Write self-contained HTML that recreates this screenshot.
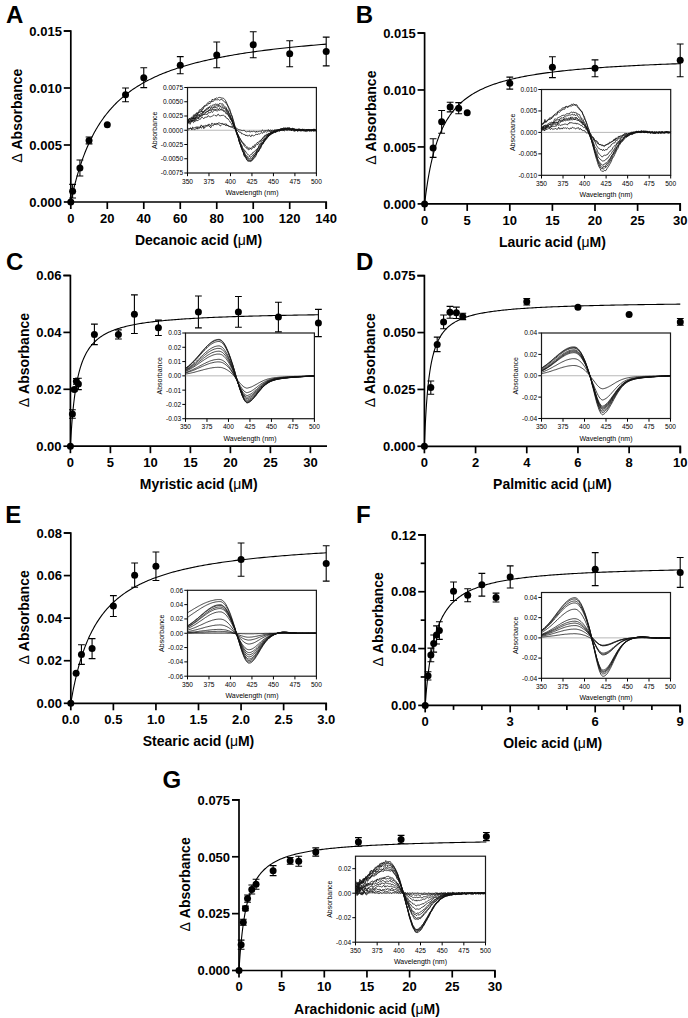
<!DOCTYPE html><html><head><meta charset="utf-8"><style>html,body{margin:0;padding:0;background:#fff;}svg{display:block;}</style></head><body>
<svg width="688" height="1018" viewBox="0 0 688 1018" font-family='"Liberation Sans", sans-serif'>
<rect width="688" height="1018" fill="#fff"/>
<text x="5.90" y="22.90" font-size="24" font-weight="bold" text-anchor="start">A</text>
<path d="M63.80 31.00H70.80V202.00H326.20V209.00" fill="none" stroke="#000" stroke-width="1.7"/>
<path d="M63.80 202.00H70.80" stroke="#000" stroke-width="1.7"/>
<text x="61.90" y="206.75" font-size="13" font-weight="bold" text-anchor="end">0.000</text>
<path d="M63.80 145.00H70.80" stroke="#000" stroke-width="1.7"/>
<text x="61.90" y="149.75" font-size="13" font-weight="bold" text-anchor="end">0.005</text>
<path d="M63.80 88.00H70.80" stroke="#000" stroke-width="1.7"/>
<text x="61.90" y="92.75" font-size="13" font-weight="bold" text-anchor="end">0.010</text>
<path d="M63.80 31.00H70.80" stroke="#000" stroke-width="1.7"/>
<text x="61.90" y="35.75" font-size="13" font-weight="bold" text-anchor="end">0.015</text>
<path d="M70.80 202.00V209.00" stroke="#000" stroke-width="1.7"/>
<text x="70.80" y="222.80" font-size="13" font-weight="bold" text-anchor="middle">0</text>
<path d="M107.29 202.00V209.00" stroke="#000" stroke-width="1.7"/>
<text x="107.29" y="222.80" font-size="13" font-weight="bold" text-anchor="middle">20</text>
<path d="M143.77 202.00V209.00" stroke="#000" stroke-width="1.7"/>
<text x="143.77" y="222.80" font-size="13" font-weight="bold" text-anchor="middle">40</text>
<path d="M180.26 202.00V209.00" stroke="#000" stroke-width="1.7"/>
<text x="180.26" y="222.80" font-size="13" font-weight="bold" text-anchor="middle">60</text>
<path d="M216.74 202.00V209.00" stroke="#000" stroke-width="1.7"/>
<text x="216.74" y="222.80" font-size="13" font-weight="bold" text-anchor="middle">80</text>
<path d="M253.23 202.00V209.00" stroke="#000" stroke-width="1.7"/>
<text x="253.23" y="222.80" font-size="13" font-weight="bold" text-anchor="middle">100</text>
<path d="M289.71 202.00V209.00" stroke="#000" stroke-width="1.7"/>
<text x="289.71" y="222.80" font-size="13" font-weight="bold" text-anchor="middle">120</text>
<path d="M326.20 202.00V209.00" stroke="#000" stroke-width="1.7"/>
<text x="326.20" y="222.80" font-size="13" font-weight="bold" text-anchor="middle">140</text>
<text transform="translate(21.77 115.70) rotate(-90)" font-size="14" font-weight="bold" text-anchor="middle"><tspan font-weight="normal">Δ</tspan> Absorbance</text>
<text x="198.50" y="245.00" font-size="14" font-weight="bold" text-anchor="middle">Decanoic acid (<tspan font-weight="normal">μ</tspan>M)</text>
<polyline points="70.80,202.00 70.81,201.97 70.83,201.88 70.86,201.73 70.90,201.51 70.96,201.24 71.03,200.91 71.11,200.51 71.21,200.06 71.32,199.56 71.44,198.99 71.57,198.37 71.72,197.70 71.88,196.98 72.05,196.20 72.24,195.37 72.43,194.50 72.65,193.57 72.87,192.61 73.10,191.60 73.35,190.54 73.62,189.45 73.89,188.32 74.18,187.15 74.48,185.95 74.79,184.71 75.12,183.45 75.45,182.15 75.81,180.83 76.17,179.48 76.55,178.11 76.94,176.72 77.34,175.30 77.75,173.87 78.18,172.42 78.62,170.96 79.07,169.48 79.54,168.00 80.02,166.50 80.51,164.99 81.02,163.48 81.53,161.96 82.06,160.43 82.61,158.91 83.16,157.38 83.73,155.85 84.31,154.32 84.90,152.80 85.51,151.27 86.13,149.75 86.76,148.24 87.41,146.73 88.07,145.22 88.74,143.73 89.42,142.24 90.11,140.76 90.82,139.29 91.54,137.83 92.28,136.38 93.03,134.94 93.79,133.52 94.56,132.10 95.34,130.70 96.14,129.31 96.95,127.94 97.78,126.58 98.61,125.23 99.46,123.89 100.32,122.57 101.20,121.27 102.09,119.98 102.99,118.70 103.90,117.44 104.83,116.20 105.76,114.97 106.72,113.75 107.68,112.55 108.66,111.37 109.65,110.20 110.65,109.04 111.66,107.90 112.69,106.78 113.73,105.67 114.79,104.58 115.85,103.50 116.93,102.44 118.02,101.39 119.13,100.36 120.25,99.34 121.38,98.33 122.52,97.34 123.67,96.37 124.84,95.40 126.02,94.46 127.22,93.52 128.42,92.60 129.64,91.70 130.88,90.80 132.12,89.92 133.38,89.06 134.65,88.20 135.93,87.36 137.23,86.54 138.54,85.72 139.86,84.92 141.19,84.13 142.54,83.35 143.90,82.58 145.27,81.82 146.66,81.08 148.06,80.35 149.47,79.62 150.89,78.91 152.33,78.21 153.78,77.52 155.24,76.85 156.72,76.18 158.20,75.52 159.70,74.87 161.22,74.23 162.74,73.60 164.28,72.98 165.83,72.37 167.40,71.77 168.98,71.18 170.57,70.60 172.17,70.02 173.78,69.46 175.41,68.90 177.05,68.35 178.71,67.81 180.37,67.28 182.05,66.76 183.74,66.24 185.45,65.73 187.17,65.23 188.90,64.74 190.64,64.25 192.40,63.77 194.16,63.30 195.95,62.83 197.74,62.38 199.55,61.92 201.37,61.48 203.20,61.04 205.04,60.61 206.90,60.18 208.77,59.76 210.66,59.35 212.55,58.94 214.46,58.54 216.38,58.14 218.32,57.75 220.27,57.37 222.23,56.99 224.20,56.62 226.19,56.25 228.18,55.88 230.20,55.53 232.22,55.17 234.26,54.82 236.31,54.48 238.37,54.14 240.44,53.81 242.53,53.48 244.63,53.15 246.75,52.83 248.87,52.52 251.01,52.21 253.16,51.90 255.33,51.59 257.50,51.30 259.69,51.00 261.90,50.71 264.11,50.42 266.34,50.14 268.58,49.86 270.84,49.58 273.10,49.31 275.38,49.04 277.67,48.78 279.98,48.52 282.30,48.26 284.63,48.00 286.97,47.75 289.33,47.50 291.70,47.26 294.08,47.02 296.47,46.78 298.88,46.54 301.30,46.31 303.73,46.08 306.18,45.85 308.63,45.63 311.11,45.41 313.59,45.19 316.09,44.97 318.60,44.76 321.12,44.55 323.65,44.34 326.20,44.14" fill="none" stroke="#000" stroke-width="1.1"/>
<path d="M72.62 184.33V198.01M69.22 184.33H76.02M69.22 198.01H76.02" stroke="#000" stroke-width="1.1" fill="none"/>
<path d="M79.92 160.05V176.01M76.52 160.05H83.32M76.52 176.01H83.32" stroke="#000" stroke-width="1.1" fill="none"/>
<path d="M89.04 137.02V143.86M85.64 137.02H92.44M85.64 143.86H92.44" stroke="#000" stroke-width="1.1" fill="none"/>
<path d="M125.53 88.00V101.68M122.13 88.00H128.93M122.13 101.68H128.93" stroke="#000" stroke-width="1.1" fill="none"/>
<path d="M143.77 67.82V87.66M140.37 67.82H147.17M140.37 87.66H147.17" stroke="#000" stroke-width="1.1" fill="none"/>
<path d="M180.26 56.65V73.75M176.86 56.65H183.66M176.86 73.75H183.66" stroke="#000" stroke-width="1.1" fill="none"/>
<path d="M216.74 42.06V67.82M213.34 42.06H220.14M213.34 67.82H220.14" stroke="#000" stroke-width="1.1" fill="none"/>
<path d="M253.23 31.68V57.68M249.83 31.68H256.63M249.83 57.68H256.63" stroke="#000" stroke-width="1.1" fill="none"/>
<path d="M289.71 40.80V66.80M286.31 40.80H293.11M286.31 66.80H293.11" stroke="#000" stroke-width="1.1" fill="none"/>
<path d="M326.20 37.16V65.88M322.80 37.16H329.60M322.80 65.88H329.60" stroke="#000" stroke-width="1.1" fill="none"/>
<circle cx="70.80" cy="202.00" r="3.5"/>
<circle cx="72.62" cy="191.17" r="3.5"/>
<circle cx="79.92" cy="168.03" r="3.5"/>
<circle cx="89.04" cy="140.44" r="3.5"/>
<circle cx="107.29" cy="124.82" r="3.5"/>
<circle cx="125.53" cy="94.84" r="3.5"/>
<circle cx="143.77" cy="77.74" r="3.5"/>
<circle cx="180.26" cy="65.20" r="3.5"/>
<circle cx="216.74" cy="54.94" r="3.5"/>
<circle cx="253.23" cy="44.68" r="3.5"/>
<circle cx="289.71" cy="53.80" r="3.5"/>
<circle cx="326.20" cy="51.52" r="3.5"/>
<rect x="187.50" y="87.50" width="128.90" height="85.50" fill="#fff" stroke="#1a1a1a" stroke-width="1.2"/>
<path d="M187.50 130.25H316.40" stroke="#b0b0b0" stroke-width="0.9"/>
<polyline points="187.5,120.5 188.4,119.3 189.2,118.7 190.1,118.2 190.9,118.3 191.8,116.9 192.7,117.6 193.5,114.9 194.4,115.4 195.2,113.8 196.1,114.5 197.0,112.4 197.8,113.4 198.7,111.7 199.5,109.8 200.4,109.5 201.2,109.6 202.1,107.8 203.0,107.9 203.8,106.2 204.7,106.0 205.5,105.1 206.4,104.6 207.3,103.2 208.1,102.7 209.0,101.6 209.8,101.8 210.7,101.7 211.6,101.3 212.4,99.0 213.3,100.2 214.1,99.3 215.0,98.6 215.9,98.5 216.7,97.9 217.6,98.3 218.4,97.6 219.3,97.4 220.2,97.6 221.0,97.7 221.9,98.2 222.7,98.1 223.6,98.3 224.5,99.3 225.3,100.2 226.2,101.7 227.0,103.5 227.9,105.6 228.7,107.3 229.6,108.7 230.5,111.8 231.3,114.6 232.2,116.1 233.0,119.0 233.9,121.8 234.8,126.1 235.6,127.4 236.5,131.4 237.3,134.4 238.2,136.4 239.1,139.8 239.9,142.7 240.8,146.4 241.6,148.2 242.5,151.5 243.4,152.4 244.2,156.3 245.1,156.9 245.9,158.5 246.8,159.3 247.7,160.7 248.5,161.2 249.4,161.0 250.2,161.8 251.1,161.2 251.9,160.7 252.8,159.8 253.7,158.6 254.5,157.6 255.4,157.1 256.2,155.1 257.1,152.0 258.0,152.1 258.8,150.5 259.7,149.1 260.5,148.7 261.4,146.4 262.3,143.8 263.1,144.0 264.0,142.0 264.8,140.9 265.7,138.9 266.6,139.3 267.4,137.3 268.3,137.0 269.1,135.2 270.0,134.9 270.9,134.7 271.7,133.3 272.6,133.1 273.4,133.3 274.3,131.3 275.2,132.9 276.0,130.8 276.9,130.6 277.7,131.4 278.6,129.9 279.4,129.8 280.3,129.8 281.2,129.3 282.0,129.6 282.9,129.3 283.7,129.5 284.6,128.7 285.5,127.8 286.3,128.2 287.2,128.9 288.0,129.5 288.9,129.6 289.8,129.3 290.6,129.2 291.5,129.5 292.3,128.7 293.2,129.5 294.1,128.9 294.9,130.3 295.8,129.6 296.6,129.5 297.5,129.4 298.4,129.9 299.2,130.4 300.1,129.3 300.9,130.7 301.8,129.2 302.7,130.6 303.5,130.4 304.4,130.0 305.2,131.0 306.1,129.8 306.9,129.4 307.8,130.6 308.7,129.7 309.5,130.1 310.4,130.9 311.2,130.8 312.1,130.1 313.0,129.5 313.8,130.9 314.7,129.6 315.5,130.8 316.4,131.5" fill="none" stroke="#111" stroke-width="0.8" stroke-linejoin="round"/>
<polyline points="187.5,119.8 188.4,121.5 189.2,118.4 190.1,119.2 190.9,118.5 191.8,118.7 192.7,119.1 193.5,116.5 194.4,115.7 195.2,115.2 196.1,114.4 197.0,113.9 197.8,113.0 198.7,112.7 199.5,111.5 200.4,110.7 201.2,111.9 202.1,109.3 203.0,109.4 203.8,107.5 204.7,105.7 205.5,106.2 206.4,105.3 207.3,105.4 208.1,104.3 209.0,103.0 209.8,103.9 210.7,102.5 211.6,101.2 212.4,101.5 213.3,101.5 214.1,100.6 215.0,99.3 215.9,100.1 216.7,99.7 217.6,99.8 218.4,99.5 219.3,100.3 220.2,99.8 221.0,99.5 221.9,99.3 222.7,100.0 223.6,101.3 224.5,101.9 225.3,101.8 226.2,103.8 227.0,104.6 227.9,106.2 228.7,108.7 229.6,110.4 230.5,112.6 231.3,114.6 232.2,117.1 233.0,120.7 233.9,123.2 234.8,125.9 235.6,129.2 236.5,131.6 237.3,134.4 238.2,137.1 239.1,140.7 239.9,143.4 240.8,145.4 241.6,148.9 242.5,150.3 243.4,152.6 244.2,154.8 245.1,156.4 245.9,156.9 246.8,160.1 247.7,160.9 248.5,160.7 249.4,161.1 250.2,160.0 251.1,160.4 251.9,160.5 252.8,159.2 253.7,158.4 254.5,156.0 255.4,154.8 256.2,154.9 257.1,152.7 258.0,151.5 258.8,151.3 259.7,148.4 260.5,147.4 261.4,145.6 262.3,144.3 263.1,143.0 264.0,141.8 264.8,141.3 265.7,138.7 266.6,138.3 267.4,137.3 268.3,136.0 269.1,135.8 270.0,135.2 270.9,133.9 271.7,133.3 272.6,133.4 273.4,131.8 274.3,132.1 275.2,131.9 276.0,131.9 276.9,131.2 277.7,130.8 278.6,130.9 279.4,130.9 280.3,130.4 281.2,128.9 282.0,128.9 282.9,129.3 283.7,127.6 284.6,129.4 285.5,128.5 286.3,129.3 287.2,128.4 288.0,128.6 288.9,128.0 289.8,127.7 290.6,130.1 291.5,128.6 292.3,129.0 293.2,129.5 294.1,129.8 294.9,129.8 295.8,129.9 296.6,129.0 297.5,130.3 298.4,128.9 299.2,129.4 300.1,129.6 300.9,130.3 301.8,130.1 302.7,129.9 303.5,129.5 304.4,130.8 305.2,129.8 306.1,131.2 306.9,130.4 307.8,130.1 308.7,130.0 309.5,131.4 310.4,129.7 311.2,129.8 312.1,129.6 313.0,130.2 313.8,130.1 314.7,130.0 315.5,130.7 316.4,130.6" fill="none" stroke="#111" stroke-width="0.8" stroke-linejoin="round"/>
<polyline points="187.5,122.5 188.4,120.1 189.2,120.1 190.1,119.1 190.9,120.1 191.8,118.1 192.7,118.7 193.5,118.1 194.4,116.2 195.2,115.6 196.1,115.6 197.0,116.3 197.8,113.7 198.7,112.4 199.5,112.5 200.4,112.1 201.2,111.5 202.1,110.7 203.0,112.2 203.8,111.3 204.7,110.4 205.5,110.0 206.4,108.5 207.3,108.1 208.1,107.6 209.0,107.3 209.8,106.6 210.7,105.8 211.6,106.3 212.4,105.3 213.3,104.6 214.1,105.6 215.0,104.0 215.9,104.1 216.7,104.4 217.6,104.1 218.4,105.2 219.3,103.6 220.2,103.3 221.0,104.2 221.9,103.8 222.7,103.8 223.6,105.5 224.5,106.3 225.3,106.9 226.2,107.4 227.0,110.1 227.9,110.1 228.7,112.3 229.6,113.8 230.5,116.0 231.3,118.1 232.2,119.8 233.0,122.9 233.9,124.8 234.8,128.0 235.6,129.8 236.5,132.7 237.3,134.9 238.2,137.8 239.1,140.3 239.9,143.6 240.8,145.7 241.6,147.9 242.5,150.1 243.4,152.6 244.2,155.2 245.1,155.4 245.9,156.9 246.8,157.9 247.7,159.5 248.5,159.9 249.4,159.9 250.2,160.2 251.1,160.1 251.9,159.3 252.8,157.6 253.7,156.6 254.5,155.3 255.4,155.1 256.2,153.1 257.1,150.7 258.0,151.3 258.8,149.9 259.7,148.3 260.5,146.8 261.4,145.2 262.3,142.6 263.1,143.2 264.0,140.4 264.8,140.1 265.7,138.6 266.6,138.4 267.4,137.5 268.3,136.5 269.1,135.0 270.0,134.1 270.9,133.6 271.7,134.1 272.6,133.5 273.4,132.3 274.3,131.1 275.2,131.5 276.0,131.2 276.9,130.8 277.7,130.4 278.6,130.5 279.4,129.8 280.3,128.5 281.2,128.9 282.0,129.1 282.9,129.2 283.7,128.6 284.6,128.0 285.5,129.0 286.3,129.0 287.2,127.8 288.0,128.1 288.9,128.7 289.8,128.6 290.6,129.0 291.5,128.7 292.3,128.2 293.2,129.0 294.1,129.9 294.9,129.8 295.8,128.8 296.6,130.1 297.5,131.5 298.4,129.6 299.2,128.6 300.1,130.1 300.9,130.3 301.8,130.2 302.7,129.2 303.5,130.2 304.4,130.7 305.2,130.9 306.1,131.6 306.9,130.1 307.8,131.4 308.7,130.4 309.5,129.6 310.4,130.4 311.2,130.3 312.1,131.2 313.0,129.4 313.8,129.4 314.7,129.7 315.5,130.3 316.4,130.1" fill="none" stroke="#111" stroke-width="0.8" stroke-linejoin="round"/>
<polyline points="187.5,121.4 188.4,119.5 189.2,121.2 190.1,120.8 190.9,120.7 191.8,119.8 192.7,118.2 193.5,119.0 194.4,117.0 195.2,116.3 196.1,116.0 197.0,114.7 197.8,114.9 198.7,114.7 199.5,115.0 200.4,113.7 201.2,113.6 202.1,113.0 203.0,111.7 203.8,112.1 204.7,110.3 205.5,110.5 206.4,110.2 207.3,108.8 208.1,109.4 209.0,107.3 209.8,107.1 210.7,108.8 211.6,107.0 212.4,107.1 213.3,107.2 214.1,107.0 215.0,106.6 215.9,105.9 216.7,105.0 217.6,105.7 218.4,105.5 219.3,105.3 220.2,106.1 221.0,106.4 221.9,105.5 222.7,106.2 223.6,106.9 224.5,107.8 225.3,108.0 226.2,109.0 227.0,111.1 227.9,111.1 228.7,113.2 229.6,114.8 230.5,117.1 231.3,119.6 232.2,120.3 233.0,123.4 233.9,125.2 234.8,127.3 235.6,129.7 236.5,133.3 237.3,135.6 238.2,137.2 239.1,140.6 239.9,143.0 240.8,145.8 241.6,147.9 242.5,149.4 243.4,151.8 244.2,152.5 245.1,155.0 245.9,156.1 246.8,157.6 247.7,157.7 248.5,159.0 249.4,158.9 250.2,158.1 251.1,158.2 251.9,158.4 252.8,157.7 253.7,155.5 254.5,155.4 255.4,153.8 256.2,152.4 257.1,150.6 258.0,149.5 258.8,148.6 259.7,147.5 260.5,145.7 261.4,144.4 262.3,143.3 263.1,142.4 264.0,140.0 264.8,139.1 265.7,138.9 266.6,137.2 267.4,135.2 268.3,136.1 269.1,134.1 270.0,133.7 270.9,133.5 271.7,132.7 272.6,133.1 273.4,132.2 274.3,132.2 275.2,131.6 276.0,131.3 276.9,131.1 277.7,130.7 278.6,130.1 279.4,130.0 280.3,129.8 281.2,129.7 282.0,129.2 282.9,129.4 283.7,129.7 284.6,128.9 285.5,128.6 286.3,128.9 287.2,128.3 288.0,129.0 288.9,128.3 289.8,129.4 290.6,129.3 291.5,129.3 292.3,129.0 293.2,129.3 294.1,129.0 294.9,129.1 295.8,129.7 296.6,129.9 297.5,129.7 298.4,130.2 299.2,129.7 300.1,129.6 300.9,130.1 301.8,130.4 302.7,130.8 303.5,129.5 304.4,130.4 305.2,130.2 306.1,130.6 306.9,130.3 307.8,129.9 308.7,129.9 309.5,130.4 310.4,129.8 311.2,129.8 312.1,129.8 313.0,130.2 313.8,131.6 314.7,130.3 315.5,129.9 316.4,131.1" fill="none" stroke="#111" stroke-width="0.8" stroke-linejoin="round"/>
<polyline points="187.5,122.9 188.4,121.5 189.2,122.3 190.1,122.2 190.9,121.7 191.8,120.3 192.7,121.3 193.5,117.9 194.4,119.3 195.2,117.4 196.1,117.9 197.0,116.2 197.8,116.3 198.7,115.1 199.5,115.1 200.4,115.3 201.2,114.5 202.1,114.0 203.0,112.2 203.8,112.5 204.7,111.9 205.5,112.2 206.4,112.3 207.3,111.2 208.1,111.2 209.0,110.1 209.8,109.5 210.7,109.7 211.6,109.3 212.4,108.7 213.3,107.4 214.1,107.1 215.0,107.3 215.9,107.6 216.7,107.2 217.6,107.1 218.4,106.3 219.3,107.0 220.2,106.7 221.0,106.9 221.9,107.5 222.7,107.1 223.6,108.6 224.5,108.4 225.3,109.3 226.2,110.5 227.0,111.8 227.9,112.8 228.7,114.7 229.6,115.5 230.5,117.6 231.3,119.5 232.2,121.2 233.0,124.1 233.9,126.2 234.8,127.7 235.6,130.0 236.5,132.7 237.3,133.7 238.2,137.5 239.1,141.7 239.9,143.5 240.8,144.2 241.6,145.9 242.5,148.5 243.4,149.6 244.2,151.1 245.1,154.4 245.9,155.1 246.8,155.9 247.7,156.4 248.5,157.4 249.4,156.4 250.2,157.1 251.1,157.0 251.9,156.2 252.8,155.3 253.7,154.2 254.5,153.5 255.4,152.5 256.2,151.4 257.1,150.1 258.0,148.3 258.8,147.0 259.7,145.9 260.5,144.6 261.4,143.2 262.3,143.4 263.1,141.5 264.0,140.9 264.8,139.5 265.7,138.1 266.6,137.6 267.4,136.7 268.3,134.6 269.1,135.1 270.0,134.9 270.9,133.4 271.7,132.9 272.6,132.6 273.4,132.0 274.3,131.3 275.2,131.2 276.0,131.2 276.9,131.0 277.7,130.9 278.6,130.5 279.4,131.3 280.3,129.9 281.2,129.8 282.0,129.1 282.9,128.6 283.7,130.5 284.6,128.3 285.5,128.9 286.3,128.1 287.2,129.2 288.0,128.3 288.9,128.0 289.8,129.2 290.6,128.9 291.5,130.0 292.3,129.6 293.2,129.4 294.1,129.0 294.9,129.2 295.8,129.8 296.6,129.8 297.5,130.3 298.4,130.1 299.2,130.6 300.1,129.7 300.9,130.0 301.8,130.4 302.7,130.3 303.5,130.9 304.4,129.7 305.2,129.9 306.1,130.6 306.9,131.1 307.8,130.3 308.7,130.3 309.5,129.6 310.4,130.5 311.2,131.2 312.1,130.7 313.0,130.1 313.8,129.5 314.7,129.1 315.5,130.9 316.4,131.5" fill="none" stroke="#111" stroke-width="0.8" stroke-linejoin="round"/>
<polyline points="187.5,122.5 188.4,123.1 189.2,121.8 190.1,121.8 190.9,122.0 191.8,121.7 192.7,120.3 193.5,120.9 194.4,118.1 195.2,119.5 196.1,116.6 197.0,117.9 197.8,118.4 198.7,116.9 199.5,116.8 200.4,115.6 201.2,115.2 202.1,115.8 203.0,114.4 203.8,113.8 204.7,114.2 205.5,112.5 206.4,111.9 207.3,111.4 208.1,111.8 209.0,110.0 209.8,110.6 210.7,110.7 211.6,110.8 212.4,109.4 213.3,109.8 214.1,108.8 215.0,109.8 215.9,109.9 216.7,108.8 217.6,108.8 218.4,110.0 219.3,108.4 220.2,108.9 221.0,109.8 221.9,108.5 222.7,109.3 223.6,110.8 224.5,110.8 225.3,110.9 226.2,111.5 227.0,112.9 227.9,114.4 228.7,115.8 229.6,117.0 230.5,118.6 231.3,119.8 232.2,122.1 233.0,123.8 233.9,125.9 234.8,128.0 235.6,130.0 236.5,131.8 237.3,134.6 238.2,136.7 239.1,139.2 239.9,140.7 240.8,144.0 241.6,144.6 242.5,147.7 243.4,148.8 244.2,150.2 245.1,150.6 245.9,152.0 246.8,153.5 247.7,154.2 248.5,155.0 249.4,155.6 250.2,155.1 251.1,154.3 251.9,154.3 252.8,152.4 253.7,152.3 254.5,151.2 255.4,150.4 256.2,150.2 257.1,148.7 258.0,148.6 258.8,146.0 259.7,143.8 260.5,143.9 261.4,141.9 262.3,140.6 263.1,140.4 264.0,138.8 264.8,138.6 265.7,137.5 266.6,136.3 267.4,135.6 268.3,135.9 269.1,134.4 270.0,133.7 270.9,133.8 271.7,131.5 272.6,132.4 273.4,132.3 274.3,131.6 275.2,131.9 276.0,132.3 276.9,131.5 277.7,131.0 278.6,130.0 279.4,130.9 280.3,130.2 281.2,129.9 282.0,128.1 282.9,130.1 283.7,129.2 284.6,129.3 285.5,129.0 286.3,129.7 287.2,127.8 288.0,128.9 288.9,127.7 289.8,128.6 290.6,130.0 291.5,129.6 292.3,128.9 293.2,129.5 294.1,130.6 294.9,130.5 295.8,130.7 296.6,130.2 297.5,129.3 298.4,130.5 299.2,130.1 300.1,130.4 300.9,130.9 301.8,130.2 302.7,130.4 303.5,129.4 304.4,130.0 305.2,131.2 306.1,130.2 306.9,129.3 307.8,130.8 308.7,130.1 309.5,129.9 310.4,130.1 311.2,130.1 312.1,130.2 313.0,131.0 313.8,130.3 314.7,130.8 315.5,130.2 316.4,130.6" fill="none" stroke="#111" stroke-width="0.8" stroke-linejoin="round"/>
<polyline points="187.5,123.5 188.4,121.6 189.2,122.0 190.1,120.3 190.9,119.9 191.8,121.1 192.7,120.2 193.5,121.1 194.4,121.0 195.2,118.5 196.1,118.9 197.0,118.7 197.8,117.4 198.7,118.9 199.5,115.4 200.4,116.6 201.2,116.5 202.1,115.5 203.0,114.0 203.8,114.9 204.7,114.3 205.5,114.2 206.4,114.4 207.3,114.5 208.1,112.8 209.0,112.6 209.8,112.7 210.7,112.4 211.6,111.6 212.4,112.5 213.3,111.3 214.1,110.2 215.0,110.1 215.9,110.1 216.7,111.1 217.6,110.8 218.4,110.1 219.3,110.4 220.2,109.6 221.0,110.3 221.9,109.7 222.7,110.3 223.6,111.4 224.5,111.6 225.3,112.2 226.2,114.0 227.0,113.6 227.9,114.7 228.7,116.2 229.6,117.4 230.5,119.7 231.3,119.6 232.2,121.5 233.0,123.9 233.9,124.8 234.8,127.3 235.6,128.8 236.5,131.4 237.3,133.4 238.2,134.8 239.1,137.2 239.9,137.9 240.8,139.8 241.6,141.8 242.5,141.9 243.4,143.6 244.2,145.9 245.1,146.7 245.9,147.7 246.8,148.0 247.7,149.3 248.5,149.7 249.4,149.5 250.2,148.3 251.1,149.4 251.9,148.9 252.8,148.0 253.7,147.0 254.5,147.6 255.4,146.0 256.2,145.3 257.1,144.4 258.0,144.4 258.8,142.5 259.7,141.7 260.5,141.4 261.4,140.0 262.3,139.0 263.1,137.9 264.0,137.9 264.8,136.0 265.7,136.2 266.6,135.1 267.4,134.6 268.3,133.9 269.1,134.1 270.0,133.0 270.9,132.4 271.7,132.4 272.6,132.0 273.4,132.1 274.3,130.8 275.2,130.9 276.0,131.5 276.9,130.4 277.7,130.6 278.6,129.4 279.4,130.9 280.3,129.8 281.2,130.0 282.0,129.5 282.9,129.4 283.7,129.1 284.6,129.6 285.5,129.4 286.3,129.7 287.2,129.4 288.0,129.4 288.9,129.4 289.8,129.3 290.6,129.7 291.5,129.1 292.3,129.7 293.2,129.4 294.1,128.8 294.9,129.8 295.8,129.4 296.6,129.3 297.5,130.3 298.4,130.2 299.2,130.6 300.1,130.4 300.9,131.1 301.8,131.0 302.7,128.9 303.5,129.7 304.4,130.2 305.2,130.4 306.1,129.3 306.9,130.3 307.8,129.7 308.7,129.8 309.5,130.6 310.4,130.5 311.2,130.4 312.1,130.5 313.0,130.5 313.8,129.2 314.7,130.0 315.5,129.9 316.4,130.6" fill="none" stroke="#111" stroke-width="0.8" stroke-linejoin="round"/>
<polyline points="187.5,124.1 188.4,122.3 189.2,123.3 190.1,124.3 190.9,122.3 191.8,121.1 192.7,122.0 193.5,122.7 194.4,121.4 195.2,121.6 196.1,119.4 197.0,121.1 197.8,120.2 198.7,120.0 199.5,119.3 200.4,119.3 201.2,117.7 202.1,117.0 203.0,117.8 203.8,118.8 204.7,117.4 205.5,117.3 206.4,117.2 207.3,117.1 208.1,115.7 209.0,116.2 209.8,116.9 210.7,116.8 211.6,116.4 212.4,116.0 213.3,115.4 214.1,114.7 215.0,115.6 215.9,115.7 216.7,116.1 217.6,114.5 218.4,114.2 219.3,115.7 220.2,115.8 221.0,115.7 221.9,115.3 222.7,115.4 223.6,115.3 224.5,116.1 225.3,116.2 226.2,118.0 227.0,118.3 227.9,118.7 228.7,120.1 229.6,120.9 230.5,122.6 231.3,123.4 232.2,125.4 233.0,126.3 233.9,127.2 234.8,129.1 235.6,129.8 236.5,131.4 237.3,133.6 238.2,134.9 239.1,137.0 239.9,138.9 240.8,139.9 241.6,141.3 242.5,143.3 243.4,143.6 244.2,143.7 245.1,145.1 245.9,146.3 246.8,147.1 247.7,147.0 248.5,148.7 249.4,148.0 250.2,148.2 251.1,148.6 251.9,147.4 252.8,146.2 253.7,146.9 254.5,144.8 255.4,145.4 256.2,143.8 257.1,142.6 258.0,142.4 258.8,141.5 259.7,141.0 260.5,140.8 261.4,139.3 262.3,138.8 263.1,137.3 264.0,136.3 264.8,135.3 265.7,135.5 266.6,133.9 267.4,134.7 268.3,133.3 269.1,133.6 270.0,132.6 270.9,132.2 271.7,132.2 272.6,131.9 273.4,131.5 274.3,130.9 275.2,131.4 276.0,131.3 276.9,130.2 277.7,130.1 278.6,129.9 279.4,129.6 280.3,130.1 281.2,130.0 282.0,129.6 282.9,129.0 283.7,130.3 284.6,129.5 285.5,129.6 286.3,128.4 287.2,128.3 288.0,129.5 288.9,128.7 289.8,129.0 290.6,129.1 291.5,130.5 292.3,130.1 293.2,128.3 294.1,129.4 294.9,130.4 295.8,129.1 296.6,130.3 297.5,130.2 298.4,129.7 299.2,130.4 300.1,130.6 300.9,129.3 301.8,129.5 302.7,129.5 303.5,129.9 304.4,129.3 305.2,130.2 306.1,130.4 306.9,130.3 307.8,130.2 308.7,130.1 309.5,130.6 310.4,130.0 311.2,130.1 312.1,130.6 313.0,130.3 313.8,130.4 314.7,130.5 315.5,130.2 316.4,129.9" fill="none" stroke="#111" stroke-width="0.8" stroke-linejoin="round"/>
<polyline points="187.5,127.4 188.4,128.7 189.2,128.6 190.1,128.3 190.9,128.1 191.8,129.1 192.7,127.0 193.5,127.8 194.4,128.1 195.2,127.1 196.1,127.7 197.0,126.5 197.8,127.8 198.7,127.0 199.5,127.2 200.4,127.3 201.2,124.9 202.1,126.2 203.0,126.9 203.8,125.7 204.7,126.2 205.5,125.2 206.4,125.8 207.3,125.2 208.1,124.9 209.0,123.9 209.8,125.1 210.7,126.0 211.6,123.3 212.4,123.3 213.3,124.5 214.1,123.4 215.0,124.2 215.9,123.8 216.7,123.4 217.6,123.8 218.4,122.8 219.3,122.9 220.2,123.3 221.0,123.7 221.9,123.4 222.7,123.5 223.6,124.2 224.5,124.2 225.3,124.1 226.2,123.8 227.0,125.5 227.9,125.5 228.7,126.6 229.6,126.4 230.5,126.6 231.3,126.7 232.2,127.5 233.0,127.7 233.9,128.5 234.8,128.4 235.6,129.7 236.5,129.8 237.3,130.2 238.2,130.9 239.1,132.0 239.9,132.3 240.8,132.1 241.6,133.9 242.5,133.7 243.4,134.3 244.2,134.6 245.1,134.6 245.9,136.0 246.8,134.9 247.7,136.2 248.5,135.7 249.4,134.9 250.2,136.3 251.1,136.6 251.9,134.8 252.8,135.6 253.7,135.9 254.5,135.5 255.4,135.0 256.2,133.9 257.1,134.9 258.0,134.0 258.8,133.8 259.7,134.0 260.5,133.4 261.4,132.6 262.3,133.5 263.1,132.2 264.0,132.0 264.8,132.2 265.7,131.5 266.6,132.1 267.4,131.7 268.3,131.1 269.1,131.2 270.0,131.6 270.9,131.3 271.7,130.3 272.6,130.0 273.4,130.9 274.3,130.8 275.2,130.6 276.0,131.1 276.9,129.5 277.7,129.6 278.6,130.6 279.4,130.4 280.3,129.8 281.2,130.2 282.0,130.7 282.9,129.3 283.7,129.8 284.6,129.9 285.5,129.4 286.3,129.5 287.2,129.8 288.0,130.2 288.9,129.3 289.8,128.8 290.6,130.1 291.5,130.5 292.3,130.5 293.2,129.6 294.1,130.7 294.9,131.1 295.8,130.5 296.6,130.5 297.5,130.4 298.4,130.8 299.2,130.3 300.1,129.7 300.9,130.4 301.8,130.0 302.7,130.3 303.5,130.5 304.4,130.6 305.2,129.9 306.1,130.3 306.9,130.2 307.8,129.5 308.7,129.5 309.5,130.1 310.4,130.6 311.2,130.4 312.1,130.0 313.0,130.2 313.8,130.0 314.7,130.0 315.5,130.1 316.4,129.7" fill="none" stroke="#111" stroke-width="0.8" stroke-linejoin="round"/>
<polyline points="187.5,130.0 188.4,130.1 189.2,129.3 190.1,128.3 190.9,127.9 191.8,130.0 192.7,128.6 193.5,129.0 194.4,129.6 195.2,129.0 196.1,129.1 197.0,127.4 197.8,129.2 198.7,127.6 199.5,128.3 200.4,126.5 201.2,128.2 202.1,127.6 203.0,125.8 203.8,128.7 204.7,127.1 205.5,127.2 206.4,125.6 207.3,126.3 208.1,125.0 209.0,126.4 209.8,126.4 210.7,127.8 211.6,126.1 212.4,125.2 213.3,125.7 214.1,124.7 215.0,124.2 215.9,124.3 216.7,125.1 217.6,123.4 218.4,124.3 219.3,124.7 220.2,126.0 221.0,125.6 221.9,124.7 222.7,123.9 223.6,124.5 224.5,124.3 225.3,125.4 226.2,125.7 227.0,124.8 227.9,125.8 228.7,125.6 229.6,126.6 230.5,126.9 231.3,127.1 232.2,126.9 233.0,126.3 233.9,127.3 234.8,127.3 235.6,129.1 236.5,128.1 237.3,128.8 238.2,129.2 239.1,130.3 239.9,129.4 240.8,130.4 241.6,130.4 242.5,130.6 243.4,130.4 244.2,130.2 245.1,131.4 245.9,131.4 246.8,132.0 247.7,131.4 248.5,131.5 249.4,130.9 250.2,132.3 251.1,131.2 251.9,131.6 252.8,131.6 253.7,131.2 254.5,131.4 255.4,132.4 256.2,131.0 257.1,132.3 258.0,131.2 258.8,131.6 259.7,131.2 260.5,131.2 261.4,131.8 262.3,129.9 263.1,130.4 264.0,131.6 264.8,130.3 265.7,130.5 266.6,130.4 267.4,130.7 268.3,129.5 269.1,131.0 270.0,130.0 270.9,130.0 271.7,131.5 272.6,131.0 273.4,130.7 274.3,129.8 275.2,130.5 276.0,129.3 276.9,131.0 277.7,130.0 278.6,130.0 279.4,129.9 280.3,131.0 281.2,129.4 282.0,130.2 282.9,130.7 283.7,130.1 284.6,130.9 285.5,130.0 286.3,130.0 287.2,130.5 288.0,129.5 288.9,130.5 289.8,130.1 290.6,129.2 291.5,131.0 292.3,129.1 293.2,129.8 294.1,131.4 294.9,130.4 295.8,130.0 296.6,130.0 297.5,129.6 298.4,129.9 299.2,129.9 300.1,129.2 300.9,130.9 301.8,130.0 302.7,130.6 303.5,130.8 304.4,130.9 305.2,130.4 306.1,130.9 306.9,129.6 307.8,130.6 308.7,129.8 309.5,130.1 310.4,130.4 311.2,130.1 312.1,130.4 313.0,130.7 313.8,130.2 314.7,130.5 315.5,130.5 316.4,131.5" fill="none" stroke="#111" stroke-width="0.8" stroke-linejoin="round"/>
<path d="M184.30 87.50H187.50" stroke="#000" stroke-width="1"/>
<text x="183.10" y="89.90" font-size="6.6" font-weight="normal" text-anchor="end">0.0075</text>
<path d="M184.30 101.75H187.50" stroke="#000" stroke-width="1"/>
<text x="183.10" y="104.15" font-size="6.6" font-weight="normal" text-anchor="end">0.0050</text>
<path d="M184.30 116.00H187.50" stroke="#000" stroke-width="1"/>
<text x="183.10" y="118.40" font-size="6.6" font-weight="normal" text-anchor="end">0.0025</text>
<path d="M184.30 130.25H187.50" stroke="#000" stroke-width="1"/>
<text x="183.10" y="132.65" font-size="6.6" font-weight="normal" text-anchor="end">0.0000</text>
<path d="M184.30 144.50H187.50" stroke="#000" stroke-width="1"/>
<text x="183.10" y="146.90" font-size="6.6" font-weight="normal" text-anchor="end">-0.0025</text>
<path d="M184.30 158.75H187.50" stroke="#000" stroke-width="1"/>
<text x="183.10" y="161.15" font-size="6.6" font-weight="normal" text-anchor="end">-0.0050</text>
<path d="M184.30 173.00H187.50" stroke="#000" stroke-width="1"/>
<text x="183.10" y="175.40" font-size="6.6" font-weight="normal" text-anchor="end">-0.0075</text>
<path d="M187.50 173.00V176.20" stroke="#000" stroke-width="1"/>
<text x="187.50" y="183.50" font-size="6.6" font-weight="normal" text-anchor="middle">350</text>
<path d="M208.98 173.00V176.20" stroke="#000" stroke-width="1"/>
<text x="208.98" y="183.50" font-size="6.6" font-weight="normal" text-anchor="middle">375</text>
<path d="M230.47 173.00V176.20" stroke="#000" stroke-width="1"/>
<text x="230.47" y="183.50" font-size="6.6" font-weight="normal" text-anchor="middle">400</text>
<path d="M251.95 173.00V176.20" stroke="#000" stroke-width="1"/>
<text x="251.95" y="183.50" font-size="6.6" font-weight="normal" text-anchor="middle">425</text>
<path d="M273.43 173.00V176.20" stroke="#000" stroke-width="1"/>
<text x="273.43" y="183.50" font-size="6.6" font-weight="normal" text-anchor="middle">450</text>
<path d="M294.92 173.00V176.20" stroke="#000" stroke-width="1"/>
<text x="294.92" y="183.50" font-size="6.6" font-weight="normal" text-anchor="middle">475</text>
<path d="M316.40 173.00V176.20" stroke="#000" stroke-width="1"/>
<text x="316.40" y="183.50" font-size="6.6" font-weight="normal" text-anchor="middle">500</text>
<text x="251.95" y="195.10" font-size="7" font-weight="normal" text-anchor="middle">Wavelength (nm)</text>
<text transform="translate(157.12 130.25) rotate(-90)" font-size="7" text-anchor="middle">Absorbance</text>
<text x="355.80" y="22.80" font-size="24" font-weight="bold" text-anchor="start">B</text>
<path d="M417.60 33.00H424.60V203.90H680.20V210.90" fill="none" stroke="#000" stroke-width="1.7"/>
<path d="M417.60 203.90H424.60" stroke="#000" stroke-width="1.7"/>
<text x="415.70" y="208.65" font-size="13" font-weight="bold" text-anchor="end">0.000</text>
<path d="M417.60 146.93H424.60" stroke="#000" stroke-width="1.7"/>
<text x="415.70" y="151.68" font-size="13" font-weight="bold" text-anchor="end">0.005</text>
<path d="M417.60 89.97H424.60" stroke="#000" stroke-width="1.7"/>
<text x="415.70" y="94.72" font-size="13" font-weight="bold" text-anchor="end">0.010</text>
<path d="M417.60 33.00H424.60" stroke="#000" stroke-width="1.7"/>
<text x="415.70" y="37.75" font-size="13" font-weight="bold" text-anchor="end">0.015</text>
<path d="M424.60 203.90V210.90" stroke="#000" stroke-width="1.7"/>
<text x="424.60" y="224.70" font-size="13" font-weight="bold" text-anchor="middle">0</text>
<path d="M467.20 203.90V210.90" stroke="#000" stroke-width="1.7"/>
<text x="467.20" y="224.70" font-size="13" font-weight="bold" text-anchor="middle">5</text>
<path d="M509.80 203.90V210.90" stroke="#000" stroke-width="1.7"/>
<text x="509.80" y="224.70" font-size="13" font-weight="bold" text-anchor="middle">10</text>
<path d="M552.40 203.90V210.90" stroke="#000" stroke-width="1.7"/>
<text x="552.40" y="224.70" font-size="13" font-weight="bold" text-anchor="middle">15</text>
<path d="M595.00 203.90V210.90" stroke="#000" stroke-width="1.7"/>
<text x="595.00" y="224.70" font-size="13" font-weight="bold" text-anchor="middle">20</text>
<path d="M637.60 203.90V210.90" stroke="#000" stroke-width="1.7"/>
<text x="637.60" y="224.70" font-size="13" font-weight="bold" text-anchor="middle">25</text>
<path d="M680.20 203.90V210.90" stroke="#000" stroke-width="1.7"/>
<text x="680.20" y="224.70" font-size="13" font-weight="bold" text-anchor="middle">30</text>
<text transform="translate(375.57 117.65) rotate(-90)" font-size="14" font-weight="bold" text-anchor="middle"><tspan font-weight="normal">Δ</tspan> Absorbance</text>
<text x="552.40" y="246.90" font-size="14" font-weight="bold" text-anchor="middle">Lauric acid (<tspan font-weight="normal">μ</tspan>M)</text>
<polyline points="424.60,203.90 424.61,203.85 424.63,203.68 424.66,203.41 424.70,203.03 424.76,202.55 424.83,201.96 424.91,201.27 425.01,200.48 425.12,199.60 425.24,198.63 425.37,197.57 425.52,196.42 425.68,195.20 425.85,193.90 426.04,192.54 426.24,191.11 426.45,189.61 426.67,188.07 426.91,186.47 427.16,184.82 427.42,183.14 427.69,181.42 427.98,179.67 428.28,177.89 428.59,176.09 428.92,174.27 429.26,172.43 429.61,170.58 429.97,168.73 430.35,166.87 430.74,165.01 431.14,163.16 431.56,161.31 431.99,159.46 432.43,157.63 432.88,155.81 433.35,154.00 433.83,152.21 434.32,150.44 434.82,148.68 435.34,146.95 435.87,145.24 436.42,143.55 436.97,141.89 437.54,140.25 438.12,138.63 438.72,137.04 439.32,135.48 439.94,133.94 440.58,132.43 441.22,130.95 441.88,129.50 442.55,128.07 443.23,126.67 443.93,125.30 444.64,123.95 445.36,122.63 446.10,121.34 446.84,120.08 447.60,118.84 448.38,117.62 449.16,116.44 449.96,115.27 450.77,114.14 451.60,113.02 452.43,111.94 453.28,110.87 454.15,109.83 455.02,108.81 455.91,107.81 456.81,106.84 457.73,105.89 458.65,104.96 459.59,104.04 460.54,103.15 461.51,102.28 462.49,101.43 463.48,100.60 464.48,99.79 465.50,98.99 466.52,98.21 467.57,97.45 468.62,96.71 469.69,95.98 470.77,95.27 471.86,94.57 472.97,93.89 474.08,93.23 475.22,92.58 476.36,91.94 477.52,91.32 478.68,90.71 479.87,90.11 481.06,89.53 482.27,88.96 483.49,88.40 484.72,87.86 485.97,87.32 487.23,86.80 488.50,86.29 489.78,85.79 491.08,85.30 492.39,84.82 493.71,84.35 495.05,83.89 496.40,83.44 497.76,83.00 499.13,82.56 500.52,82.14 501.92,81.73 503.33,81.32 504.76,80.92 506.19,80.53 507.64,80.15 509.11,79.77 510.58,79.41 512.07,79.05 513.57,78.69 515.09,78.35 516.62,78.01 518.16,77.68 519.71,77.35 521.27,77.03 522.85,76.72 524.44,76.41 526.05,76.11 527.66,75.81 529.29,75.52 530.94,75.24 532.59,74.96 534.26,74.68 535.94,74.41 537.63,74.15 539.34,73.89 541.06,73.64 542.79,73.39 544.53,73.14 546.29,72.90 548.06,72.66 549.84,72.43 551.64,72.20 553.45,71.98 555.27,71.76 557.10,71.54 558.95,71.33 560.81,71.12 562.68,70.91 564.57,70.71 566.46,70.51 568.38,70.32 570.30,70.12 572.23,69.94 574.18,69.75 576.15,69.57 578.12,69.39 580.11,69.21 582.11,69.04 584.12,68.87 586.15,68.70 588.18,68.53 590.24,68.37 592.30,68.21 594.38,68.06 596.47,67.90 598.57,67.75 600.68,67.60 602.81,67.45 604.95,67.31 607.10,67.16 609.27,67.02 611.45,66.88 613.64,66.75 615.85,66.61 618.06,66.48 620.29,66.35 622.54,66.22 624.79,66.10 627.06,65.97 629.34,65.85 631.64,65.73 633.94,65.61 636.26,65.49 638.59,65.38 640.94,65.26 643.30,65.15 645.67,65.04 648.05,64.93 650.45,64.82 652.86,64.72 655.28,64.61 657.71,64.51 660.16,64.41 662.62,64.31 665.09,64.21 667.58,64.11 670.08,64.02 672.59,63.92 675.11,63.83 677.65,63.74 680.20,63.65" fill="none" stroke="#000" stroke-width="1.1"/>
<path d="M433.12 138.73V157.42M429.72 138.73H436.52M429.72 157.42H436.52" stroke="#000" stroke-width="1.1" fill="none"/>
<path d="M441.64 110.47V133.26M438.24 110.47H445.04M438.24 133.26H445.04" stroke="#000" stroke-width="1.1" fill="none"/>
<path d="M450.16 102.27V111.84M446.76 102.27H453.56M446.76 111.84H453.56" stroke="#000" stroke-width="1.1" fill="none"/>
<path d="M458.68 102.61V113.78M455.28 102.61H462.08M455.28 113.78H462.08" stroke="#000" stroke-width="1.1" fill="none"/>
<path d="M509.80 77.09V89.17M506.40 77.09H513.20M506.40 89.17H513.20" stroke="#000" stroke-width="1.1" fill="none"/>
<path d="M552.40 56.70V77.66M549.00 56.70H555.80M549.00 77.66H555.80" stroke="#000" stroke-width="1.1" fill="none"/>
<path d="M595.00 59.89V76.75M591.60 59.89H598.40M591.60 76.75H598.40" stroke="#000" stroke-width="1.1" fill="none"/>
<path d="M680.20 43.94V76.75M676.80 43.94H683.60M676.80 76.75H683.60" stroke="#000" stroke-width="1.1" fill="none"/>
<circle cx="424.60" cy="203.90" r="3.5"/>
<circle cx="433.12" cy="148.07" r="3.5"/>
<circle cx="441.64" cy="121.87" r="3.5"/>
<circle cx="450.16" cy="107.06" r="3.5"/>
<circle cx="458.68" cy="108.20" r="3.5"/>
<circle cx="467.20" cy="112.75" r="3.5"/>
<circle cx="509.80" cy="83.13" r="3.5"/>
<circle cx="552.40" cy="67.18" r="3.5"/>
<circle cx="595.00" cy="68.32" r="3.5"/>
<circle cx="680.20" cy="60.34" r="3.5"/>
<rect x="541.50" y="89.50" width="129.20" height="85.80" fill="#fff" stroke="#1a1a1a" stroke-width="1.2"/>
<path d="M541.50 132.40H670.70" stroke="#b0b0b0" stroke-width="0.9"/>
<polyline points="541.5,124.8 542.4,124.6 543.2,122.7 544.1,123.3 544.9,121.0 545.8,122.7 546.7,121.0 547.5,120.7 548.4,119.4 549.3,119.3 550.1,117.4 551.0,118.5 551.8,117.1 552.7,116.0 553.6,115.7 554.4,114.5 555.3,113.9 556.1,113.3 557.0,112.8 557.9,112.0 558.7,111.0 559.6,110.1 560.4,110.4 561.3,109.1 562.2,108.1 563.0,107.7 563.9,108.0 564.8,107.0 565.6,106.5 566.5,106.4 567.3,106.9 568.2,107.0 569.1,106.4 569.9,105.7 570.8,105.2 571.6,104.2 572.5,104.9 573.4,103.7 574.2,104.7 575.1,104.9 576.0,104.8 576.8,104.7 577.7,106.4 578.5,107.3 579.4,108.4 580.3,109.6 581.1,111.4 582.0,111.3 582.8,114.0 583.7,115.6 584.6,117.4 585.4,120.0 586.3,122.0 587.2,125.0 588.0,127.3 588.9,129.8 589.7,133.8 590.6,137.0 591.5,140.3 592.3,143.5 593.2,146.9 594.0,150.1 594.9,153.6 595.8,157.0 596.6,159.6 597.5,162.4 598.3,165.1 599.2,167.1 600.1,168.5 600.9,170.4 601.8,171.3 602.7,171.2 603.5,171.4 604.4,170.3 605.2,170.7 606.1,170.3 607.0,168.6 607.8,167.4 608.7,166.2 609.5,164.7 610.4,163.1 611.3,161.5 612.1,159.0 613.0,157.4 613.9,156.6 614.7,154.5 615.6,152.7 616.4,150.8 617.3,149.4 618.2,147.9 619.0,145.4 619.9,144.5 620.7,143.1 621.6,141.9 622.5,141.5 623.3,140.1 624.2,139.3 625.0,138.6 625.9,137.3 626.8,137.1 627.6,136.4 628.5,135.7 629.4,135.0 630.2,134.4 631.1,134.2 631.9,134.5 632.8,133.7 633.7,132.5 634.5,133.1 635.4,133.2 636.2,132.1 637.1,131.9 638.0,132.1 638.8,131.2 639.7,131.6 640.6,131.2 641.4,131.7 642.3,131.5 643.1,130.7 644.0,131.4 644.9,131.4 645.7,131.5 646.6,132.2 647.4,131.7 648.3,132.1 649.2,133.0 650.0,131.5 650.9,132.9 651.8,132.4 652.6,133.3 653.5,133.0 654.3,132.1 655.2,132.9 656.1,133.4 656.9,132.3 657.8,132.5 658.6,132.9 659.5,132.2 660.4,132.0 661.2,132.5 662.1,132.3 662.9,132.5 663.8,133.1 664.7,131.7 665.5,132.1 666.4,131.7 667.3,132.8 668.1,132.8 669.0,132.2 669.8,132.4 670.7,132.1" fill="none" stroke="#111" stroke-width="0.8" stroke-linejoin="round"/>
<polyline points="541.5,124.9 542.4,123.6 543.2,124.1 544.1,122.6 544.9,119.4 545.8,122.0 546.7,120.7 547.5,120.9 548.4,119.0 549.3,119.5 550.1,119.2 551.0,119.1 551.8,118.0 552.7,117.6 553.6,116.2 554.4,114.8 555.3,115.1 556.1,114.8 557.0,114.8 557.9,111.6 558.7,112.4 559.6,112.3 560.4,111.4 561.3,110.2 562.2,110.2 563.0,109.0 563.9,109.2 564.8,109.2 565.6,107.1 566.5,106.7 567.3,107.6 568.2,106.1 569.1,106.3 569.9,105.5 570.8,106.5 571.6,105.9 572.5,105.4 573.4,105.4 574.2,104.6 575.1,105.2 576.0,105.3 576.8,106.4 577.7,107.1 578.5,108.2 579.4,109.6 580.3,109.9 581.1,111.1 582.0,112.0 582.8,114.3 583.7,116.1 584.6,119.3 585.4,120.2 586.3,122.6 587.2,124.9 588.0,128.2 588.9,129.7 589.7,132.9 590.6,136.0 591.5,138.7 592.3,142.2 593.2,144.9 594.0,148.2 594.9,151.7 595.8,155.4 596.6,157.0 597.5,160.0 598.3,162.8 599.2,164.5 600.1,167.1 600.9,168.1 601.8,168.8 602.7,168.7 603.5,169.0 604.4,168.3 605.2,167.5 606.1,167.0 607.0,166.3 607.8,165.1 608.7,163.6 609.5,161.7 610.4,161.3 611.3,158.4 612.1,158.1 613.0,155.5 613.9,154.0 614.7,152.9 615.6,151.4 616.4,148.7 617.3,147.3 618.2,146.4 619.0,144.4 619.9,143.5 620.7,141.9 621.6,141.4 622.5,140.3 623.3,139.2 624.2,137.9 625.0,137.2 625.9,136.4 626.8,136.9 627.6,136.4 628.5,135.2 629.4,135.0 630.2,134.8 631.1,133.5 631.9,133.9 632.8,134.5 633.7,133.3 634.5,132.4 635.4,132.4 636.2,131.4 637.1,132.2 638.0,132.4 638.8,132.1 639.7,132.1 640.6,131.5 641.4,131.9 642.3,131.6 643.1,131.6 644.0,131.6 644.9,131.1 645.7,131.2 646.6,132.3 647.4,131.2 648.3,132.4 649.2,132.4 650.0,132.8 650.9,132.8 651.8,132.1 652.6,132.5 653.5,132.9 654.3,132.4 655.2,131.9 656.1,132.2 656.9,132.4 657.8,132.6 658.6,133.0 659.5,132.5 660.4,132.6 661.2,132.8 662.1,133.1 662.9,132.4 663.8,133.1 664.7,132.2 665.5,132.2 666.4,132.7 667.3,132.5 668.1,132.4 669.0,131.7 669.8,132.9 670.7,131.8" fill="none" stroke="#111" stroke-width="0.8" stroke-linejoin="round"/>
<polyline points="541.5,128.4 542.4,127.4 543.2,126.0 544.1,126.0 544.9,125.3 545.8,125.1 546.7,125.4 547.5,124.1 548.4,123.9 549.3,122.9 550.1,122.9 551.0,122.6 551.8,122.1 552.7,122.5 553.6,122.2 554.4,119.3 555.3,118.7 556.1,119.6 557.0,118.5 557.9,117.7 558.7,117.4 559.6,117.0 560.4,116.8 561.3,115.8 562.2,115.5 563.0,115.4 563.9,115.1 564.8,115.3 565.6,114.5 566.5,113.8 567.3,113.6 568.2,114.2 569.1,113.1 569.9,113.5 570.8,112.3 571.6,112.1 572.5,112.9 573.4,111.8 574.2,112.9 575.1,112.2 576.0,113.4 576.8,112.9 577.7,114.4 578.5,114.3 579.4,114.5 580.3,116.5 581.1,118.2 582.0,118.4 582.8,119.2 583.7,121.2 584.6,122.8 585.4,124.0 586.3,127.1 587.2,127.5 588.0,130.7 588.9,132.4 589.7,136.3 590.6,138.0 591.5,140.4 592.3,143.3 593.2,146.6 594.0,148.6 594.9,152.2 595.8,153.4 596.6,157.1 597.5,159.6 598.3,161.6 599.2,163.8 600.1,164.1 600.9,166.2 601.8,167.1 602.7,168.2 603.5,165.9 604.4,166.4 605.2,167.0 606.1,164.5 607.0,164.1 607.8,162.7 608.7,162.1 609.5,160.6 610.4,158.5 611.3,157.4 612.1,155.0 613.0,154.2 613.9,152.9 614.7,151.2 615.6,150.6 616.4,148.3 617.3,146.6 618.2,145.7 619.0,144.7 619.9,142.7 620.7,141.0 621.6,141.1 622.5,140.0 623.3,139.3 624.2,138.6 625.0,137.1 625.9,136.3 626.8,136.6 627.6,134.8 628.5,135.6 629.4,134.9 630.2,133.7 631.1,133.9 631.9,133.7 632.8,132.5 633.7,133.2 634.5,132.2 635.4,132.5 636.2,131.2 637.1,131.4 638.0,132.2 638.8,131.7 639.7,132.1 640.6,132.6 641.4,130.9 642.3,131.3 643.1,131.6 644.0,131.6 644.9,131.0 645.7,132.2 646.6,131.9 647.4,132.4 648.3,132.7 649.2,132.2 650.0,132.4 650.9,132.2 651.8,131.8 652.6,132.1 653.5,132.5 654.3,133.4 655.2,132.9 656.1,132.8 656.9,131.8 657.8,132.9 658.6,132.1 659.5,132.8 660.4,132.5 661.2,132.5 662.1,132.0 662.9,132.3 663.8,132.6 664.7,133.0 665.5,132.4 666.4,132.2 667.3,132.9 668.1,132.5 669.0,132.6 669.8,132.3 670.7,132.6" fill="none" stroke="#111" stroke-width="0.8" stroke-linejoin="round"/>
<polyline points="541.5,128.2 542.4,127.3 543.2,127.2 544.1,125.5 544.9,126.0 545.8,125.8 546.7,125.9 547.5,125.5 548.4,125.0 549.3,124.5 550.1,124.0 551.0,123.6 551.8,122.9 552.7,122.5 553.6,122.5 554.4,122.3 555.3,120.6 556.1,120.4 557.0,119.8 557.9,119.8 558.7,119.6 559.6,119.3 560.4,119.0 561.3,117.7 562.2,118.3 563.0,117.4 563.9,117.7 564.8,116.3 565.6,116.1 566.5,115.8 567.3,115.8 568.2,115.5 569.1,114.7 569.9,115.3 570.8,115.0 571.6,114.6 572.5,114.3 573.4,115.3 574.2,114.2 575.1,115.6 576.0,115.1 576.8,114.8 577.7,115.8 578.5,117.1 579.4,118.2 580.3,118.9 581.1,119.1 582.0,120.2 582.8,121.0 583.7,123.0 584.6,124.4 585.4,125.7 586.3,126.5 587.2,129.5 588.0,130.8 588.9,134.0 589.7,134.7 590.6,137.5 591.5,140.2 592.3,142.3 593.2,144.7 594.0,148.0 594.9,150.4 595.8,153.2 596.6,155.4 597.5,158.3 598.3,160.4 599.2,161.6 600.1,163.0 600.9,163.8 601.8,164.6 602.7,165.2 603.5,164.5 604.4,164.4 605.2,163.2 606.1,163.1 607.0,162.6 607.8,161.5 608.7,159.8 609.5,159.6 610.4,157.9 611.3,155.9 612.1,154.9 613.0,153.9 613.9,151.6 614.7,150.3 615.6,148.8 616.4,147.5 617.3,146.4 618.2,144.4 619.0,143.1 619.9,142.5 620.7,141.5 621.6,140.4 622.5,139.4 623.3,138.7 624.2,137.3 625.0,136.6 625.9,136.1 626.8,135.9 627.6,135.1 628.5,135.6 629.4,134.9 630.2,134.2 631.1,133.8 631.9,133.0 632.8,133.3 633.7,132.9 634.5,132.4 635.4,132.6 636.2,131.9 637.1,131.9 638.0,131.6 638.8,131.3 639.7,131.5 640.6,132.2 641.4,131.0 642.3,131.7 643.1,131.8 644.0,132.5 644.9,132.2 645.7,132.3 646.6,131.7 647.4,131.2 648.3,132.1 649.2,131.4 650.0,132.2 650.9,132.4 651.8,132.9 652.6,131.8 653.5,132.6 654.3,132.3 655.2,132.1 656.1,133.0 656.9,131.7 657.8,133.2 658.6,132.0 659.5,132.2 660.4,132.9 661.2,132.4 662.1,132.3 662.9,131.9 663.8,132.2 664.7,132.3 665.5,132.3 666.4,131.4 667.3,132.4 668.1,131.3 669.0,133.1 669.8,132.0 670.7,133.1" fill="none" stroke="#111" stroke-width="0.8" stroke-linejoin="round"/>
<polyline points="541.5,129.9 542.4,129.5 543.2,128.6 544.1,126.7 544.9,127.2 545.8,126.3 546.7,126.4 547.5,126.0 548.4,125.5 549.3,124.6 550.1,124.7 551.0,124.1 551.8,124.3 552.7,123.6 553.6,123.6 554.4,122.3 555.3,123.3 556.1,122.2 557.0,122.2 557.9,122.4 558.7,121.4 559.6,119.5 560.4,120.9 561.3,120.1 562.2,120.2 563.0,119.9 563.9,119.2 564.8,118.8 565.6,117.9 566.5,118.3 567.3,119.0 568.2,118.2 569.1,117.9 569.9,118.5 570.8,117.0 571.6,117.3 572.5,117.3 573.4,118.1 574.2,117.9 575.1,117.8 576.0,117.2 576.8,117.9 577.7,118.7 578.5,119.5 579.4,119.6 580.3,120.2 581.1,120.9 582.0,121.3 582.8,123.4 583.7,124.5 584.6,125.3 585.4,127.3 586.3,127.1 587.2,129.3 588.0,131.4 588.9,133.0 589.7,135.4 590.6,137.2 591.5,140.1 592.3,142.0 593.2,143.5 594.0,146.2 594.9,149.2 595.8,150.6 596.6,152.5 597.5,154.8 598.3,157.4 599.2,157.9 600.1,159.3 600.9,159.8 601.8,160.5 602.7,161.1 603.5,160.9 604.4,160.7 605.2,160.3 606.1,159.1 607.0,158.5 607.8,158.1 608.7,156.7 609.5,155.3 610.4,154.5 611.3,153.6 612.1,151.9 613.0,150.5 613.9,150.1 614.7,148.2 615.6,147.0 616.4,144.7 617.3,143.4 618.2,143.4 619.0,141.6 619.9,141.7 620.7,139.6 621.6,139.8 622.5,139.7 623.3,137.9 624.2,137.3 625.0,136.4 625.9,136.5 626.8,136.3 627.6,135.0 628.5,134.8 629.4,133.7 630.2,134.0 631.1,133.1 631.9,132.9 632.8,132.9 633.7,133.1 634.5,133.2 635.4,132.5 636.2,132.4 637.1,131.6 638.0,132.5 638.8,131.9 639.7,132.1 640.6,132.0 641.4,131.9 642.3,131.4 643.1,131.6 644.0,131.9 644.9,131.9 645.7,132.0 646.6,132.0 647.4,132.6 648.3,132.4 649.2,132.4 650.0,132.0 650.9,132.3 651.8,132.0 652.6,132.7 653.5,132.5 654.3,132.6 655.2,132.7 656.1,132.1 656.9,132.9 657.8,132.9 658.6,132.9 659.5,131.6 660.4,132.5 661.2,132.0 662.1,132.3 662.9,132.3 663.8,132.6 664.7,132.3 665.5,132.8 666.4,132.3 667.3,132.4 668.1,132.8 669.0,132.1 669.8,132.9 670.7,132.5" fill="none" stroke="#111" stroke-width="0.8" stroke-linejoin="round"/>
<polyline points="541.5,128.7 542.4,128.8 543.2,126.5 544.1,128.2 544.9,127.4 545.8,125.7 546.7,126.3 547.5,126.4 548.4,125.6 549.3,124.4 550.1,125.3 551.0,124.9 551.8,125.3 552.7,123.9 553.6,122.4 554.4,123.2 555.3,122.7 556.1,123.3 557.0,122.2 557.9,123.3 558.7,121.3 559.6,120.9 560.4,121.4 561.3,121.2 562.2,120.7 563.0,120.5 563.9,118.6 564.8,119.8 565.6,119.5 566.5,119.2 567.3,119.4 568.2,118.9 569.1,119.0 569.9,119.5 570.8,117.7 571.6,119.2 572.5,117.9 573.4,118.5 574.2,119.6 575.1,118.8 576.0,118.3 576.8,117.9 577.7,119.5 578.5,120.0 579.4,121.0 580.3,121.2 581.1,121.9 582.0,122.1 582.8,123.4 583.7,124.5 584.6,125.2 585.4,126.6 586.3,127.4 587.2,129.3 588.0,131.1 588.9,133.2 589.7,134.2 590.6,136.3 591.5,137.8 592.3,140.0 593.2,141.9 594.0,144.1 594.9,146.6 595.8,147.7 596.6,148.5 597.5,151.3 598.3,153.2 599.2,153.8 600.1,154.7 600.9,155.8 601.8,156.8 602.7,156.8 603.5,155.6 604.4,155.2 605.2,155.4 606.1,155.1 607.0,154.7 607.8,154.3 608.7,152.6 609.5,152.2 610.4,150.8 611.3,150.1 612.1,149.6 613.0,147.4 613.9,146.4 614.7,145.8 615.6,144.9 616.4,144.5 617.3,142.1 618.2,141.9 619.0,141.0 619.9,140.0 620.7,138.4 621.6,137.9 622.5,137.2 623.3,137.5 624.2,136.3 625.0,135.7 625.9,135.3 626.8,135.4 627.6,135.2 628.5,133.7 629.4,133.7 630.2,133.3 631.1,133.4 631.9,133.4 632.8,132.3 633.7,132.5 634.5,132.3 635.4,132.4 636.2,132.4 637.1,132.9 638.0,131.9 638.8,131.2 639.7,131.7 640.6,132.0 641.4,132.4 642.3,131.9 643.1,131.9 644.0,131.6 644.9,131.5 645.7,131.2 646.6,131.0 647.4,132.2 648.3,132.2 649.2,131.6 650.0,132.9 650.9,132.6 651.8,132.8 652.6,132.9 653.5,133.4 654.3,132.3 655.2,133.7 656.1,132.6 656.9,132.0 657.8,132.6 658.6,133.1 659.5,132.5 660.4,133.4 661.2,132.9 662.1,132.9 662.9,133.0 663.8,132.1 664.7,132.9 665.5,132.0 666.4,132.7 667.3,131.7 668.1,132.2 669.0,133.0 669.8,132.8 670.7,132.6" fill="none" stroke="#111" stroke-width="0.8" stroke-linejoin="round"/>
<polyline points="541.5,127.6 542.4,128.4 543.2,127.1 544.1,129.3 544.9,127.9 545.8,128.3 546.7,127.3 547.5,125.6 548.4,126.0 549.3,127.8 550.1,126.6 551.0,127.4 551.8,125.6 552.7,125.1 553.6,124.9 554.4,123.9 555.3,124.6 556.1,124.4 557.0,124.0 557.9,123.3 558.7,123.7 559.6,123.1 560.4,122.2 561.3,121.3 562.2,121.4 563.0,120.8 563.9,121.0 564.8,120.3 565.6,121.0 566.5,119.9 567.3,120.1 568.2,120.6 569.1,119.3 569.9,120.4 570.8,119.4 571.6,119.7 572.5,119.8 573.4,119.5 574.2,119.5 575.1,119.6 576.0,119.3 576.8,120.4 577.7,120.4 578.5,120.3 579.4,121.3 580.3,122.2 581.1,121.5 582.0,123.5 582.8,124.8 583.7,124.6 584.6,125.4 585.4,126.8 586.3,127.6 587.2,129.7 588.0,130.5 588.9,132.2 589.7,132.5 590.6,134.4 591.5,136.4 592.3,137.3 593.2,138.7 594.0,140.8 594.9,141.2 595.8,143.8 596.6,145.6 597.5,146.9 598.3,147.9 599.2,148.9 600.1,148.9 600.9,149.9 601.8,149.4 602.7,150.7 603.5,149.4 604.4,150.7 605.2,149.8 606.1,149.6 607.0,149.8 607.8,148.4 608.7,147.1 609.5,146.9 610.4,146.5 611.3,144.6 612.1,144.3 613.0,143.1 613.9,142.9 614.7,143.0 615.6,141.3 616.4,140.0 617.3,140.4 618.2,138.8 619.0,137.7 619.9,138.5 620.7,137.8 621.6,137.4 622.5,136.2 623.3,134.8 624.2,135.5 625.0,135.2 625.9,134.4 626.8,135.1 627.6,134.2 628.5,133.5 629.4,133.6 630.2,133.4 631.1,134.2 631.9,132.5 632.8,133.5 633.7,133.0 634.5,132.1 635.4,132.7 636.2,132.6 637.1,132.2 638.0,131.3 638.8,132.6 639.7,131.7 640.6,132.0 641.4,132.2 642.3,131.5 643.1,132.7 644.0,132.1 644.9,132.7 645.7,131.6 646.6,131.7 647.4,131.9 648.3,132.8 649.2,132.4 650.0,133.2 650.9,133.1 651.8,132.1 652.6,132.5 653.5,132.2 654.3,131.6 655.2,132.4 656.1,132.5 656.9,132.5 657.8,132.7 658.6,132.1 659.5,132.4 660.4,132.3 661.2,132.1 662.1,131.8 662.9,132.5 663.8,132.4 664.7,132.8 665.5,131.7 666.4,132.3 667.3,131.8 668.1,133.1 669.0,132.5 669.8,132.5 670.7,132.7" fill="none" stroke="#111" stroke-width="0.8" stroke-linejoin="round"/>
<polyline points="541.5,127.4 542.4,129.5 543.2,128.5 544.1,130.8 544.9,129.6 545.8,128.0 546.7,126.9 547.5,128.0 548.4,126.9 549.3,126.7 550.1,127.5 551.0,126.9 551.8,126.4 552.7,126.6 553.6,126.4 554.4,126.4 555.3,125.9 556.1,126.5 557.0,125.0 557.9,124.2 558.7,125.5 559.6,124.6 560.4,125.7 561.3,125.1 562.2,124.6 563.0,125.1 563.9,124.2 564.8,124.1 565.6,124.1 566.5,124.4 567.3,125.0 568.2,123.6 569.1,123.7 569.9,122.1 570.8,123.2 571.6,122.6 572.5,123.0 573.4,123.3 574.2,123.2 575.1,123.7 576.0,122.9 576.8,124.2 577.7,123.4 578.5,124.0 579.4,124.3 580.3,125.1 581.1,125.3 582.0,125.9 582.8,126.5 583.7,127.6 584.6,127.2 585.4,128.3 586.3,129.8 587.2,130.7 588.0,131.1 588.9,131.0 589.7,133.1 590.6,133.4 591.5,135.7 592.3,136.6 593.2,137.1 594.0,138.2 594.9,140.6 595.8,141.1 596.6,140.8 597.5,141.6 598.3,143.3 599.2,144.6 600.1,144.7 600.9,144.6 601.8,145.6 602.7,145.0 603.5,145.8 604.4,146.5 605.2,145.3 606.1,144.8 607.0,144.1 607.8,144.0 608.7,143.6 609.5,142.2 610.4,142.3 611.3,142.0 612.1,141.2 613.0,141.3 613.9,139.4 614.7,140.5 615.6,138.2 616.4,138.5 617.3,138.5 618.2,137.7 619.0,137.0 619.9,136.3 620.7,136.9 621.6,136.1 622.5,135.4 623.3,135.3 624.2,134.5 625.0,133.9 625.9,133.4 626.8,134.2 627.6,134.7 628.5,133.8 629.4,133.3 630.2,133.2 631.1,134.0 631.9,134.0 632.8,133.1 633.7,131.7 634.5,132.8 635.4,131.5 636.2,132.5 637.1,132.9 638.0,131.7 638.8,131.6 639.7,132.5 640.6,132.1 641.4,130.8 642.3,131.5 643.1,132.1 644.0,132.3 644.9,132.9 645.7,132.1 646.6,131.9 647.4,132.6 648.3,132.0 649.2,132.4 650.0,132.9 650.9,132.3 651.8,132.5 652.6,131.5 653.5,132.3 654.3,132.8 655.2,132.7 656.1,132.4 656.9,132.1 657.8,132.6 658.6,132.1 659.5,132.2 660.4,132.5 661.2,132.0 662.1,132.3 662.9,132.3 663.8,132.5 664.7,132.2 665.5,132.9 666.4,131.8 667.3,132.5 668.1,132.3 669.0,132.4 669.8,132.0 670.7,131.3" fill="none" stroke="#111" stroke-width="0.8" stroke-linejoin="round"/>
<polyline points="541.5,128.9 542.4,130.4 543.2,129.3 544.1,130.2 544.9,130.8 545.8,127.1 546.7,129.8 547.5,128.8 548.4,128.7 549.3,128.0 550.1,129.4 551.0,129.1 551.8,128.2 552.7,129.5 553.6,129.0 554.4,129.2 555.3,128.1 556.1,129.0 557.0,129.4 557.9,129.0 558.7,127.2 559.6,129.1 560.4,129.0 561.3,127.9 562.2,129.1 563.0,127.7 563.9,128.0 564.8,128.2 565.6,127.9 566.5,128.7 567.3,127.6 568.2,128.5 569.1,128.8 569.9,129.1 570.8,127.8 571.6,128.5 572.5,127.2 573.4,127.9 574.2,127.8 575.1,128.7 576.0,128.9 576.8,127.8 577.7,128.1 578.5,127.6 579.4,129.5 580.3,128.3 581.1,129.7 582.0,129.6 582.8,130.8 583.7,130.5 584.6,130.6 585.4,132.0 586.3,132.9 587.2,132.7 588.0,133.1 588.9,134.0 589.7,135.2 590.6,135.2 591.5,137.2 592.3,137.3 593.2,138.1 594.0,139.6 594.9,140.6 595.8,140.8 596.6,141.6 597.5,143.5 598.3,143.2 599.2,144.7 600.1,144.3 600.9,145.1 601.8,145.0 602.7,145.7 603.5,145.7 604.4,145.5 605.2,145.2 606.1,145.1 607.0,144.4 607.8,144.2 608.7,144.1 609.5,143.0 610.4,142.7 611.3,142.2 612.1,141.7 613.0,140.7 613.9,140.5 614.7,139.0 615.6,139.8 616.4,138.1 617.3,137.5 618.2,136.5 619.0,136.4 619.9,136.5 620.7,135.8 621.6,135.9 622.5,135.3 623.3,135.3 624.2,134.0 625.0,133.6 625.9,134.5 626.8,133.1 627.6,134.1 628.5,133.2 629.4,133.3 630.2,133.4 631.1,131.9 631.9,132.6 632.8,132.2 633.7,132.3 634.5,133.3 635.4,132.1 636.2,131.5 637.1,132.3 638.0,131.8 638.8,131.6 639.7,132.1 640.6,132.6 641.4,132.6 642.3,132.1 643.1,131.8 644.0,132.2 644.9,131.9 645.7,132.1 646.6,132.1 647.4,132.7 648.3,132.4 649.2,132.3 650.0,132.1 650.9,133.1 651.8,132.3 652.6,132.2 653.5,133.1 654.3,133.0 655.2,132.4 656.1,133.2 656.9,132.7 657.8,132.7 658.6,132.9 659.5,133.1 660.4,131.9 661.2,133.3 662.1,132.2 662.9,132.1 663.8,132.9 664.7,133.0 665.5,132.5 666.4,131.5 667.3,131.6 668.1,133.1 669.0,132.7 669.8,131.7 670.7,132.4" fill="none" stroke="#111" stroke-width="0.8" stroke-linejoin="round"/>
<path d="M538.30 89.50H541.50" stroke="#000" stroke-width="1"/>
<text x="537.10" y="91.90" font-size="6.6" font-weight="normal" text-anchor="end">0.010</text>
<path d="M538.30 110.95H541.50" stroke="#000" stroke-width="1"/>
<text x="537.10" y="113.35" font-size="6.6" font-weight="normal" text-anchor="end">0.005</text>
<path d="M538.30 132.40H541.50" stroke="#000" stroke-width="1"/>
<text x="537.10" y="134.80" font-size="6.6" font-weight="normal" text-anchor="end">0.000</text>
<path d="M538.30 153.85H541.50" stroke="#000" stroke-width="1"/>
<text x="537.10" y="156.25" font-size="6.6" font-weight="normal" text-anchor="end">-0.005</text>
<path d="M538.30 175.30H541.50" stroke="#000" stroke-width="1"/>
<text x="537.10" y="177.70" font-size="6.6" font-weight="normal" text-anchor="end">-0.010</text>
<path d="M541.50 175.30V178.50" stroke="#000" stroke-width="1"/>
<text x="541.50" y="185.80" font-size="6.6" font-weight="normal" text-anchor="middle">350</text>
<path d="M563.03 175.30V178.50" stroke="#000" stroke-width="1"/>
<text x="563.03" y="185.80" font-size="6.6" font-weight="normal" text-anchor="middle">375</text>
<path d="M584.57 175.30V178.50" stroke="#000" stroke-width="1"/>
<text x="584.57" y="185.80" font-size="6.6" font-weight="normal" text-anchor="middle">400</text>
<path d="M606.10 175.30V178.50" stroke="#000" stroke-width="1"/>
<text x="606.10" y="185.80" font-size="6.6" font-weight="normal" text-anchor="middle">425</text>
<path d="M627.63 175.30V178.50" stroke="#000" stroke-width="1"/>
<text x="627.63" y="185.80" font-size="6.6" font-weight="normal" text-anchor="middle">450</text>
<path d="M649.17 175.30V178.50" stroke="#000" stroke-width="1"/>
<text x="649.17" y="185.80" font-size="6.6" font-weight="normal" text-anchor="middle">475</text>
<path d="M670.70 175.30V178.50" stroke="#000" stroke-width="1"/>
<text x="670.70" y="185.80" font-size="6.6" font-weight="normal" text-anchor="middle">500</text>
<text x="606.10" y="197.40" font-size="7" font-weight="normal" text-anchor="middle">Wavelength (nm)</text>
<text transform="translate(514.78 132.40) rotate(-90)" font-size="7" text-anchor="middle">Absorbance</text>
<text x="5.90" y="270.30" font-size="24" font-weight="bold" text-anchor="start">C</text>
<path d="M63.40 275.50H70.40V446.20H327.00" fill="none" stroke="#000" stroke-width="1.7"/>
<path d="M63.40 446.20H70.40" stroke="#000" stroke-width="1.7"/>
<text x="61.50" y="450.95" font-size="13" font-weight="bold" text-anchor="end">0.00</text>
<path d="M63.40 389.30H70.40" stroke="#000" stroke-width="1.7"/>
<text x="61.50" y="394.05" font-size="13" font-weight="bold" text-anchor="end">0.02</text>
<path d="M63.40 332.40H70.40" stroke="#000" stroke-width="1.7"/>
<text x="61.50" y="337.15" font-size="13" font-weight="bold" text-anchor="end">0.04</text>
<path d="M63.40 275.50H70.40" stroke="#000" stroke-width="1.7"/>
<text x="61.50" y="280.25" font-size="13" font-weight="bold" text-anchor="end">0.06</text>
<path d="M70.40 446.20V453.20" stroke="#000" stroke-width="1.7"/>
<text x="70.40" y="467.00" font-size="13" font-weight="bold" text-anchor="middle">0</text>
<path d="M110.40 446.20V453.20" stroke="#000" stroke-width="1.7"/>
<text x="110.40" y="467.00" font-size="13" font-weight="bold" text-anchor="middle">5</text>
<path d="M150.40 446.20V453.20" stroke="#000" stroke-width="1.7"/>
<text x="150.40" y="467.00" font-size="13" font-weight="bold" text-anchor="middle">10</text>
<path d="M190.40 446.20V453.20" stroke="#000" stroke-width="1.7"/>
<text x="190.40" y="467.00" font-size="13" font-weight="bold" text-anchor="middle">15</text>
<path d="M230.40 446.20V453.20" stroke="#000" stroke-width="1.7"/>
<text x="230.40" y="467.00" font-size="13" font-weight="bold" text-anchor="middle">20</text>
<path d="M270.40 446.20V453.20" stroke="#000" stroke-width="1.7"/>
<text x="270.40" y="467.00" font-size="13" font-weight="bold" text-anchor="middle">25</text>
<path d="M310.40 446.20V453.20" stroke="#000" stroke-width="1.7"/>
<text x="310.40" y="467.00" font-size="13" font-weight="bold" text-anchor="middle">30</text>
<text transform="translate(28.60 360.05) rotate(-90)" font-size="14" font-weight="bold" text-anchor="middle"><tspan font-weight="normal">Δ</tspan> Absorbance</text>
<text x="198.70" y="489.20" font-size="14" font-weight="bold" text-anchor="middle">Myristic acid (<tspan font-weight="normal">μ</tspan>M)</text>
<polyline points="70.40,446.20 70.41,446.08 70.42,445.73 70.46,445.16 70.50,444.36 70.56,443.34 70.62,442.12 70.70,440.71 70.80,439.11 70.90,437.35 71.02,435.44 71.15,433.40 71.29,431.23 71.45,428.97 71.62,426.61 71.80,424.19 71.99,421.70 72.19,419.18 72.41,416.62 72.64,414.04 72.88,411.46 73.13,408.88 73.40,406.32 73.68,403.77 73.97,401.26 74.28,398.77 74.59,396.33 74.92,393.93 75.26,391.58 75.61,389.28 75.98,387.04 76.36,384.84 76.75,382.71 77.15,380.63 77.57,378.62 78.00,376.66 78.44,374.75 78.89,372.91 79.35,371.12 79.83,369.39 80.32,367.72 80.82,366.10 81.34,364.53 81.86,363.02 82.40,361.55 82.96,360.14 83.52,358.77 84.10,357.45 84.68,356.17 85.29,354.94 85.90,353.75 86.53,352.60 87.16,351.49 87.82,350.42 88.48,349.38 89.16,348.38 89.84,347.41 90.54,346.47 91.26,345.57 91.98,344.70 92.72,343.85 93.47,343.04 94.23,342.25 95.01,341.49 95.80,340.75 96.60,340.03 97.41,339.34 98.23,338.67 99.07,338.03 99.92,337.40 100.78,336.79 101.65,336.20 102.54,335.63 103.44,335.08 104.35,334.55 105.28,334.03 106.21,333.53 107.16,333.04 108.12,332.57 109.09,332.11 110.08,331.66 111.08,331.23 112.09,330.81 113.11,330.40 114.15,330.01 115.19,329.62 116.26,329.25 117.33,328.89 118.41,328.53 119.51,328.19 120.62,327.86 121.74,327.53 122.88,327.22 124.02,326.91 125.18,326.61 126.36,326.32 127.54,326.04 128.74,325.76 129.94,325.50 131.17,325.23 132.40,324.98 133.65,324.73 134.90,324.49 136.18,324.25 137.46,324.02 138.75,323.80 140.06,323.58 141.38,323.37 142.72,323.16 144.06,322.95 145.42,322.76 146.79,322.56 148.17,322.37 149.57,322.19 150.98,322.01 152.39,321.83 153.83,321.66 155.27,321.49 156.73,321.33 158.20,321.17 159.68,321.01 161.17,320.86 162.68,320.71 164.20,320.56 165.73,320.42 167.28,320.28 168.83,320.14 170.40,320.00 171.98,319.87 173.57,319.74 175.18,319.62 176.80,319.49 178.43,319.37 180.07,319.25 181.73,319.14 183.40,319.03 185.08,318.91 186.77,318.80 188.47,318.70 190.19,318.59 191.92,318.49 193.66,318.39 195.42,318.29 197.18,318.19 198.96,318.10 200.75,318.01 202.56,317.91 204.38,317.82 206.20,317.74 208.05,317.65 209.90,317.57 211.77,317.48 213.64,317.40 215.54,317.32 217.44,317.24 219.36,317.17 221.28,317.09 223.22,317.01 225.18,316.94 227.14,316.87 229.12,316.80 231.11,316.73 233.11,316.66 235.13,316.59 237.16,316.53 239.19,316.46 241.25,316.40 243.31,316.34 245.39,316.28 247.48,316.22 249.58,316.16 251.69,316.10 253.82,316.04 255.96,315.98 258.11,315.93 260.27,315.87 262.45,315.82 264.64,315.77 266.84,315.72 269.05,315.66 271.28,315.61 273.52,315.56 275.77,315.52 278.03,315.47 280.31,315.42 282.60,315.37 284.90,315.33 287.21,315.28 289.53,315.24 291.87,315.19 294.22,315.15 296.58,315.11 298.96,315.07 301.34,315.02 303.74,314.98 306.15,314.94 308.58,314.90 311.02,314.87 313.46,314.83 315.93,314.79 318.40,314.75" fill="none" stroke="#000" stroke-width="1.1"/>
<path d="M72.40 409.78V418.32M69.00 409.78H75.80M69.00 418.32H75.80" stroke="#000" stroke-width="1.1" fill="none"/>
<path d="M74.40 388.16V391.01M71.00 388.16H77.80M71.00 391.01H77.80" stroke="#000" stroke-width="1.1" fill="none"/>
<path d="M76.40 378.49V384.18M73.00 378.49H79.80M73.00 384.18H79.80" stroke="#000" stroke-width="1.1" fill="none"/>
<path d="M78.40 378.20V389.58M75.00 378.20H81.80M75.00 389.58H81.80" stroke="#000" stroke-width="1.1" fill="none"/>
<path d="M94.40 324.15V344.63M91.00 324.15H97.80M91.00 344.63H97.80" stroke="#000" stroke-width="1.1" fill="none"/>
<path d="M118.40 329.84V338.94M115.00 329.84H121.80M115.00 338.94H121.80" stroke="#000" stroke-width="1.1" fill="none"/>
<path d="M134.40 294.85V333.54M131.00 294.85H137.80M131.00 333.54H137.80" stroke="#000" stroke-width="1.1" fill="none"/>
<path d="M158.40 320.17V335.53M155.00 320.17H161.80M155.00 335.53H161.80" stroke="#000" stroke-width="1.1" fill="none"/>
<path d="M198.40 295.98V327.85M195.00 295.98H201.80M195.00 327.85H201.80" stroke="#000" stroke-width="1.1" fill="none"/>
<path d="M238.40 296.55V327.28M235.00 296.55H241.80M235.00 327.28H241.80" stroke="#000" stroke-width="1.1" fill="none"/>
<path d="M278.40 302.24V331.83M275.00 302.24H281.80M275.00 331.83H281.80" stroke="#000" stroke-width="1.1" fill="none"/>
<path d="M318.40 309.36V336.67M315.00 309.36H321.80M315.00 336.67H321.80" stroke="#000" stroke-width="1.1" fill="none"/>
<circle cx="70.40" cy="446.20" r="3.5"/>
<circle cx="72.40" cy="414.05" r="3.5"/>
<circle cx="74.40" cy="389.58" r="3.5"/>
<circle cx="76.40" cy="381.33" r="3.5"/>
<circle cx="78.40" cy="383.89" r="3.5"/>
<circle cx="94.40" cy="334.39" r="3.5"/>
<circle cx="118.40" cy="334.39" r="3.5"/>
<circle cx="134.40" cy="314.19" r="3.5"/>
<circle cx="158.40" cy="327.85" r="3.5"/>
<circle cx="198.40" cy="311.92" r="3.5"/>
<circle cx="238.40" cy="311.92" r="3.5"/>
<circle cx="278.40" cy="317.04" r="3.5"/>
<circle cx="318.40" cy="323.01" r="3.5"/>
<rect x="185.50" y="333.00" width="128.90" height="85.70" fill="#fff" stroke="#1a1a1a" stroke-width="1.2"/>
<path d="M185.50 375.85H314.40" stroke="#b0b0b0" stroke-width="0.9"/>
<polyline points="185.5,368.3 186.4,367.7 187.2,367.1 188.1,366.4 188.9,365.6 189.8,364.9 190.7,364.1 191.5,363.3 192.4,362.4 193.2,361.5 194.1,360.6 195.0,359.7 195.8,358.7 196.7,357.8 197.5,356.8 198.4,355.8 199.2,354.8 200.1,353.8 201.0,352.7 201.8,351.7 202.7,350.7 203.5,349.7 204.4,348.8 205.3,347.8 206.1,346.9 207.0,346.0 207.8,345.2 208.7,344.4 209.6,343.6 210.4,342.9 211.3,342.2 212.1,341.6 213.0,341.1 213.9,340.6 214.7,340.2 215.6,339.9 216.4,339.7 217.3,339.5 218.2,339.4 219.0,339.4 219.9,339.5 220.7,339.9 221.6,340.5 222.5,341.3 223.3,342.3 224.2,343.5 225.0,345.0 225.9,346.6 226.7,348.4 227.6,350.3 228.5,352.4 229.3,354.7 230.2,357.0 231.0,359.5 231.9,362.2 232.8,364.9 233.6,367.7 234.5,370.6 235.3,373.5 236.2,376.5 237.1,379.5 237.9,382.5 238.8,385.4 239.6,388.2 240.5,390.9 241.4,393.4 242.2,395.7 243.1,397.8 243.9,399.5 244.8,400.9 245.7,402.0 246.5,402.7 247.4,402.9 248.2,402.7 249.1,402.3 249.9,401.8 250.8,401.1 251.7,400.4 252.5,399.5 253.4,398.6 254.2,397.6 255.1,396.6 256.0,395.5 256.8,394.4 257.7,393.3 258.5,392.2 259.4,391.1 260.3,390.1 261.1,389.1 262.0,388.1 262.8,387.2 263.7,386.4 264.6,385.6 265.4,384.8 266.3,384.2 267.1,383.5 268.0,383.0 268.9,382.4 269.7,382.0 270.6,381.5 271.4,381.2 272.3,380.8 273.2,380.5 274.0,380.2 274.9,380.0 275.7,379.7 276.6,379.5 277.4,379.3 278.3,379.1 279.2,379.0 280.0,378.8 280.9,378.7 281.7,378.6 282.6,378.4 283.5,378.3 284.3,378.2 285.2,378.1 286.0,378.0 286.9,377.9 287.8,377.8 288.6,377.7 289.5,377.6 290.3,377.6 291.2,377.5 292.1,377.4 292.9,377.3 293.8,377.3 294.6,377.2 295.5,377.1 296.4,377.1 297.2,377.0 298.1,376.9 298.9,376.9 299.8,376.8 300.7,376.8 301.5,376.7 302.4,376.7 303.2,376.6 304.1,376.6 304.9,376.5 305.8,376.5 306.7,376.4 307.5,376.4 308.4,376.3 309.2,376.3 310.1,376.2 311.0,376.2 311.8,376.1 312.7,376.1 313.5,376.0 314.4,375.9" fill="none" stroke="#111" stroke-width="0.8" stroke-linejoin="round"/>
<polyline points="185.5,368.5 186.4,367.8 187.2,367.2 188.1,366.5 188.9,365.8 189.8,365.0 190.7,364.3 191.5,363.4 192.4,362.6 193.2,361.7 194.1,360.8 195.0,359.9 195.8,359.0 196.7,358.0 197.5,357.1 198.4,356.1 199.2,355.1 200.1,354.1 201.0,353.1 201.8,352.1 202.7,351.1 203.5,350.2 204.4,349.2 205.3,348.3 206.1,347.4 207.0,346.5 207.8,345.7 208.7,344.9 209.6,344.1 210.4,343.4 211.3,342.8 212.1,342.2 213.0,341.6 213.9,341.2 214.7,340.8 215.6,340.5 216.4,340.2 217.3,340.0 218.2,339.9 219.0,339.9 219.9,340.1 220.7,340.4 221.6,341.0 222.5,341.8 223.3,342.8 224.2,344.0 225.0,345.4 225.9,347.0 226.7,348.8 227.6,350.7 228.5,352.8 229.3,355.0 230.2,357.3 231.0,359.8 231.9,362.4 232.8,365.1 233.6,367.8 234.5,370.7 235.3,373.6 236.2,376.5 237.1,379.5 237.9,382.4 238.8,385.3 239.6,388.1 240.5,390.8 241.4,393.3 242.2,395.5 243.1,397.6 243.9,399.3 244.8,400.7 245.7,401.8 246.5,402.5 247.4,402.6 248.2,402.4 249.1,402.0 249.9,401.5 250.8,400.9 251.7,400.1 252.5,399.3 253.4,398.4 254.2,397.4 255.1,396.3 256.0,395.3 256.8,394.2 257.7,393.1 258.5,392.0 259.4,391.0 260.3,390.0 261.1,389.0 262.0,388.0 262.8,387.1 263.7,386.3 264.6,385.5 265.4,384.7 266.3,384.1 267.1,383.4 268.0,382.9 268.9,382.4 269.7,381.9 270.6,381.5 271.4,381.1 272.3,380.8 273.2,380.4 274.0,380.2 274.9,379.9 275.7,379.7 276.6,379.5 277.4,379.3 278.3,379.1 279.2,378.9 280.0,378.8 280.9,378.7 281.7,378.5 282.6,378.4 283.5,378.3 284.3,378.2 285.2,378.1 286.0,378.0 286.9,377.9 287.8,377.8 288.6,377.7 289.5,377.6 290.3,377.5 291.2,377.5 292.1,377.4 292.9,377.3 293.8,377.2 294.6,377.2 295.5,377.1 296.4,377.0 297.2,377.0 298.1,376.9 298.9,376.9 299.8,376.8 300.7,376.8 301.5,376.7 302.4,376.7 303.2,376.6 304.1,376.6 304.9,376.5 305.8,376.5 306.7,376.4 307.5,376.4 308.4,376.3 309.2,376.3 310.1,376.2 311.0,376.2 311.8,376.1 312.7,376.1 313.5,376.0 314.4,375.9" fill="none" stroke="#111" stroke-width="0.8" stroke-linejoin="round"/>
<polyline points="185.5,368.8 186.4,368.2 187.2,367.6 188.1,366.9 188.9,366.2 189.8,365.5 190.7,364.8 191.5,364.0 192.4,363.2 193.2,362.4 194.1,361.5 195.0,360.6 195.8,359.7 196.7,358.8 197.5,357.9 198.4,356.9 199.2,356.0 200.1,355.0 201.0,354.1 201.8,353.1 202.7,352.2 203.5,351.3 204.4,350.4 205.3,349.5 206.1,348.6 207.0,347.8 207.8,347.0 208.7,346.2 209.6,345.5 210.4,344.8 211.3,344.2 212.1,343.6 213.0,343.1 213.9,342.7 214.7,342.3 215.6,342.0 216.4,341.8 217.3,341.6 218.2,341.5 219.0,341.5 219.9,341.6 220.7,342.0 221.6,342.5 222.5,343.3 223.3,344.3 224.2,345.4 225.0,346.8 225.9,348.3 226.7,350.0 227.6,351.8 228.5,353.8 229.3,356.0 230.2,358.2 231.0,360.6 231.9,363.1 232.8,365.7 233.6,368.4 234.5,371.1 235.3,373.9 236.2,376.8 237.1,379.6 237.9,382.5 238.8,385.3 239.6,388.0 240.5,390.5 241.4,393.0 242.2,395.2 243.1,397.1 243.9,398.8 244.8,400.2 245.7,401.2 246.5,401.9 247.4,402.1 248.2,401.8 249.1,401.4 249.9,400.9 250.8,400.3 251.7,399.6 252.5,398.8 253.4,397.9 254.2,396.9 255.1,395.9 256.0,394.9 256.8,393.8 257.7,392.7 258.5,391.7 259.4,390.6 260.3,389.6 261.1,388.7 262.0,387.7 262.8,386.9 263.7,386.0 264.6,385.3 265.4,384.5 266.3,383.9 267.1,383.3 268.0,382.7 268.9,382.2 269.7,381.8 270.6,381.3 271.4,381.0 272.3,380.6 273.2,380.3 274.0,380.1 274.9,379.8 275.7,379.6 276.6,379.4 277.4,379.2 278.3,379.0 279.2,378.9 280.0,378.7 280.9,378.6 281.7,378.5 282.6,378.3 283.5,378.2 284.3,378.1 285.2,378.0 286.0,377.9 286.9,377.8 287.8,377.8 288.6,377.7 289.5,377.6 290.3,377.5 291.2,377.4 292.1,377.4 292.9,377.3 293.8,377.2 294.6,377.1 295.5,377.1 296.4,377.0 297.2,377.0 298.1,376.9 298.9,376.8 299.8,376.8 300.7,376.7 301.5,376.7 302.4,376.6 303.2,376.6 304.1,376.5 304.9,376.5 305.8,376.4 306.7,376.4 307.5,376.3 308.4,376.3 309.2,376.3 310.1,376.2 311.0,376.2 311.8,376.1 312.7,376.1 313.5,376.0 314.4,375.9" fill="none" stroke="#111" stroke-width="0.8" stroke-linejoin="round"/>
<polyline points="185.5,369.7 186.4,369.2 187.2,368.6 188.1,368.1 188.9,367.5 189.8,366.8 190.7,366.2 191.5,365.5 192.4,364.8 193.2,364.1 194.1,363.3 195.0,362.6 195.8,361.8 196.7,361.0 197.5,360.2 198.4,359.4 199.2,358.6 200.1,357.7 201.0,356.9 201.8,356.1 202.7,355.2 203.5,354.4 204.4,353.6 205.3,352.9 206.1,352.1 207.0,351.4 207.8,350.7 208.7,350.0 209.6,349.4 210.4,348.8 211.3,348.3 212.1,347.8 213.0,347.4 213.9,347.0 214.7,346.6 215.6,346.4 216.4,346.2 217.3,346.0 218.2,345.9 219.0,345.9 219.9,346.0 220.7,346.4 221.6,346.8 222.5,347.5 223.3,348.4 224.2,349.4 225.0,350.6 225.9,351.9 226.7,353.4 227.6,355.1 228.5,356.9 229.3,358.8 230.2,360.8 231.0,362.9 231.9,365.2 232.8,367.5 233.6,370.0 234.5,372.5 235.3,375.1 236.2,377.7 237.1,380.3 237.9,383.0 238.8,385.6 239.6,388.1 240.5,390.5 241.4,392.7 242.2,394.8 243.1,396.6 243.9,398.2 244.8,399.5 245.7,400.4 246.5,401.1 247.4,401.2 248.2,400.9 249.1,400.6 249.9,400.1 250.8,399.4 251.7,398.7 252.5,397.9 253.4,397.1 254.2,396.1 255.1,395.2 256.0,394.1 256.8,393.1 257.7,392.1 258.5,391.1 259.4,390.1 260.3,389.1 261.1,388.2 262.0,387.3 262.8,386.4 263.7,385.6 264.6,384.9 265.4,384.2 266.3,383.6 267.1,383.0 268.0,382.5 268.9,382.0 269.7,381.5 270.6,381.1 271.4,380.8 272.3,380.5 273.2,380.2 274.0,379.9 274.9,379.7 275.7,379.5 276.6,379.3 277.4,379.1 278.3,378.9 279.2,378.8 280.0,378.6 280.9,378.5 281.7,378.4 282.6,378.3 283.5,378.1 284.3,378.0 285.2,377.9 286.0,377.9 286.9,377.8 287.8,377.7 288.6,377.6 289.5,377.5 290.3,377.4 291.2,377.4 292.1,377.3 292.9,377.2 293.8,377.2 294.6,377.1 295.5,377.0 296.4,377.0 297.2,376.9 298.1,376.9 298.9,376.8 299.8,376.8 300.7,376.7 301.5,376.7 302.4,376.6 303.2,376.6 304.1,376.5 304.9,376.5 305.8,376.4 306.7,376.4 307.5,376.3 308.4,376.3 309.2,376.2 310.1,376.2 311.0,376.2 311.8,376.1 312.7,376.1 313.5,376.0 314.4,375.9" fill="none" stroke="#111" stroke-width="0.8" stroke-linejoin="round"/>
<polyline points="185.5,370.2 186.4,369.7 187.2,369.2 188.1,368.7 188.9,368.1 189.8,367.6 190.7,367.0 191.5,366.4 192.4,365.7 193.2,365.0 194.1,364.4 195.0,363.7 195.8,362.9 196.7,362.2 197.5,361.5 198.4,360.7 199.2,360.0 200.1,359.2 201.0,358.4 201.8,357.7 202.7,356.9 203.5,356.2 204.4,355.4 205.3,354.7 206.1,354.0 207.0,353.4 207.8,352.7 208.7,352.1 209.6,351.5 210.4,351.0 211.3,350.5 212.1,350.1 213.0,349.7 213.9,349.3 214.7,349.0 215.6,348.8 216.4,348.6 217.3,348.4 218.2,348.4 219.0,348.4 219.9,348.5 220.7,348.7 221.6,349.2 222.5,349.8 223.3,350.6 224.2,351.6 225.0,352.7 225.9,353.9 226.7,355.3 227.6,356.8 228.5,358.5 229.3,360.2 230.2,362.1 231.0,364.1 231.9,366.2 232.8,368.4 233.6,370.7 234.5,373.0 235.3,375.5 236.2,377.9 237.1,380.4 237.9,382.9 238.8,385.3 239.6,387.7 240.5,390.0 241.4,392.1 242.2,394.0 243.1,395.8 243.9,397.3 244.8,398.5 245.7,399.4 246.5,399.9 247.4,400.1 248.2,399.8 249.1,399.4 249.9,398.9 250.8,398.4 251.7,397.7 252.5,396.9 253.4,396.1 254.2,395.2 255.1,394.3 256.0,393.3 256.8,392.3 257.7,391.3 258.5,390.4 259.4,389.4 260.3,388.5 261.1,387.6 262.0,386.8 262.8,385.9 263.7,385.2 264.6,384.5 265.4,383.8 266.3,383.2 267.1,382.7 268.0,382.2 268.9,381.7 269.7,381.3 270.6,380.9 271.4,380.6 272.3,380.2 273.2,380.0 274.0,379.7 274.9,379.5 275.7,379.3 276.6,379.1 277.4,378.9 278.3,378.8 279.2,378.6 280.0,378.5 280.9,378.4 281.7,378.3 282.6,378.1 283.5,378.0 284.3,377.9 285.2,377.8 286.0,377.8 286.9,377.7 287.8,377.6 288.6,377.5 289.5,377.4 290.3,377.4 291.2,377.3 292.1,377.2 292.9,377.2 293.8,377.1 294.6,377.0 295.5,377.0 296.4,376.9 297.2,376.9 298.1,376.8 298.9,376.8 299.8,376.7 300.7,376.7 301.5,376.6 302.4,376.6 303.2,376.5 304.1,376.5 304.9,376.4 305.8,376.4 306.7,376.3 307.5,376.3 308.4,376.3 309.2,376.2 310.1,376.2 311.0,376.1 311.8,376.1 312.7,376.0 313.5,376.0 314.4,375.9" fill="none" stroke="#111" stroke-width="0.8" stroke-linejoin="round"/>
<polyline points="185.5,370.8 186.4,370.4 187.2,369.9 188.1,369.4 188.9,368.9 189.8,368.4 190.7,367.9 191.5,367.3 192.4,366.8 193.2,366.2 194.1,365.6 195.0,364.9 195.8,364.3 196.7,363.6 197.5,363.0 198.4,362.3 199.2,361.6 200.1,360.9 201.0,360.2 201.8,359.6 202.7,358.9 203.5,358.2 204.4,357.6 205.3,356.9 206.1,356.3 207.0,355.7 207.8,355.1 208.7,354.6 209.6,354.1 210.4,353.6 211.3,353.1 212.1,352.7 213.0,352.4 213.9,352.1 214.7,351.8 215.6,351.6 216.4,351.4 217.3,351.3 218.2,351.2 219.0,351.2 219.9,351.3 220.7,351.6 221.6,352.0 222.5,352.5 223.3,353.2 224.2,354.1 225.0,355.1 225.9,356.2 226.7,357.5 227.6,358.9 228.5,360.3 229.3,362.0 230.2,363.7 231.0,365.5 231.9,367.4 232.8,369.4 233.6,371.5 234.5,373.7 235.3,375.9 236.2,378.2 237.1,380.4 237.9,382.7 238.8,385.0 239.6,387.2 240.5,389.3 241.4,391.3 242.2,393.1 243.1,394.7 243.9,396.0 244.8,397.2 245.7,398.0 246.5,398.5 247.4,398.6 248.2,398.4 249.1,398.0 249.9,397.6 250.8,397.0 251.7,396.4 252.5,395.6 253.4,394.9 254.2,394.0 255.1,393.1 256.0,392.2 256.8,391.3 257.7,390.4 258.5,389.5 259.4,388.6 260.3,387.7 261.1,386.9 262.0,386.1 262.8,385.3 263.7,384.6 264.6,384.0 265.4,383.3 266.3,382.8 267.1,382.2 268.0,381.8 268.9,381.3 269.7,380.9 270.6,380.6 271.4,380.3 272.3,380.0 273.2,379.7 274.0,379.5 274.9,379.3 275.7,379.1 276.6,378.9 277.4,378.7 278.3,378.6 279.2,378.5 280.0,378.3 280.9,378.2 281.7,378.1 282.6,378.0 283.5,377.9 284.3,377.8 285.2,377.7 286.0,377.6 286.9,377.6 287.8,377.5 288.6,377.4 289.5,377.3 290.3,377.3 291.2,377.2 292.1,377.1 292.9,377.1 293.8,377.0 294.6,377.0 295.5,376.9 296.4,376.9 297.2,376.8 298.1,376.8 298.9,376.7 299.8,376.7 300.7,376.6 301.5,376.6 302.4,376.5 303.2,376.5 304.1,376.4 304.9,376.4 305.8,376.4 306.7,376.3 307.5,376.3 308.4,376.2 309.2,376.2 310.1,376.2 311.0,376.1 311.8,376.1 312.7,376.0 313.5,376.0 314.4,375.9" fill="none" stroke="#111" stroke-width="0.8" stroke-linejoin="round"/>
<polyline points="185.5,371.4 186.4,371.0 187.2,370.6 188.1,370.2 188.9,369.7 189.8,369.3 190.7,368.8 191.5,368.3 192.4,367.8 193.2,367.3 194.1,366.7 195.0,366.2 195.8,365.6 196.7,365.0 197.5,364.4 198.4,363.8 199.2,363.2 200.1,362.6 201.0,362.0 201.8,361.4 202.7,360.8 203.5,360.3 204.4,359.7 205.3,359.1 206.1,358.6 207.0,358.0 207.8,357.5 208.7,357.0 209.6,356.6 210.4,356.2 211.3,355.8 212.1,355.4 213.0,355.1 213.9,354.8 214.7,354.6 215.6,354.4 216.4,354.2 217.3,354.1 218.2,354.1 219.0,354.1 219.9,354.1 220.7,354.4 221.6,354.7 222.5,355.2 223.3,355.9 224.2,356.6 225.0,357.5 225.9,358.5 226.7,359.7 227.6,360.9 228.5,362.2 229.3,363.7 230.2,365.2 231.0,366.9 231.9,368.6 232.8,370.4 233.6,372.3 234.5,374.3 235.3,376.3 236.2,378.4 237.1,380.5 237.9,382.6 238.8,384.7 239.6,386.7 240.5,388.6 241.4,390.4 242.2,392.1 243.1,393.6 243.9,394.8 244.8,395.9 245.7,396.6 246.5,397.1 247.4,397.2 248.2,397.0 249.1,396.6 249.9,396.2 250.8,395.7 251.7,395.0 252.5,394.4 253.4,393.6 254.2,392.8 255.1,392.0 256.0,391.2 256.8,390.3 257.7,389.5 258.5,388.6 259.4,387.8 260.3,387.0 261.1,386.2 262.0,385.4 262.8,384.7 263.7,384.1 264.6,383.4 265.4,382.9 266.3,382.3 267.1,381.8 268.0,381.4 268.9,381.0 269.7,380.6 270.6,380.3 271.4,380.0 272.3,379.7 273.2,379.5 274.0,379.2 274.9,379.0 275.7,378.9 276.6,378.7 277.4,378.6 278.3,378.4 279.2,378.3 280.0,378.2 280.9,378.1 281.7,378.0 282.6,377.9 283.5,377.8 284.3,377.7 285.2,377.6 286.0,377.5 286.9,377.5 287.8,377.4 288.6,377.3 289.5,377.2 290.3,377.2 291.2,377.1 292.1,377.1 292.9,377.0 293.8,376.9 294.6,376.9 295.5,376.8 296.4,376.8 297.2,376.7 298.1,376.7 298.9,376.7 299.8,376.6 300.7,376.6 301.5,376.5 302.4,376.5 303.2,376.4 304.1,376.4 304.9,376.4 305.8,376.3 306.7,376.3 307.5,376.3 308.4,376.2 309.2,376.2 310.1,376.1 311.0,376.1 311.8,376.1 312.7,376.0 313.5,376.0 314.4,375.9" fill="none" stroke="#111" stroke-width="0.8" stroke-linejoin="round"/>
<polyline points="185.5,372.4 186.4,372.2 187.2,371.9 188.1,371.5 188.9,371.2 189.8,370.9 190.7,370.5 191.5,370.1 192.4,369.8 193.2,369.4 194.1,368.9 195.0,368.5 195.8,368.1 196.7,367.7 197.5,367.2 198.4,366.8 199.2,366.3 200.1,365.8 201.0,365.4 201.8,364.9 202.7,364.5 203.5,364.0 204.4,363.6 205.3,363.2 206.1,362.7 207.0,362.3 207.8,362.0 208.7,361.6 209.6,361.2 210.4,360.9 211.3,360.6 212.1,360.4 213.0,360.1 213.9,359.9 214.7,359.7 215.6,359.6 216.4,359.5 217.3,359.4 218.2,359.3 219.0,359.3 219.9,359.4 220.7,359.6 221.6,359.9 222.5,360.3 223.3,360.8 224.2,361.3 225.0,362.0 225.9,362.8 226.7,363.7 227.6,364.7 228.5,365.8 229.3,366.9 230.2,368.2 231.0,369.5 231.9,371.0 232.8,372.5 233.6,374.1 234.5,375.7 235.3,377.4 236.2,379.2 237.1,381.0 237.9,382.8 238.8,384.6 239.6,386.4 240.5,388.0 241.4,389.6 242.2,391.1 243.1,392.4 243.9,393.5 244.8,394.4 245.7,395.0 246.5,395.4 247.4,395.5 248.2,395.2 249.1,394.9 249.9,394.5 250.8,394.0 251.7,393.4 252.5,392.8 253.4,392.1 254.2,391.4 255.1,390.6 256.0,389.9 256.8,389.1 257.7,388.3 258.5,387.5 259.4,386.7 260.3,386.0 261.1,385.3 262.0,384.6 262.8,384.0 263.7,383.3 264.6,382.8 265.4,382.2 266.3,381.8 267.1,381.3 268.0,380.9 268.9,380.5 269.7,380.2 270.6,379.9 271.4,379.6 272.3,379.4 273.2,379.2 274.0,378.9 274.9,378.8 275.7,378.6 276.6,378.5 277.4,378.3 278.3,378.2 279.2,378.1 280.0,378.0 280.9,377.9 281.7,377.8 282.6,377.7 283.5,377.6 284.3,377.5 285.2,377.5 286.0,377.4 286.9,377.3 287.8,377.2 288.6,377.2 289.5,377.1 290.3,377.1 291.2,377.0 292.1,377.0 292.9,376.9 293.8,376.9 294.6,376.8 295.5,376.8 296.4,376.7 297.2,376.7 298.1,376.6 298.9,376.6 299.8,376.5 300.7,376.5 301.5,376.5 302.4,376.4 303.2,376.4 304.1,376.4 304.9,376.3 305.8,376.3 306.7,376.3 307.5,376.2 308.4,376.2 309.2,376.1 310.1,376.1 311.0,376.1 311.8,376.0 312.7,376.0 313.5,376.0 314.4,375.9" fill="none" stroke="#111" stroke-width="0.8" stroke-linejoin="round"/>
<polyline points="185.5,373.0 186.4,372.7 187.2,372.5 188.1,372.2 188.9,371.9 189.8,371.6 190.7,371.3 191.5,371.0 192.4,370.7 193.2,370.4 194.1,370.0 195.0,369.7 195.8,369.3 196.7,368.9 197.5,368.5 198.4,368.2 199.2,367.8 200.1,367.4 201.0,367.0 201.8,366.6 202.7,366.2 203.5,365.9 204.4,365.5 205.3,365.1 206.1,364.8 207.0,364.4 207.8,364.1 208.7,363.8 209.6,363.5 210.4,363.2 211.3,363.0 212.1,362.8 213.0,362.6 213.9,362.4 214.7,362.2 215.6,362.1 216.4,362.0 217.3,361.9 218.2,361.9 219.0,361.9 219.9,362.0 220.7,362.1 221.6,362.4 222.5,362.7 223.3,363.1 224.2,363.6 225.0,364.2 225.9,364.9 226.7,365.6 227.6,366.4 228.5,367.4 229.3,368.3 230.2,369.4 231.0,370.5 231.9,371.8 232.8,373.0 233.6,374.4 234.5,375.8 235.3,377.3 236.2,378.8 237.1,380.3 237.9,381.8 238.8,383.4 239.6,384.9 240.5,386.3 241.4,387.6 242.2,388.9 243.1,390.0 243.9,390.9 244.8,391.7 245.7,392.2 246.5,392.6 247.4,392.6 248.2,392.4 249.1,392.1 249.9,391.8 250.8,391.4 251.7,390.9 252.5,390.3 253.4,389.8 254.2,389.1 255.1,388.5 256.0,387.8 256.8,387.2 257.7,386.5 258.5,385.8 259.4,385.2 260.3,384.5 261.1,383.9 262.0,383.3 262.8,382.8 263.7,382.3 264.6,381.8 265.4,381.3 266.3,380.9 267.1,380.5 268.0,380.2 268.9,379.9 269.7,379.6 270.6,379.3 271.4,379.1 272.3,378.9 273.2,378.7 274.0,378.5 274.9,378.3 275.7,378.2 276.6,378.1 277.4,378.0 278.3,377.9 279.2,377.8 280.0,377.7 280.9,377.6 281.7,377.5 282.6,377.4 283.5,377.3 284.3,377.3 285.2,377.2 286.0,377.2 286.9,377.1 287.8,377.0 288.6,377.0 289.5,376.9 290.3,376.9 291.2,376.8 292.1,376.8 292.9,376.8 293.8,376.7 294.6,376.7 295.5,376.6 296.4,376.6 297.2,376.5 298.1,376.5 298.9,376.5 299.8,376.4 300.7,376.4 301.5,376.4 302.4,376.3 303.2,376.3 304.1,376.3 304.9,376.3 305.8,376.2 306.7,376.2 307.5,376.2 308.4,376.1 309.2,376.1 310.1,376.1 311.0,376.0 311.8,376.0 312.7,376.0 313.5,375.9 314.4,375.9" fill="none" stroke="#111" stroke-width="0.8" stroke-linejoin="round"/>
<polyline points="185.5,374.1 186.4,373.9 187.2,373.8 188.1,373.6 188.9,373.5 189.8,373.3 190.7,373.1 191.5,372.9 192.4,372.7 193.2,372.5 194.1,372.3 195.0,372.1 195.8,371.8 196.7,371.6 197.5,371.4 198.4,371.1 199.2,370.9 200.1,370.7 201.0,370.4 201.8,370.2 202.7,370.0 203.5,369.7 204.4,369.5 205.3,369.3 206.1,369.1 207.0,368.9 207.8,368.7 208.7,368.5 209.6,368.3 210.4,368.1 211.3,368.0 212.1,367.8 213.0,367.7 213.9,367.6 214.7,367.5 215.6,367.4 216.4,367.4 217.3,367.3 218.2,367.3 219.0,367.3 219.9,367.4 220.7,367.4 221.6,367.6 222.5,367.8 223.3,368.1 224.2,368.4 225.0,368.8 225.9,369.2 226.7,369.7 227.6,370.2 228.5,370.8 229.3,371.4 230.2,372.1 231.0,372.9 231.9,373.7 232.8,374.6 233.6,375.5 234.5,376.4 235.3,377.4 236.2,378.4 237.1,379.5 237.9,380.6 238.8,381.6 239.6,382.7 240.5,383.7 241.4,384.6 242.2,385.5 243.1,386.3 243.9,386.9 244.8,387.4 245.7,387.8 246.5,388.1 247.4,388.1 248.2,387.9 249.1,387.7 249.9,387.4 250.8,387.1 251.7,386.8 252.5,386.4 253.4,385.9 254.2,385.5 255.1,385.0 256.0,384.5 256.8,384.1 257.7,383.6 258.5,383.1 259.4,382.6 260.3,382.1 261.1,381.7 262.0,381.3 262.8,380.9 263.7,380.5 264.6,380.1 265.4,379.8 266.3,379.5 267.1,379.2 268.0,379.0 268.9,378.8 269.7,378.5 270.6,378.4 271.4,378.2 272.3,378.0 273.2,377.9 274.0,377.8 274.9,377.7 275.7,377.6 276.6,377.5 277.4,377.4 278.3,377.3 279.2,377.2 280.0,377.2 280.9,377.1 281.7,377.0 282.6,377.0 283.5,376.9 284.3,376.9 285.2,376.8 286.0,376.8 286.9,376.8 287.8,376.7 288.6,376.7 289.5,376.6 290.3,376.6 291.2,376.6 292.1,376.5 292.9,376.5 293.8,376.5 294.6,376.4 295.5,376.4 296.4,376.4 297.2,376.4 298.1,376.3 298.9,376.3 299.8,376.3 300.7,376.3 301.5,376.2 302.4,376.2 303.2,376.2 304.1,376.2 304.9,376.1 305.8,376.1 306.7,376.1 307.5,376.1 308.4,376.1 309.2,376.0 310.1,376.0 311.0,376.0 311.8,376.0 312.7,375.9 313.5,375.9 314.4,375.9" fill="none" stroke="#111" stroke-width="0.8" stroke-linejoin="round"/>
<path d="M182.30 333.00H185.50" stroke="#000" stroke-width="1"/>
<text x="181.10" y="335.40" font-size="6.6" font-weight="normal" text-anchor="end">0.03</text>
<path d="M182.30 347.28H185.50" stroke="#000" stroke-width="1"/>
<text x="181.10" y="349.68" font-size="6.6" font-weight="normal" text-anchor="end">0.02</text>
<path d="M182.30 361.57H185.50" stroke="#000" stroke-width="1"/>
<text x="181.10" y="363.97" font-size="6.6" font-weight="normal" text-anchor="end">0.01</text>
<path d="M182.30 375.85H185.50" stroke="#000" stroke-width="1"/>
<text x="181.10" y="378.25" font-size="6.6" font-weight="normal" text-anchor="end">0.00</text>
<path d="M182.30 390.13H185.50" stroke="#000" stroke-width="1"/>
<text x="181.10" y="392.53" font-size="6.6" font-weight="normal" text-anchor="end">-0.01</text>
<path d="M182.30 404.42H185.50" stroke="#000" stroke-width="1"/>
<text x="181.10" y="406.82" font-size="6.6" font-weight="normal" text-anchor="end">-0.02</text>
<path d="M182.30 418.70H185.50" stroke="#000" stroke-width="1"/>
<text x="181.10" y="421.10" font-size="6.6" font-weight="normal" text-anchor="end">-0.03</text>
<path d="M185.50 418.70V421.90" stroke="#000" stroke-width="1"/>
<text x="185.50" y="429.20" font-size="6.6" font-weight="normal" text-anchor="middle">350</text>
<path d="M206.98 418.70V421.90" stroke="#000" stroke-width="1"/>
<text x="206.98" y="429.20" font-size="6.6" font-weight="normal" text-anchor="middle">375</text>
<path d="M228.47 418.70V421.90" stroke="#000" stroke-width="1"/>
<text x="228.47" y="429.20" font-size="6.6" font-weight="normal" text-anchor="middle">400</text>
<path d="M249.95 418.70V421.90" stroke="#000" stroke-width="1"/>
<text x="249.95" y="429.20" font-size="6.6" font-weight="normal" text-anchor="middle">425</text>
<path d="M271.43 418.70V421.90" stroke="#000" stroke-width="1"/>
<text x="271.43" y="429.20" font-size="6.6" font-weight="normal" text-anchor="middle">450</text>
<path d="M292.92 418.70V421.90" stroke="#000" stroke-width="1"/>
<text x="292.92" y="429.20" font-size="6.6" font-weight="normal" text-anchor="middle">475</text>
<path d="M314.40 418.70V421.90" stroke="#000" stroke-width="1"/>
<text x="314.40" y="429.20" font-size="6.6" font-weight="normal" text-anchor="middle">500</text>
<text x="249.95" y="440.80" font-size="7" font-weight="normal" text-anchor="middle">Wavelength (nm)</text>
<text transform="translate(162.46 375.85) rotate(-90)" font-size="7" text-anchor="middle">Absorbance</text>
<text x="356.00" y="270.30" font-size="24" font-weight="bold" text-anchor="start">D</text>
<path d="M417.40 275.70H424.40V446.30H680.30V453.30" fill="none" stroke="#000" stroke-width="1.7"/>
<path d="M417.40 446.30H424.40" stroke="#000" stroke-width="1.7"/>
<text x="415.50" y="451.05" font-size="13" font-weight="bold" text-anchor="end">0.000</text>
<path d="M417.40 389.43H424.40" stroke="#000" stroke-width="1.7"/>
<text x="415.50" y="394.18" font-size="13" font-weight="bold" text-anchor="end">0.025</text>
<path d="M417.40 332.57H424.40" stroke="#000" stroke-width="1.7"/>
<text x="415.50" y="337.32" font-size="13" font-weight="bold" text-anchor="end">0.050</text>
<path d="M417.40 275.70H424.40" stroke="#000" stroke-width="1.7"/>
<text x="415.50" y="280.45" font-size="13" font-weight="bold" text-anchor="end">0.075</text>
<path d="M424.40 446.30V453.30" stroke="#000" stroke-width="1.7"/>
<text x="424.40" y="467.10" font-size="13" font-weight="bold" text-anchor="middle">0</text>
<path d="M475.58 446.30V453.30" stroke="#000" stroke-width="1.7"/>
<text x="475.58" y="467.10" font-size="13" font-weight="bold" text-anchor="middle">2</text>
<path d="M526.76 446.30V453.30" stroke="#000" stroke-width="1.7"/>
<text x="526.76" y="467.10" font-size="13" font-weight="bold" text-anchor="middle">4</text>
<path d="M577.94 446.30V453.30" stroke="#000" stroke-width="1.7"/>
<text x="577.94" y="467.10" font-size="13" font-weight="bold" text-anchor="middle">6</text>
<path d="M629.12 446.30V453.30" stroke="#000" stroke-width="1.7"/>
<text x="629.12" y="467.10" font-size="13" font-weight="bold" text-anchor="middle">8</text>
<path d="M680.30 446.30V453.30" stroke="#000" stroke-width="1.7"/>
<text x="680.30" y="467.10" font-size="13" font-weight="bold" text-anchor="middle">10</text>
<text transform="translate(375.37 360.20) rotate(-90)" font-size="14" font-weight="bold" text-anchor="middle"><tspan font-weight="normal">Δ</tspan> Absorbance</text>
<text x="552.35" y="489.30" font-size="14" font-weight="bold" text-anchor="middle">Palmitic acid (<tspan font-weight="normal">μ</tspan>M)</text>
<polyline points="424.40,446.30 424.41,446.12 424.43,445.58 424.46,444.69 424.50,443.46 424.56,441.91 424.63,440.06 424.71,437.93 424.81,435.56 424.92,432.97 425.04,430.19 425.17,427.25 425.32,424.18 425.48,421.01 425.65,417.76 425.84,414.47 426.04,411.15 426.25,407.82 426.47,404.50 426.71,401.21 426.96,397.96 427.22,394.77 427.50,391.64 427.78,388.58 428.08,385.60 428.40,382.70 428.72,379.89 429.06,377.16 429.42,374.53 429.78,371.98 430.16,369.53 430.55,367.17 430.95,364.89 431.37,362.70 431.80,360.60 432.24,358.58 432.69,356.64 433.16,354.77 433.64,352.99 434.13,351.27 434.64,349.63 435.15,348.05 435.69,346.53 436.23,345.08 436.79,343.69 437.35,342.35 437.94,341.07 438.53,339.84 439.14,338.66 439.76,337.53 440.39,336.44 441.04,335.40 441.70,334.40 442.37,333.43 443.06,332.51 443.75,331.62 444.46,330.76 445.19,329.94 445.92,329.15 446.67,328.39 447.43,327.66 448.21,326.95 448.99,326.27 449.79,325.62 450.60,324.98 451.43,324.38 452.27,323.79 453.12,323.22 453.98,322.68 454.86,322.15 455.75,321.64 456.65,321.15 457.56,320.68 458.49,320.22 459.43,319.77 460.39,319.35 461.35,318.93 462.33,318.53 463.32,318.14 464.33,317.77 465.34,317.40 466.37,317.05 467.42,316.71 468.47,316.38 469.54,316.06 470.62,315.75 471.72,315.44 472.82,315.15 473.94,314.87 475.07,314.59 476.22,314.32 477.38,314.06 478.55,313.81 479.73,313.57 480.93,313.33 482.14,313.10 483.36,312.87 484.59,312.65 485.84,312.44 487.10,312.23 488.38,312.03 489.66,311.84 490.96,311.64 492.27,311.46 493.60,311.28 494.93,311.10 496.28,310.93 497.64,310.76 499.02,310.60 500.41,310.44 501.81,310.28 503.22,310.13 504.65,309.98 506.09,309.84 507.54,309.70 509.01,309.56 510.48,309.43 511.98,309.30 513.48,309.17 514.99,309.04 516.52,308.92 518.07,308.80 519.62,308.69 521.19,308.57 522.77,308.46 524.36,308.35 525.97,308.25 527.59,308.14 529.22,308.04 530.86,307.94 532.52,307.84 534.19,307.75 535.87,307.66 537.57,307.56 539.27,307.48 540.99,307.39 542.73,307.30 544.47,307.22 546.23,307.14 548.01,307.06 549.79,306.98 551.59,306.90 553.40,306.82 555.22,306.75 557.06,306.68 558.91,306.61 560.77,306.54 562.64,306.47 564.53,306.40 566.43,306.33 568.34,306.27 570.27,306.21 572.21,306.14 574.16,306.08 576.12,306.02 578.10,305.96 580.09,305.91 582.09,305.85 584.11,305.79 586.14,305.74 588.18,305.68 590.23,305.63 592.30,305.58 594.38,305.53 596.47,305.48 598.57,305.43 600.69,305.38 602.82,305.33 604.96,305.29 607.12,305.24 609.29,305.20 611.47,305.15 613.66,305.11 615.87,305.07 618.09,305.02 620.32,304.98 622.57,304.94 624.83,304.90 627.10,304.86 629.38,304.82 631.68,304.78 633.99,304.75 636.31,304.71 638.65,304.67 640.99,304.64 643.35,304.60 645.73,304.57 648.11,304.53 650.51,304.50 652.93,304.47 655.35,304.43 657.79,304.40 660.24,304.37 662.70,304.34 665.18,304.31 667.66,304.28 670.17,304.25 672.68,304.22 675.21,304.19 677.75,304.16 680.30,304.13" fill="none" stroke="#000" stroke-width="1.1"/>
<path d="M430.80 381.02V394.21M427.40 381.02H434.20M427.40 394.21H434.20" stroke="#000" stroke-width="1.1" fill="none"/>
<path d="M437.19 337.12V351.67M433.80 337.12H440.59M433.80 351.67H440.59" stroke="#000" stroke-width="1.1" fill="none"/>
<path d="M443.59 315.05V328.70M440.19 315.05H446.99M440.19 328.70H446.99" stroke="#000" stroke-width="1.1" fill="none"/>
<path d="M449.99 306.41V318.24M446.59 306.41H453.39M446.59 318.24H453.39" stroke="#000" stroke-width="1.1" fill="none"/>
<path d="M456.39 307.09V318.46M452.99 307.09H459.79M452.99 318.46H459.79" stroke="#000" stroke-width="1.1" fill="none"/>
<path d="M462.78 313.23V319.60M459.38 313.23H466.18M459.38 319.60H466.18" stroke="#000" stroke-width="1.1" fill="none"/>
<path d="M526.76 298.67V305.04M523.36 298.67H530.16M523.36 305.04H530.16" stroke="#000" stroke-width="1.1" fill="none"/>
<path d="M680.30 318.46V325.29M676.90 318.46H683.70M676.90 325.29H683.70" stroke="#000" stroke-width="1.1" fill="none"/>
<circle cx="424.40" cy="446.30" r="3.5"/>
<circle cx="430.80" cy="387.61" r="3.5"/>
<circle cx="437.19" cy="344.39" r="3.5"/>
<circle cx="443.59" cy="321.88" r="3.5"/>
<circle cx="449.99" cy="312.32" r="3.5"/>
<circle cx="456.39" cy="312.78" r="3.5"/>
<circle cx="462.78" cy="316.42" r="3.5"/>
<circle cx="526.76" cy="301.86" r="3.5"/>
<circle cx="577.94" cy="307.32" r="3.5"/>
<circle cx="629.12" cy="314.60" r="3.5"/>
<circle cx="680.30" cy="321.88" r="3.5"/>
<rect x="541.50" y="333.00" width="129.00" height="85.50" fill="#fff" stroke="#1a1a1a" stroke-width="1.2"/>
<path d="M541.50 375.75H670.50" stroke="#b0b0b0" stroke-width="0.9"/>
<polyline points="541.5,368.1 542.4,367.5 543.2,366.9 544.1,366.3 544.9,365.7 545.8,365.1 546.7,364.4 547.5,363.8 548.4,363.1 549.2,362.4 550.1,361.7 551.0,360.9 551.8,360.2 552.7,359.4 553.5,358.7 554.4,357.9 555.3,357.2 556.1,356.4 557.0,355.7 557.8,355.0 558.7,354.2 559.6,353.5 560.4,352.9 561.3,352.2 562.1,351.6 563.0,351.0 563.9,350.4 564.7,349.8 565.6,349.3 566.4,348.9 567.3,348.4 568.2,348.1 569.0,347.7 569.9,347.5 570.7,347.2 571.6,347.0 572.5,346.9 573.3,346.9 574.2,346.9 575.0,347.0 575.9,347.3 576.8,347.7 577.6,348.4 578.5,349.2 579.3,350.2 580.2,351.4 581.1,352.8 581.9,354.3 582.8,355.9 583.6,357.8 584.5,359.8 585.4,361.9 586.2,364.3 587.1,366.8 587.9,369.4 588.8,372.2 589.7,375.2 590.5,378.4 591.4,381.6 592.2,385.0 593.1,388.4 594.0,391.9 594.8,395.3 595.7,398.7 596.5,401.9 597.4,404.9 598.3,407.5 599.1,409.9 600.0,411.8 600.8,413.3 601.7,414.3 602.6,414.8 603.4,414.4 604.3,413.8 605.1,413.1 606.0,412.2 606.9,411.2 607.7,410.0 608.6,408.8 609.4,407.4 610.3,405.9 611.2,404.4 612.0,402.9 612.9,401.3 613.7,399.7 614.6,398.2 615.5,396.6 616.3,395.2 617.2,393.7 618.0,392.3 618.9,391.0 619.8,389.8 620.6,388.6 621.5,387.5 622.3,386.5 623.2,385.6 624.1,384.8 624.9,384.0 625.8,383.3 626.6,382.7 627.5,382.1 628.4,381.6 629.2,381.2 630.1,380.7 630.9,380.4 631.8,380.1 632.7,379.8 633.5,379.5 634.4,379.3 635.2,379.1 636.1,378.9 637.0,378.7 637.8,378.5 638.7,378.4 639.5,378.2 640.4,378.1 641.3,378.0 642.1,377.9 643.0,377.8 643.8,377.7 644.7,377.6 645.6,377.5 646.4,377.4 647.3,377.3 648.1,377.2 649.0,377.2 649.9,377.1 650.7,377.0 651.6,377.0 652.4,376.9 653.3,376.8 654.2,376.8 655.0,376.7 655.9,376.7 656.7,376.6 657.6,376.6 658.5,376.5 659.3,376.5 660.2,376.4 661.0,376.4 661.9,376.3 662.8,376.3 663.6,376.2 664.5,376.2 665.3,376.1 666.2,376.1 667.1,376.0 667.9,376.0 668.8,375.9 669.6,375.9 670.5,375.8" fill="none" stroke="#111" stroke-width="0.8" stroke-linejoin="round"/>
<polyline points="541.5,368.2 542.4,367.7 543.2,367.1 544.1,366.6 544.9,366.0 545.8,365.3 546.7,364.7 547.5,364.0 548.4,363.4 549.2,362.7 550.1,362.0 551.0,361.2 551.8,360.5 552.7,359.8 553.5,359.1 554.4,358.3 555.3,357.6 556.1,356.9 557.0,356.1 557.8,355.4 558.7,354.7 559.6,354.0 560.4,353.4 561.3,352.7 562.1,352.1 563.0,351.5 563.9,350.9 564.7,350.4 565.6,349.9 566.4,349.5 567.3,349.0 568.2,348.7 569.0,348.4 569.9,348.1 570.7,347.9 571.6,347.7 572.5,347.6 573.3,347.5 574.2,347.5 575.0,347.6 575.9,347.9 576.8,348.4 577.6,349.0 578.5,349.8 579.3,350.8 580.2,351.9 581.1,353.2 581.9,354.7 582.8,356.3 583.6,358.1 584.5,360.0 585.4,362.1 586.2,364.4 587.1,366.8 587.9,369.3 588.8,372.0 589.7,374.9 590.5,377.9 591.4,381.0 592.2,384.3 593.1,387.5 594.0,390.8 594.8,394.1 595.7,397.3 596.5,400.3 597.4,403.2 598.3,405.7 599.1,408.0 600.0,409.8 600.8,411.2 601.7,412.2 602.6,412.6 603.4,412.3 604.3,411.8 605.1,411.1 606.0,410.2 606.9,409.3 607.7,408.2 608.6,407.0 609.4,405.7 610.3,404.3 611.2,402.9 612.0,401.4 612.9,399.9 613.7,398.5 614.6,397.0 615.5,395.5 616.3,394.1 617.2,392.7 618.0,391.4 618.9,390.2 619.8,389.0 620.6,387.9 621.5,386.9 622.3,386.0 623.2,385.1 624.1,384.3 624.9,383.6 625.8,382.9 626.6,382.3 627.5,381.8 628.4,381.3 629.2,380.9 630.1,380.5 630.9,380.1 631.8,379.8 632.7,379.6 633.5,379.3 634.4,379.1 635.2,378.9 636.1,378.7 637.0,378.5 637.8,378.4 638.7,378.2 639.5,378.1 640.4,378.0 641.3,377.9 642.1,377.8 643.0,377.7 643.8,377.6 644.7,377.5 645.6,377.4 646.4,377.3 647.3,377.2 648.1,377.2 649.0,377.1 649.9,377.0 650.7,377.0 651.6,376.9 652.4,376.8 653.3,376.8 654.2,376.7 655.0,376.7 655.9,376.6 656.7,376.6 657.6,376.5 658.5,376.5 659.3,376.4 660.2,376.4 661.0,376.3 661.9,376.3 662.8,376.2 663.6,376.2 664.5,376.2 665.3,376.1 666.2,376.1 667.1,376.0 667.9,376.0 668.8,375.9 669.6,375.9 670.5,375.8" fill="none" stroke="#111" stroke-width="0.8" stroke-linejoin="round"/>
<polyline points="541.5,369.0 542.4,368.5 543.2,368.0 544.1,367.4 544.9,366.8 545.8,366.2 546.7,365.6 547.5,365.0 548.4,364.3 549.2,363.6 550.1,362.9 551.0,362.2 551.8,361.5 552.7,360.8 553.5,360.0 554.4,359.3 555.3,358.6 556.1,357.8 557.0,357.1 557.8,356.4 558.7,355.7 559.6,355.0 560.4,354.3 561.3,353.6 562.1,353.0 563.0,352.4 563.9,351.8 564.7,351.2 565.6,350.7 566.4,350.3 567.3,349.8 568.2,349.5 569.0,349.1 569.9,348.8 570.7,348.6 571.6,348.4 572.5,348.3 573.3,348.2 574.2,348.2 575.0,348.3 575.9,348.6 576.8,349.1 577.6,349.7 578.5,350.5 579.3,351.4 580.2,352.6 581.1,353.8 581.9,355.2 582.8,356.8 583.6,358.5 584.5,360.4 585.4,362.4 586.2,364.6 587.1,366.9 587.9,369.4 588.8,372.0 589.7,374.8 590.5,377.7 591.4,380.7 592.2,383.8 593.1,386.9 594.0,390.1 594.8,393.2 595.7,396.3 596.5,399.2 597.4,401.9 598.3,404.4 599.1,406.5 600.0,408.3 600.8,409.7 601.7,410.6 602.6,411.0 603.4,410.7 604.3,410.2 605.1,409.5 606.0,408.8 606.9,407.8 607.7,406.8 608.6,405.6 609.4,404.4 610.3,403.1 611.2,401.7 612.0,400.3 612.9,398.9 613.7,397.5 614.6,396.1 615.5,394.7 616.3,393.3 617.2,392.0 618.0,390.8 618.9,389.6 619.8,388.4 620.6,387.4 621.5,386.4 622.3,385.5 623.2,384.7 624.1,383.9 624.9,383.2 625.8,382.6 626.6,382.0 627.5,381.5 628.4,381.1 629.2,380.6 630.1,380.3 630.9,379.9 631.8,379.7 632.7,379.4 633.5,379.2 634.4,378.9 635.2,378.7 636.1,378.6 637.0,378.4 637.8,378.3 638.7,378.1 639.5,378.0 640.4,377.9 641.3,377.8 642.1,377.7 643.0,377.6 643.8,377.5 644.7,377.4 645.6,377.3 646.4,377.3 647.3,377.2 648.1,377.1 649.0,377.0 649.9,377.0 650.7,376.9 651.6,376.9 652.4,376.8 653.3,376.7 654.2,376.7 655.0,376.6 655.9,376.6 656.7,376.5 657.6,376.5 658.5,376.4 659.3,376.4 660.2,376.3 661.0,376.3 661.9,376.3 662.8,376.2 663.6,376.2 664.5,376.1 665.3,376.1 666.2,376.1 667.1,376.0 667.9,376.0 668.8,375.9 669.6,375.9 670.5,375.8" fill="none" stroke="#111" stroke-width="0.8" stroke-linejoin="round"/>
<polyline points="541.5,370.0 542.4,369.5 543.2,369.0 544.1,368.5 544.9,368.0 545.8,367.4 546.7,366.8 547.5,366.2 548.4,365.6 549.2,364.9 550.1,364.3 551.0,363.6 551.8,362.9 552.7,362.2 553.5,361.5 554.4,360.8 555.3,360.1 556.1,359.3 557.0,358.6 557.8,357.9 558.7,357.2 559.6,356.5 560.4,355.9 561.3,355.2 562.1,354.6 563.0,354.0 563.9,353.4 564.7,352.9 565.6,352.3 566.4,351.9 567.3,351.5 568.2,351.1 569.0,350.7 569.9,350.5 570.7,350.2 571.6,350.0 572.5,349.9 573.3,349.8 574.2,349.8 575.0,349.9 575.9,350.2 576.8,350.6 577.6,351.2 578.5,352.0 579.3,352.9 580.2,353.9 581.1,355.1 581.9,356.5 582.8,357.9 583.6,359.6 584.5,361.3 585.4,363.2 586.2,365.3 587.1,367.5 587.9,369.8 588.8,372.3 589.7,374.9 590.5,377.7 591.4,380.5 592.2,383.5 593.1,386.5 594.0,389.5 594.8,392.5 595.7,395.4 596.5,398.2 597.4,400.8 598.3,403.1 599.1,405.2 600.0,406.8 600.8,408.1 601.7,409.0 602.6,409.4 603.4,409.1 604.3,408.6 605.1,408.0 606.0,407.2 606.9,406.4 607.7,405.4 608.6,404.3 609.4,403.1 610.3,401.8 611.2,400.5 612.0,399.2 612.9,397.8 613.7,396.5 614.6,395.1 615.5,393.8 616.3,392.5 617.2,391.3 618.0,390.1 618.9,388.9 619.8,387.9 620.6,386.9 621.5,385.9 622.3,385.1 623.2,384.3 624.1,383.5 624.9,382.9 625.8,382.3 626.6,381.7 627.5,381.3 628.4,380.8 629.2,380.4 630.1,380.1 630.9,379.8 631.8,379.5 632.7,379.2 633.5,379.0 634.4,378.8 635.2,378.6 636.1,378.4 637.0,378.3 637.8,378.2 638.7,378.0 639.5,377.9 640.4,377.8 641.3,377.7 642.1,377.6 643.0,377.5 643.8,377.4 644.7,377.3 645.6,377.3 646.4,377.2 647.3,377.1 648.1,377.0 649.0,377.0 649.9,376.9 650.7,376.9 651.6,376.8 652.4,376.7 653.3,376.7 654.2,376.6 655.0,376.6 655.9,376.5 656.7,376.5 657.6,376.4 658.5,376.4 659.3,376.4 660.2,376.3 661.0,376.3 661.9,376.2 662.8,376.2 663.6,376.2 664.5,376.1 665.3,376.1 666.2,376.0 667.1,376.0 667.9,376.0 668.8,375.9 669.6,375.9 670.5,375.8" fill="none" stroke="#111" stroke-width="0.8" stroke-linejoin="round"/>
<polyline points="541.5,370.7 542.4,370.3 543.2,369.8 544.1,369.3 544.9,368.8 545.8,368.3 546.7,367.7 547.5,367.2 548.4,366.5 549.2,365.9 550.1,365.3 551.0,364.6 551.8,363.9 552.7,363.3 553.5,362.6 554.4,361.9 555.3,361.1 556.1,360.4 557.0,359.7 557.8,359.0 558.7,358.3 559.6,357.6 560.4,356.9 561.3,356.3 562.1,355.6 563.0,355.0 563.9,354.4 564.7,353.9 565.6,353.4 566.4,352.9 567.3,352.5 568.2,352.1 569.0,351.7 569.9,351.4 570.7,351.2 571.6,351.0 572.5,350.9 573.3,350.8 574.2,350.8 575.0,350.9 575.9,351.1 576.8,351.6 577.6,352.1 578.5,352.8 579.3,353.7 580.2,354.7 581.1,355.9 581.9,357.2 582.8,358.6 583.6,360.2 584.5,361.9 585.4,363.7 586.2,365.7 587.1,367.8 587.9,370.1 588.8,372.5 589.7,375.0 590.5,377.7 591.4,380.4 592.2,383.3 593.1,386.2 594.0,389.1 594.8,392.0 595.7,394.8 596.5,397.5 597.4,400.0 598.3,402.3 599.1,404.2 600.0,405.9 600.8,407.1 601.7,407.9 602.6,408.3 603.4,408.0 604.3,407.6 605.1,407.0 606.0,406.2 606.9,405.4 607.7,404.4 608.6,403.4 609.4,402.2 610.3,401.0 611.2,399.7 612.0,398.4 612.9,397.1 613.7,395.8 614.6,394.5 615.5,393.2 616.3,392.0 617.2,390.8 618.0,389.6 618.9,388.5 619.8,387.5 620.6,386.5 621.5,385.6 622.3,384.8 623.2,384.0 624.1,383.3 624.9,382.7 625.8,382.1 626.6,381.5 627.5,381.1 628.4,380.7 629.2,380.3 630.1,379.9 630.9,379.6 631.8,379.4 632.7,379.1 633.5,378.9 634.4,378.7 635.2,378.5 636.1,378.4 637.0,378.2 637.8,378.1 638.7,378.0 639.5,377.8 640.4,377.7 641.3,377.6 642.1,377.5 643.0,377.4 643.8,377.4 644.7,377.3 645.6,377.2 646.4,377.1 647.3,377.1 648.1,377.0 649.0,376.9 649.9,376.9 650.7,376.8 651.6,376.8 652.4,376.7 653.3,376.7 654.2,376.6 655.0,376.6 655.9,376.5 656.7,376.5 657.6,376.4 658.5,376.4 659.3,376.3 660.2,376.3 661.0,376.3 661.9,376.2 662.8,376.2 663.6,376.1 664.5,376.1 665.3,376.1 666.2,376.0 667.1,376.0 667.9,376.0 668.8,375.9 669.6,375.9 670.5,375.8" fill="none" stroke="#111" stroke-width="0.8" stroke-linejoin="round"/>
<polyline points="541.5,370.9 542.4,370.5 543.2,370.1 544.1,369.6 544.9,369.1 545.8,368.6 546.7,368.0 547.5,367.5 548.4,366.9 549.2,366.3 550.1,365.7 551.0,365.1 551.8,364.4 552.7,363.7 553.5,363.1 554.4,362.4 555.3,361.7 556.1,361.0 557.0,360.3 557.8,359.6 558.7,359.0 559.6,358.3 560.4,357.7 561.3,357.0 562.1,356.4 563.0,355.8 563.9,355.3 564.7,354.7 565.6,354.2 566.4,353.8 567.3,353.4 568.2,353.0 569.0,352.7 569.9,352.4 570.7,352.1 571.6,352.0 572.5,351.8 573.3,351.8 574.2,351.8 575.0,351.8 575.9,352.1 576.8,352.5 577.6,353.0 578.5,353.7 579.3,354.6 580.2,355.5 581.1,356.6 581.9,357.9 582.8,359.3 583.6,360.8 584.5,362.4 585.4,364.2 586.2,366.1 587.1,368.2 587.9,370.3 588.8,372.7 589.7,375.1 590.5,377.7 591.4,380.3 592.2,383.1 593.1,385.9 594.0,388.7 594.8,391.5 595.7,394.2 596.5,396.8 597.4,399.2 598.3,401.4 599.1,403.3 600.0,404.9 600.8,406.1 601.7,406.9 602.6,407.3 603.4,407.0 604.3,406.5 605.1,406.0 606.0,405.2 606.9,404.4 607.7,403.5 608.6,402.4 609.4,401.3 610.3,400.2 611.2,399.0 612.0,397.7 612.9,396.4 613.7,395.2 614.6,393.9 615.5,392.7 616.3,391.4 617.2,390.3 618.0,389.2 618.9,388.1 619.8,387.1 620.6,386.2 621.5,385.3 622.3,384.5 623.2,383.7 624.1,383.0 624.9,382.4 625.8,381.9 626.6,381.4 627.5,380.9 628.4,380.5 629.2,380.1 630.1,379.8 630.9,379.5 631.8,379.2 632.7,379.0 633.5,378.8 634.4,378.6 635.2,378.4 636.1,378.3 637.0,378.1 637.8,378.0 638.7,377.9 639.5,377.8 640.4,377.7 641.3,377.6 642.1,377.5 643.0,377.4 643.8,377.3 644.7,377.2 645.6,377.2 646.4,377.1 647.3,377.0 648.1,377.0 649.0,376.9 649.9,376.8 650.7,376.8 651.6,376.7 652.4,376.7 653.3,376.6 654.2,376.6 655.0,376.5 655.9,376.5 656.7,376.4 657.6,376.4 658.5,376.4 659.3,376.3 660.2,376.3 661.0,376.2 661.9,376.2 662.8,376.2 663.6,376.1 664.5,376.1 665.3,376.1 666.2,376.0 667.1,376.0 667.9,376.0 668.8,375.9 669.6,375.9 670.5,375.8" fill="none" stroke="#111" stroke-width="0.8" stroke-linejoin="round"/>
<polyline points="541.5,371.1 542.4,370.7 543.2,370.3 544.1,369.8 544.9,369.4 545.8,368.9 546.7,368.4 547.5,367.8 548.4,367.3 549.2,366.7 550.1,366.1 551.0,365.5 551.8,364.9 552.7,364.2 553.5,363.6 554.4,362.9 555.3,362.3 556.1,361.6 557.0,360.9 557.8,360.3 558.7,359.6 559.6,359.0 560.4,358.4 561.3,357.8 562.1,357.2 563.0,356.6 563.9,356.1 564.7,355.6 565.6,355.1 566.4,354.7 567.3,354.3 568.2,353.9 569.0,353.6 569.9,353.3 570.7,353.1 571.6,352.9 572.5,352.8 573.3,352.7 574.2,352.7 575.0,352.8 575.9,353.0 576.8,353.4 577.6,353.9 578.5,354.6 579.3,355.4 580.2,356.4 581.1,357.4 581.9,358.6 582.8,359.9 583.6,361.4 584.5,363.0 585.4,364.7 586.2,366.5 587.1,368.5 587.9,370.6 588.8,372.8 589.7,375.2 590.5,377.6 591.4,380.2 592.2,382.9 593.1,385.6 594.0,388.3 594.8,391.0 595.7,393.6 596.5,396.1 597.4,398.4 598.3,400.5 599.1,402.4 600.0,403.9 600.8,405.1 601.7,405.8 602.6,406.2 603.4,405.9 604.3,405.5 605.1,404.9 606.0,404.2 606.9,403.4 607.7,402.5 608.6,401.5 609.4,400.5 610.3,399.3 611.2,398.2 612.0,397.0 612.9,395.7 613.7,394.5 614.6,393.3 615.5,392.1 616.3,390.9 617.2,389.8 618.0,388.7 618.9,387.7 619.8,386.7 620.6,385.8 621.5,385.0 622.3,384.2 623.2,383.5 624.1,382.8 624.9,382.2 625.8,381.7 626.6,381.2 627.5,380.7 628.4,380.3 629.2,380.0 630.1,379.7 630.9,379.4 631.8,379.1 632.7,378.9 633.5,378.7 634.4,378.5 635.2,378.3 636.1,378.2 637.0,378.0 637.8,377.9 638.7,377.8 639.5,377.7 640.4,377.6 641.3,377.5 642.1,377.4 643.0,377.3 643.8,377.3 644.7,377.2 645.6,377.1 646.4,377.0 647.3,377.0 648.1,376.9 649.0,376.9 649.9,376.8 650.7,376.8 651.6,376.7 652.4,376.6 653.3,376.6 654.2,376.6 655.0,376.5 655.9,376.5 656.7,376.4 657.6,376.4 658.5,376.3 659.3,376.3 660.2,376.3 661.0,376.2 661.9,376.2 662.8,376.2 663.6,376.1 664.5,376.1 665.3,376.1 666.2,376.0 667.1,376.0 667.9,375.9 668.8,375.9 669.6,375.9 670.5,375.8" fill="none" stroke="#111" stroke-width="0.8" stroke-linejoin="round"/>
<polyline points="541.5,372.3 542.4,372.0 543.2,371.7 544.1,371.4 544.9,371.0 545.8,370.7 546.7,370.3 547.5,369.9 548.4,369.5 549.2,369.0 550.1,368.6 551.0,368.1 551.8,367.7 552.7,367.2 553.5,366.7 554.4,366.2 555.3,365.8 556.1,365.3 557.0,364.8 557.8,364.3 558.7,363.8 559.6,363.3 560.4,362.9 561.3,362.4 562.1,362.0 563.0,361.6 563.9,361.2 564.7,360.8 565.6,360.4 566.4,360.1 567.3,359.8 568.2,359.6 569.0,359.3 569.9,359.1 570.7,359.0 571.6,358.8 572.5,358.7 573.3,358.7 574.2,358.7 575.0,358.8 575.9,358.9 576.8,359.2 577.6,359.6 578.5,360.1 579.3,360.7 580.2,361.4 581.1,362.2 581.9,363.1 582.8,364.1 583.6,365.2 584.5,366.4 585.4,367.7 586.2,369.1 587.1,370.6 587.9,372.2 588.8,374.0 589.7,375.8 590.5,377.7 591.4,379.7 592.2,381.7 593.1,383.8 594.0,386.0 594.8,388.1 595.7,390.1 596.5,392.1 597.4,393.9 598.3,395.6 599.1,397.0 600.0,398.2 600.8,399.1 601.7,399.7 602.6,400.0 603.4,399.8 604.3,399.4 605.1,399.0 606.0,398.4 606.9,397.8 607.7,397.1 608.6,396.3 609.4,395.4 610.3,394.5 611.2,393.6 612.0,392.6 612.9,391.6 613.7,390.7 614.6,389.7 615.5,388.7 616.3,387.8 617.2,386.9 618.0,386.0 618.9,385.2 619.8,384.5 620.6,383.7 621.5,383.1 622.3,382.4 623.2,381.9 624.1,381.4 624.9,380.9 625.8,380.4 626.6,380.1 627.5,379.7 628.4,379.4 629.2,379.1 630.1,378.9 630.9,378.6 631.8,378.4 632.7,378.2 633.5,378.1 634.4,377.9 635.2,377.8 636.1,377.7 637.0,377.6 637.8,377.5 638.7,377.4 639.5,377.3 640.4,377.2 641.3,377.1 642.1,377.1 643.0,377.0 643.8,376.9 644.7,376.9 645.6,376.8 646.4,376.8 647.3,376.7 648.1,376.7 649.0,376.6 649.9,376.6 650.7,376.5 651.6,376.5 652.4,376.5 653.3,376.4 654.2,376.4 655.0,376.4 655.9,376.3 656.7,376.3 657.6,376.3 658.5,376.2 659.3,376.2 660.2,376.2 661.0,376.1 661.9,376.1 662.8,376.1 663.6,376.0 664.5,376.0 665.3,376.0 666.2,376.0 667.1,375.9 667.9,375.9 668.8,375.9 669.6,375.8 670.5,375.8" fill="none" stroke="#111" stroke-width="0.8" stroke-linejoin="round"/>
<polyline points="541.5,373.7 542.4,373.5 543.2,373.3 544.1,373.1 544.9,372.9 545.8,372.7 546.7,372.5 547.5,372.2 548.4,372.0 549.2,371.7 550.1,371.5 551.0,371.2 551.8,370.9 552.7,370.6 553.5,370.3 554.4,370.0 555.3,369.8 556.1,369.5 557.0,369.2 557.8,368.9 558.7,368.6 559.6,368.3 560.4,368.0 561.3,367.8 562.1,367.5 563.0,367.2 563.9,367.0 564.7,366.8 565.6,366.6 566.4,366.4 567.3,366.2 568.2,366.0 569.0,365.9 569.9,365.8 570.7,365.7 571.6,365.6 572.5,365.5 573.3,365.5 574.2,365.5 575.0,365.6 575.9,365.7 576.8,365.8 577.6,366.1 578.5,366.4 579.3,366.7 580.2,367.1 581.1,367.6 581.9,368.1 582.8,368.7 583.6,369.3 584.5,370.0 585.4,370.8 586.2,371.6 587.1,372.4 587.9,373.4 588.8,374.3 589.7,375.4 590.5,376.4 591.4,377.5 592.2,378.7 593.1,379.9 594.0,381.0 594.8,382.2 595.7,383.3 596.5,384.4 597.4,385.4 598.3,386.3 599.1,387.1 600.0,387.8 600.8,388.3 601.7,388.6 602.6,388.8 603.4,388.7 604.3,388.5 605.1,388.2 606.0,388.0 606.9,387.6 607.7,387.2 608.6,386.8 609.4,386.3 610.3,385.9 611.2,385.4 612.0,384.8 612.9,384.3 613.7,383.8 614.6,383.3 615.5,382.7 616.3,382.2 617.2,381.8 618.0,381.3 618.9,380.9 619.8,380.4 620.6,380.1 621.5,379.7 622.3,379.4 623.2,379.1 624.1,378.8 624.9,378.5 625.8,378.3 626.6,378.1 627.5,377.9 628.4,377.7 629.2,377.6 630.1,377.4 630.9,377.3 631.8,377.2 632.7,377.1 633.5,377.0 634.4,376.9 635.2,376.9 636.1,376.8 637.0,376.7 637.8,376.7 638.7,376.6 639.5,376.6 640.4,376.5 641.3,376.5 642.1,376.5 643.0,376.4 643.8,376.4 644.7,376.4 645.6,376.3 646.4,376.3 647.3,376.3 648.1,376.3 649.0,376.2 649.9,376.2 650.7,376.2 651.6,376.2 652.4,376.1 653.3,376.1 654.2,376.1 655.0,376.1 655.9,376.1 656.7,376.0 657.6,376.0 658.5,376.0 659.3,376.0 660.2,376.0 661.0,376.0 661.9,375.9 662.8,375.9 663.6,375.9 664.5,375.9 665.3,375.9 666.2,375.9 667.1,375.8 667.9,375.8 668.8,375.8 669.6,375.8 670.5,375.8" fill="none" stroke="#111" stroke-width="0.8" stroke-linejoin="round"/>
<path d="M538.30 333.00H541.50" stroke="#000" stroke-width="1"/>
<text x="537.10" y="335.40" font-size="6.6" font-weight="normal" text-anchor="end">0.04</text>
<path d="M538.30 354.38H541.50" stroke="#000" stroke-width="1"/>
<text x="537.10" y="356.77" font-size="6.6" font-weight="normal" text-anchor="end">0.02</text>
<path d="M538.30 375.75H541.50" stroke="#000" stroke-width="1"/>
<text x="537.10" y="378.15" font-size="6.6" font-weight="normal" text-anchor="end">0.00</text>
<path d="M538.30 397.12H541.50" stroke="#000" stroke-width="1"/>
<text x="537.10" y="399.52" font-size="6.6" font-weight="normal" text-anchor="end">-0.02</text>
<path d="M538.30 418.50H541.50" stroke="#000" stroke-width="1"/>
<text x="537.10" y="420.90" font-size="6.6" font-weight="normal" text-anchor="end">-0.04</text>
<path d="M541.50 418.50V421.70" stroke="#000" stroke-width="1"/>
<text x="541.50" y="429.00" font-size="6.6" font-weight="normal" text-anchor="middle">350</text>
<path d="M563.00 418.50V421.70" stroke="#000" stroke-width="1"/>
<text x="563.00" y="429.00" font-size="6.6" font-weight="normal" text-anchor="middle">375</text>
<path d="M584.50 418.50V421.70" stroke="#000" stroke-width="1"/>
<text x="584.50" y="429.00" font-size="6.6" font-weight="normal" text-anchor="middle">400</text>
<path d="M606.00 418.50V421.70" stroke="#000" stroke-width="1"/>
<text x="606.00" y="429.00" font-size="6.6" font-weight="normal" text-anchor="middle">425</text>
<path d="M627.50 418.50V421.70" stroke="#000" stroke-width="1"/>
<text x="627.50" y="429.00" font-size="6.6" font-weight="normal" text-anchor="middle">450</text>
<path d="M649.00 418.50V421.70" stroke="#000" stroke-width="1"/>
<text x="649.00" y="429.00" font-size="6.6" font-weight="normal" text-anchor="middle">475</text>
<path d="M670.50 418.50V421.70" stroke="#000" stroke-width="1"/>
<text x="670.50" y="429.00" font-size="6.6" font-weight="normal" text-anchor="middle">500</text>
<text x="606.00" y="440.60" font-size="7" font-weight="normal" text-anchor="middle">Wavelength (nm)</text>
<text transform="translate(518.46 375.75) rotate(-90)" font-size="7" text-anchor="middle">Absorbance</text>
<text x="5.20" y="523.30" font-size="24" font-weight="bold" text-anchor="start">E</text>
<path d="M63.80 533.00H70.80V703.30H326.20V710.30" fill="none" stroke="#000" stroke-width="1.7"/>
<path d="M63.80 703.30H70.80" stroke="#000" stroke-width="1.7"/>
<text x="61.90" y="708.05" font-size="13" font-weight="bold" text-anchor="end">0.00</text>
<path d="M63.80 660.72H70.80" stroke="#000" stroke-width="1.7"/>
<text x="61.90" y="665.47" font-size="13" font-weight="bold" text-anchor="end">0.02</text>
<path d="M63.80 618.15H70.80" stroke="#000" stroke-width="1.7"/>
<text x="61.90" y="622.90" font-size="13" font-weight="bold" text-anchor="end">0.04</text>
<path d="M63.80 575.58H70.80" stroke="#000" stroke-width="1.7"/>
<text x="61.90" y="580.33" font-size="13" font-weight="bold" text-anchor="end">0.06</text>
<path d="M63.80 533.00H70.80" stroke="#000" stroke-width="1.7"/>
<text x="61.90" y="537.75" font-size="13" font-weight="bold" text-anchor="end">0.08</text>
<path d="M70.80 703.30V710.30" stroke="#000" stroke-width="1.7"/>
<text x="70.80" y="724.10" font-size="13" font-weight="bold" text-anchor="middle">0.0</text>
<path d="M113.37 703.30V710.30" stroke="#000" stroke-width="1.7"/>
<text x="113.37" y="724.10" font-size="13" font-weight="bold" text-anchor="middle">0.5</text>
<path d="M155.93 703.30V710.30" stroke="#000" stroke-width="1.7"/>
<text x="155.93" y="724.10" font-size="13" font-weight="bold" text-anchor="middle">1.0</text>
<path d="M198.50 703.30V710.30" stroke="#000" stroke-width="1.7"/>
<text x="198.50" y="724.10" font-size="13" font-weight="bold" text-anchor="middle">1.5</text>
<path d="M241.07 703.30V710.30" stroke="#000" stroke-width="1.7"/>
<text x="241.07" y="724.10" font-size="13" font-weight="bold" text-anchor="middle">2.0</text>
<path d="M283.63 703.30V710.30" stroke="#000" stroke-width="1.7"/>
<text x="283.63" y="724.10" font-size="13" font-weight="bold" text-anchor="middle">2.5</text>
<path d="M326.20 703.30V710.30" stroke="#000" stroke-width="1.7"/>
<text x="326.20" y="724.10" font-size="13" font-weight="bold" text-anchor="middle">3.0</text>
<text transform="translate(29.00 617.35) rotate(-90)" font-size="14" font-weight="bold" text-anchor="middle"><tspan font-weight="normal">Δ</tspan> Absorbance</text>
<text x="198.50" y="746.30" font-size="14" font-weight="bold" text-anchor="middle">Stearic acid (<tspan font-weight="normal">μ</tspan>M)</text>
<polyline points="70.80,703.30 70.81,703.26 70.83,703.15 70.86,702.96 70.90,702.69 70.96,702.35 71.03,701.93 71.11,701.44 71.21,700.88 71.32,700.25 71.44,699.55 71.57,698.79 71.72,697.96 71.88,697.06 72.05,696.11 72.24,695.10 72.43,694.03 72.65,692.91 72.87,691.74 73.10,690.52 73.35,689.25 73.62,687.95 73.89,686.60 74.18,685.21 74.48,683.80 74.79,682.34 75.12,680.86 75.45,679.36 75.81,677.83 76.17,676.28 76.55,674.70 76.94,673.12 77.34,671.51 77.75,669.90 78.18,668.28 78.62,666.65 79.07,665.01 79.54,663.37 80.02,661.73 80.51,660.08 81.02,658.44 81.53,656.80 82.06,655.17 82.61,653.54 83.16,651.92 83.73,650.31 84.31,648.71 84.90,647.12 85.51,645.54 86.13,643.97 86.76,642.42 87.41,640.88 88.07,639.35 88.74,637.84 89.42,636.35 90.11,634.87 90.82,633.41 91.54,631.97 92.28,630.55 93.03,629.14 93.79,627.75 94.56,626.39 95.34,625.04 96.14,623.70 96.95,622.39 97.78,621.10 98.61,619.83 99.46,618.57 100.32,617.34 101.20,616.12 102.09,614.92 102.99,613.74 103.90,612.58 104.83,611.44 105.76,610.32 106.72,609.22 107.68,608.13 108.66,607.07 109.65,606.02 110.65,604.98 111.66,603.97 112.69,602.97 113.73,602.00 114.79,601.03 115.85,600.09 116.93,599.16 118.02,598.24 119.13,597.35 120.25,596.47 121.38,595.60 122.52,594.75 123.67,593.91 124.84,593.09 126.02,592.29 127.22,591.49 128.42,590.72 129.64,589.95 130.88,589.20 132.12,588.46 133.38,587.74 134.65,587.03 135.93,586.33 137.23,585.64 138.54,584.97 139.86,584.31 141.19,583.66 142.54,583.02 143.90,582.39 145.27,581.77 146.66,581.17 148.06,580.57 149.47,579.98 150.89,579.41 152.33,578.84 153.78,578.29 155.24,577.74 156.72,577.21 158.20,576.68 159.70,576.16 161.22,575.66 162.74,575.16 164.28,574.66 165.83,574.18 167.40,573.71 168.98,573.24 170.57,572.78 172.17,572.33 173.78,571.89 175.41,571.45 177.05,571.02 178.71,570.60 180.37,570.19 182.05,569.78 183.74,569.38 185.45,568.98 187.17,568.59 188.90,568.21 190.64,567.84 192.40,567.47 194.16,567.10 195.95,566.75 197.74,566.40 199.55,566.05 201.37,565.71 203.20,565.37 205.04,565.04 206.90,564.72 208.77,564.40 210.66,564.09 212.55,563.78 214.46,563.47 216.38,563.17 218.32,562.88 220.27,562.59 222.23,562.30 224.20,562.02 226.19,561.74 228.18,561.47 230.20,561.20 232.22,560.93 234.26,560.67 236.31,560.42 238.37,560.16 240.44,559.91 242.53,559.67 244.63,559.43 246.75,559.19 248.87,558.95 251.01,558.72 253.16,558.49 255.33,558.27 257.50,558.05 259.69,557.83 261.90,557.61 264.11,557.40 266.34,557.19 268.58,556.98 270.84,556.78 273.10,556.58 275.38,556.38 277.67,556.19 279.98,556.00 282.30,555.81 284.63,555.62 286.97,555.43 289.33,555.25 291.70,555.07 294.08,554.90 296.47,554.72 298.88,554.55 301.30,554.38 303.73,554.21 306.18,554.05 308.63,553.88 311.11,553.72 313.59,553.56 316.09,553.41 318.60,553.25 321.12,553.10 323.65,552.95 326.20,552.80" fill="none" stroke="#000" stroke-width="1.1"/>
<path d="M81.44 644.76V664.34M78.04 644.76H84.84M78.04 664.34H84.84" stroke="#000" stroke-width="1.1" fill="none"/>
<path d="M92.08 638.59V658.60M88.68 638.59H95.48M88.68 658.60H95.48" stroke="#000" stroke-width="1.1" fill="none"/>
<path d="M113.37 595.59V616.45M109.97 595.59H116.77M109.97 616.45H116.77" stroke="#000" stroke-width="1.1" fill="none"/>
<path d="M134.65 563.02V587.28M131.25 563.02H138.05M131.25 587.28H138.05" stroke="#000" stroke-width="1.1" fill="none"/>
<path d="M155.93 551.95V580.47M152.53 551.95H159.33M152.53 580.47H159.33" stroke="#000" stroke-width="1.1" fill="none"/>
<path d="M241.07 543.01V576.21M237.67 543.01H244.47M237.67 576.21H244.47" stroke="#000" stroke-width="1.1" fill="none"/>
<path d="M326.20 545.77V581.11M322.80 545.77H329.60M322.80 581.11H329.60" stroke="#000" stroke-width="1.1" fill="none"/>
<circle cx="70.80" cy="703.30" r="3.5"/>
<circle cx="76.12" cy="673.16" r="3.5"/>
<circle cx="81.44" cy="654.55" r="3.5"/>
<circle cx="92.08" cy="648.59" r="3.5"/>
<circle cx="113.37" cy="606.02" r="3.5"/>
<circle cx="134.65" cy="575.15" r="3.5"/>
<circle cx="155.93" cy="566.21" r="3.5"/>
<circle cx="241.07" cy="559.61" r="3.5"/>
<circle cx="326.20" cy="563.44" r="3.5"/>
<rect x="187.50" y="590.30" width="128.90" height="85.90" fill="#fff" stroke="#1a1a1a" stroke-width="1.2"/>
<path d="M187.50 633.25H316.40" stroke="#b0b0b0" stroke-width="0.9"/>
<polyline points="187.5,612.8 188.4,612.3 189.2,611.7 190.1,611.2 190.9,610.7 191.8,610.2 192.7,609.6 193.5,609.1 194.4,608.6 195.2,608.1 196.1,607.6 197.0,607.1 197.8,606.6 198.7,606.1 199.5,605.7 200.4,605.2 201.2,604.8 202.1,604.3 203.0,603.9 203.8,603.5 204.7,603.1 205.5,602.8 206.4,602.4 207.3,602.1 208.1,601.8 209.0,601.5 209.8,601.2 210.7,600.9 211.6,600.7 212.4,600.5 213.3,600.3 214.1,600.1 215.0,599.9 215.9,599.8 216.7,599.7 217.6,599.6 218.4,599.6 219.3,599.6 220.2,599.6 221.0,599.7 221.9,600.0 222.7,600.6 223.6,601.3 224.5,602.3 225.3,603.4 226.2,604.8 227.0,606.4 227.9,608.1 228.7,610.0 229.6,612.1 230.5,614.3 231.3,616.7 232.2,619.2 233.0,621.8 233.9,624.5 234.8,627.4 235.6,630.3 236.5,633.2 237.3,636.2 238.2,639.2 239.1,642.2 239.9,645.1 240.8,647.9 241.6,650.6 242.5,653.1 243.4,655.4 244.2,657.4 245.1,659.2 245.9,660.7 246.8,661.8 247.7,662.6 248.5,663.1 249.4,663.1 250.2,663.0 251.1,662.6 251.9,662.0 252.8,661.2 253.7,660.3 254.5,659.2 255.4,658.0 256.2,656.7 257.1,655.3 258.0,653.9 258.8,652.5 259.7,651.0 260.5,649.6 261.4,648.2 262.3,646.8 263.1,645.4 264.0,644.2 264.8,643.0 265.7,641.9 266.6,640.8 267.4,639.9 268.3,639.0 269.1,638.2 270.0,637.5 270.9,636.8 271.7,636.2 272.6,635.7 273.4,635.2 274.3,634.7 275.2,634.3 276.0,633.9 276.9,633.5 277.7,633.2 278.6,632.9 279.4,632.7 280.3,632.5 281.2,632.3 282.0,632.2 282.9,632.1 283.7,632.1 284.6,632.1 285.5,632.1 286.3,632.2 287.2,632.3 288.0,632.4 288.9,632.5 289.8,632.6 290.6,632.7 291.5,632.8 292.3,632.9 293.2,633.0 294.1,633.1 294.9,633.2 295.8,633.2 296.6,633.2 297.5,633.3 298.4,633.3 299.2,633.3 300.1,633.3 300.9,633.3 301.8,633.3 302.7,633.3 303.5,633.3 304.4,633.3 305.2,633.3 306.1,633.3 306.9,633.3 307.8,633.3 308.7,633.3 309.5,633.3 310.4,633.3 311.2,633.3 312.1,633.3 313.0,633.3 313.8,633.3 314.7,633.3 315.5,633.3 316.4,633.2" fill="none" stroke="#111" stroke-width="0.8" stroke-linejoin="round"/>
<polyline points="187.5,617.4 188.4,616.8 189.2,616.2 190.1,615.6 190.9,615.0 191.8,614.4 192.7,613.8 193.5,613.2 194.4,612.7 195.2,612.1 196.1,611.5 197.0,610.9 197.8,610.3 198.7,609.8 199.5,609.2 200.4,608.7 201.2,608.1 202.1,607.6 203.0,607.1 203.8,606.6 204.7,606.1 205.5,605.7 206.4,605.2 207.3,604.8 208.1,604.4 209.0,604.0 209.8,603.7 210.7,603.3 211.6,603.0 212.4,602.7 213.3,602.5 214.1,602.3 215.0,602.1 215.9,601.9 216.7,601.8 217.6,601.7 218.4,601.6 219.3,601.6 220.2,601.6 221.0,601.7 221.9,602.0 222.7,602.5 223.6,603.2 224.5,604.1 225.3,605.2 226.2,606.5 227.0,608.0 227.9,609.6 228.7,611.4 229.6,613.4 230.5,615.5 231.3,617.8 232.2,620.1 233.0,622.6 233.9,625.2 234.8,627.9 235.6,630.6 236.5,633.4 237.3,636.3 238.2,639.1 239.1,641.9 239.9,644.7 240.8,647.4 241.6,649.9 242.5,652.3 243.4,654.5 244.2,656.5 245.1,658.2 245.9,659.6 246.8,660.7 247.7,661.5 248.5,661.9 249.4,661.9 250.2,661.7 251.1,661.4 251.9,660.8 252.8,660.0 253.7,659.2 254.5,658.1 255.4,657.0 256.2,655.7 257.1,654.4 258.0,653.1 258.8,651.7 259.7,650.3 260.5,648.9 261.4,647.5 262.3,646.2 263.1,644.9 264.0,643.7 264.8,642.6 265.7,641.5 266.6,640.5 267.4,639.6 268.3,638.8 269.1,638.0 270.0,637.3 270.9,636.7 271.7,636.1 272.6,635.6 273.4,635.1 274.3,634.6 275.2,634.2 276.0,633.9 276.9,633.5 277.7,633.2 278.6,633.0 279.4,632.7 280.3,632.5 281.2,632.4 282.0,632.2 282.9,632.2 283.7,632.1 284.6,632.1 285.5,632.2 286.3,632.2 287.2,632.3 288.0,632.4 288.9,632.5 289.8,632.6 290.6,632.8 291.5,632.9 292.3,632.9 293.2,633.0 294.1,633.1 294.9,633.2 295.8,633.2 296.6,633.2 297.5,633.3 298.4,633.3 299.2,633.3 300.1,633.3 300.9,633.3 301.8,633.3 302.7,633.3 303.5,633.3 304.4,633.3 305.2,633.3 306.1,633.3 306.9,633.3 307.8,633.3 308.7,633.3 309.5,633.3 310.4,633.3 311.2,633.3 312.1,633.3 313.0,633.3 313.8,633.3 314.7,633.3 315.5,633.3 316.4,633.2" fill="none" stroke="#111" stroke-width="0.8" stroke-linejoin="round"/>
<polyline points="187.5,625.8 188.4,625.2 189.2,624.7 190.1,624.1 190.9,623.5 191.8,622.9 192.7,622.2 193.5,621.6 194.4,620.9 195.2,620.2 196.1,619.5 197.0,618.8 197.8,618.0 198.7,617.3 199.5,616.6 200.4,615.8 201.2,615.1 202.1,614.3 203.0,613.6 203.8,612.9 204.7,612.1 205.5,611.4 206.4,610.8 207.3,610.1 208.1,609.5 209.0,608.8 209.8,608.3 210.7,607.7 211.6,607.2 212.4,606.7 213.3,606.3 214.1,605.9 215.0,605.6 215.9,605.3 216.7,605.1 217.6,604.9 218.4,604.8 219.3,604.7 220.2,604.7 221.0,604.8 221.9,605.0 222.7,605.5 223.6,606.1 224.5,607.0 225.3,608.0 226.2,609.2 227.0,610.5 227.9,612.0 228.7,613.6 229.6,615.4 230.5,617.4 231.3,619.4 232.2,621.6 233.0,623.9 233.9,626.3 234.8,628.8 235.6,631.3 236.5,633.9 237.3,636.6 238.2,639.2 239.1,641.8 239.9,644.4 240.8,646.9 241.6,649.3 242.5,651.5 243.4,653.6 244.2,655.4 245.1,657.0 245.9,658.3 246.8,659.3 247.7,660.1 248.5,660.5 249.4,660.5 250.2,660.3 251.1,659.9 251.9,659.4 252.8,658.7 253.7,657.8 254.5,656.8 255.4,655.7 256.2,654.6 257.1,653.3 258.0,652.0 258.8,650.7 259.7,649.4 260.5,648.1 261.4,646.8 262.3,645.5 263.1,644.3 264.0,643.2 264.8,642.1 265.7,641.1 266.6,640.2 267.4,639.3 268.3,638.5 269.1,637.8 270.0,637.1 270.9,636.5 271.7,635.9 272.6,635.4 273.4,635.0 274.3,634.6 275.2,634.2 276.0,633.8 276.9,633.5 277.7,633.2 278.6,633.0 279.4,632.7 280.3,632.6 281.2,632.4 282.0,632.3 282.9,632.2 283.7,632.2 284.6,632.2 285.5,632.2 286.3,632.3 287.2,632.4 288.0,632.5 288.9,632.6 289.8,632.7 290.6,632.8 291.5,632.9 292.3,633.0 293.2,633.0 294.1,633.1 294.9,633.2 295.8,633.2 296.6,633.2 297.5,633.3 298.4,633.3 299.2,633.3 300.1,633.3 300.9,633.3 301.8,633.3 302.7,633.3 303.5,633.3 304.4,633.3 305.2,633.3 306.1,633.3 306.9,633.3 307.8,633.3 308.7,633.3 309.5,633.3 310.4,633.3 311.2,633.3 312.1,633.3 313.0,633.3 313.8,633.3 314.7,633.3 315.5,633.3 316.4,633.2" fill="none" stroke="#111" stroke-width="0.8" stroke-linejoin="round"/>
<polyline points="187.5,626.0 188.4,625.5 189.2,624.9 190.1,624.4 190.9,623.8 191.8,623.2 192.7,622.5 193.5,621.9 194.4,621.2 195.2,620.6 196.1,619.9 197.0,619.2 197.8,618.5 198.7,617.7 199.5,617.0 200.4,616.3 201.2,615.6 202.1,614.8 203.0,614.1 203.8,613.4 204.7,612.7 205.5,612.0 206.4,611.4 207.3,610.7 208.1,610.1 209.0,609.5 209.8,609.0 210.7,608.4 211.6,607.9 212.4,607.5 213.3,607.1 214.1,606.7 215.0,606.3 215.9,606.1 216.7,605.8 217.6,605.7 218.4,605.5 219.3,605.5 220.2,605.5 221.0,605.6 221.9,605.8 222.7,606.3 223.6,606.9 224.5,607.7 225.3,608.6 226.2,609.8 227.0,611.1 227.9,612.5 228.7,614.1 229.6,615.9 230.5,617.7 231.3,619.7 232.2,621.8 233.0,624.0 233.9,626.3 234.8,628.7 235.6,631.2 236.5,633.6 237.3,636.2 238.2,638.7 239.1,641.2 239.9,643.7 240.8,646.1 241.6,648.4 242.5,650.5 243.4,652.5 244.2,654.2 245.1,655.7 245.9,657.0 246.8,658.0 247.7,658.6 248.5,659.0 249.4,659.0 250.2,658.9 251.1,658.5 251.9,658.0 252.8,657.3 253.7,656.5 254.5,655.6 255.4,654.6 256.2,653.5 257.1,652.3 258.0,651.1 258.8,649.8 259.7,648.6 260.5,647.3 261.4,646.1 262.3,644.9 263.1,643.8 264.0,642.7 264.8,641.6 265.7,640.7 266.6,639.8 267.4,639.0 268.3,638.2 269.1,637.5 270.0,636.9 270.9,636.3 271.7,635.8 272.6,635.3 273.4,634.9 274.3,634.5 275.2,634.1 276.0,633.8 276.9,633.5 277.7,633.2 278.6,633.0 279.4,632.8 280.3,632.6 281.2,632.5 282.0,632.3 282.9,632.3 283.7,632.3 284.6,632.3 285.5,632.3 286.3,632.3 287.2,632.4 288.0,632.5 288.9,632.6 289.8,632.7 290.6,632.8 291.5,632.9 292.3,633.0 293.2,633.1 294.1,633.1 294.9,633.2 295.8,633.2 296.6,633.2 297.5,633.3 298.4,633.3 299.2,633.3 300.1,633.3 300.9,633.3 301.8,633.3 302.7,633.3 303.5,633.3 304.4,633.3 305.2,633.3 306.1,633.3 306.9,633.3 307.8,633.3 308.7,633.3 309.5,633.3 310.4,633.3 311.2,633.3 312.1,633.3 313.0,633.3 313.8,633.3 314.7,633.3 315.5,633.3 316.4,633.2" fill="none" stroke="#111" stroke-width="0.8" stroke-linejoin="round"/>
<polyline points="187.5,627.0 188.4,626.5 189.2,626.0 190.1,625.4 190.9,624.9 191.8,624.3 192.7,623.7 193.5,623.1 194.4,622.5 195.2,621.9 196.1,621.2 197.0,620.5 197.8,619.8 198.7,619.2 199.5,618.5 200.4,617.7 201.2,617.0 202.1,616.3 203.0,615.6 203.8,614.9 204.7,614.3 205.5,613.6 206.4,612.9 207.3,612.3 208.1,611.7 209.0,611.1 209.8,610.5 210.7,610.0 211.6,609.5 212.4,609.0 213.3,608.6 214.1,608.3 215.0,607.9 215.9,607.6 216.7,607.4 217.6,607.2 218.4,607.1 219.3,607.0 220.2,607.0 221.0,607.1 221.9,607.4 222.7,607.8 223.6,608.4 224.5,609.1 225.3,610.0 226.2,611.1 227.0,612.3 227.9,613.7 228.7,615.2 229.6,616.8 230.5,618.5 231.3,620.4 232.2,622.4 233.0,624.4 233.9,626.6 234.8,628.8 235.6,631.0 236.5,633.4 237.3,635.7 238.2,638.1 239.1,640.4 239.9,642.7 240.8,644.9 241.6,647.0 242.5,649.0 243.4,650.8 244.2,652.4 245.1,653.8 245.9,655.0 246.8,655.9 247.7,656.5 248.5,656.9 249.4,656.9 250.2,656.7 251.1,656.4 251.9,656.0 252.8,655.4 253.7,654.6 254.5,653.8 255.4,652.8 256.2,651.8 257.1,650.7 258.0,649.6 258.8,648.5 259.7,647.3 260.5,646.2 261.4,645.0 262.3,643.9 263.1,642.9 264.0,641.9 264.8,641.0 265.7,640.1 266.6,639.3 267.4,638.5 268.3,637.8 269.1,637.2 270.0,636.6 270.9,636.1 271.7,635.6 272.6,635.2 273.4,634.8 274.3,634.4 275.2,634.1 276.0,633.8 276.9,633.5 277.7,633.2 278.6,633.0 279.4,632.8 280.3,632.6 281.2,632.5 282.0,632.4 282.9,632.4 283.7,632.3 284.6,632.3 285.5,632.4 286.3,632.4 287.2,632.5 288.0,632.6 288.9,632.7 289.8,632.7 290.6,632.8 291.5,632.9 292.3,633.0 293.2,633.1 294.1,633.1 294.9,633.2 295.8,633.2 296.6,633.2 297.5,633.3 298.4,633.3 299.2,633.3 300.1,633.3 300.9,633.3 301.8,633.3 302.7,633.3 303.5,633.3 304.4,633.3 305.2,633.3 306.1,633.3 306.9,633.3 307.8,633.3 308.7,633.3 309.5,633.3 310.4,633.3 311.2,633.3 312.1,633.3 313.0,633.3 313.8,633.3 314.7,633.3 315.5,633.3 316.4,633.2" fill="none" stroke="#111" stroke-width="0.8" stroke-linejoin="round"/>
<polyline points="187.5,627.3 188.4,626.9 189.2,626.4 190.1,625.9 190.9,625.4 191.8,624.9 192.7,624.3 193.5,623.7 194.4,623.1 195.2,622.5 196.1,621.9 197.0,621.3 197.8,620.6 198.7,620.0 199.5,619.3 200.4,618.7 201.2,618.0 202.1,617.3 203.0,616.7 203.8,616.0 204.7,615.4 205.5,614.8 206.4,614.1 207.3,613.5 208.1,613.0 209.0,612.4 209.8,611.9 210.7,611.4 211.6,610.9 212.4,610.5 213.3,610.1 214.1,609.7 215.0,609.4 215.9,609.2 216.7,609.0 217.6,608.8 218.4,608.7 219.3,608.6 220.2,608.6 221.0,608.7 221.9,608.9 222.7,609.3 223.6,609.8 224.5,610.5 225.3,611.4 226.2,612.4 227.0,613.5 227.9,614.8 228.7,616.2 229.6,617.7 230.5,619.3 231.3,621.1 232.2,622.9 233.0,624.8 233.9,626.8 234.8,628.8 235.6,630.9 236.5,633.1 237.3,635.2 238.2,637.4 239.1,639.6 239.9,641.7 240.8,643.7 241.6,645.6 242.5,647.5 243.4,649.1 244.2,650.6 245.1,651.9 245.9,653.0 246.8,653.8 247.7,654.4 248.5,654.7 249.4,654.8 250.2,654.6 251.1,654.3 251.9,653.9 252.8,653.4 253.7,652.7 254.5,651.9 255.4,651.1 256.2,650.1 257.1,649.2 258.0,648.1 258.8,647.1 259.7,646.0 260.5,645.0 261.4,644.0 262.3,643.0 263.1,642.0 264.0,641.1 264.8,640.3 265.7,639.5 266.6,638.7 267.4,638.0 268.3,637.4 269.1,636.8 270.0,636.3 270.9,635.8 271.7,635.4 272.6,635.0 273.4,634.6 274.3,634.3 275.2,634.0 276.0,633.7 276.9,633.5 277.7,633.2 278.6,633.0 279.4,632.9 280.3,632.7 281.2,632.6 282.0,632.5 282.9,632.4 283.7,632.4 284.6,632.4 285.5,632.4 286.3,632.5 287.2,632.6 288.0,632.6 288.9,632.7 289.8,632.8 290.6,632.9 291.5,633.0 292.3,633.0 293.2,633.1 294.1,633.1 294.9,633.2 295.8,633.2 296.6,633.2 297.5,633.3 298.4,633.3 299.2,633.3 300.1,633.3 300.9,633.3 301.8,633.3 302.7,633.3 303.5,633.3 304.4,633.3 305.2,633.3 306.1,633.3 306.9,633.3 307.8,633.3 308.7,633.3 309.5,633.3 310.4,633.3 311.2,633.3 312.1,633.3 313.0,633.3 313.8,633.3 314.7,633.3 315.5,633.3 316.4,633.2" fill="none" stroke="#111" stroke-width="0.8" stroke-linejoin="round"/>
<polyline points="187.5,628.6 188.4,628.2 189.2,627.8 190.1,627.4 190.9,626.9 191.8,626.5 192.7,626.0 193.5,625.5 194.4,625.0 195.2,624.5 196.1,623.9 197.0,623.4 197.8,622.8 198.7,622.2 199.5,621.6 200.4,621.0 201.2,620.5 202.1,619.9 203.0,619.3 203.8,618.7 204.7,618.1 205.5,617.5 206.4,617.0 207.3,616.4 208.1,615.9 209.0,615.4 209.8,614.9 210.7,614.4 211.6,614.0 212.4,613.6 213.3,613.3 214.1,612.9 215.0,612.7 215.9,612.4 216.7,612.2 217.6,612.1 218.4,611.9 219.3,611.9 220.2,611.9 221.0,611.9 221.9,612.1 222.7,612.5 223.6,613.0 224.5,613.6 225.3,614.3 226.2,615.2 227.0,616.2 227.9,617.3 228.7,618.5 229.6,619.8 230.5,621.3 231.3,622.8 232.2,624.4 233.0,626.1 233.9,627.8 234.8,629.6 235.6,631.5 236.5,633.4 237.3,635.3 238.2,637.2 239.1,639.1 239.9,641.0 240.8,642.8 241.6,644.5 242.5,646.1 243.4,647.6 244.2,648.9 245.1,650.1 245.9,651.0 246.8,651.8 247.7,652.3 248.5,652.6 249.4,652.6 250.2,652.5 251.1,652.2 251.9,651.8 252.8,651.3 253.7,650.7 254.5,650.0 255.4,649.3 256.2,648.4 257.1,647.5 258.0,646.6 258.8,645.7 259.7,644.7 260.5,643.8 261.4,642.9 262.3,642.0 263.1,641.1 264.0,640.3 264.8,639.6 265.7,638.8 266.6,638.2 267.4,637.5 268.3,637.0 269.1,636.5 270.0,636.0 270.9,635.6 271.7,635.2 272.6,634.8 273.4,634.5 274.3,634.2 275.2,633.9 276.0,633.7 276.9,633.4 277.7,633.2 278.6,633.0 279.4,632.9 280.3,632.8 281.2,632.7 282.0,632.6 282.9,632.5 283.7,632.5 284.6,632.5 285.5,632.5 286.3,632.6 287.2,632.6 288.0,632.7 288.9,632.8 289.8,632.8 290.6,632.9 291.5,633.0 292.3,633.0 293.2,633.1 294.1,633.1 294.9,633.2 295.8,633.2 296.6,633.2 297.5,633.3 298.4,633.3 299.2,633.3 300.1,633.3 300.9,633.3 301.8,633.3 302.7,633.3 303.5,633.3 304.4,633.3 305.2,633.3 306.1,633.3 306.9,633.3 307.8,633.3 308.7,633.3 309.5,633.3 310.4,633.3 311.2,633.3 312.1,633.3 313.0,633.3 313.8,633.3 314.7,633.3 315.5,633.3 316.4,633.2" fill="none" stroke="#111" stroke-width="0.8" stroke-linejoin="round"/>
<polyline points="187.5,630.2 188.4,629.9 189.2,629.6 190.1,629.4 190.9,629.1 191.8,628.8 192.7,628.4 193.5,628.1 194.4,627.8 195.2,627.4 196.1,627.1 197.0,626.7 197.8,626.3 198.7,625.9 199.5,625.5 200.4,625.2 201.2,624.8 202.1,624.4 203.0,624.0 203.8,623.6 204.7,623.2 205.5,622.8 206.4,622.4 207.3,622.1 208.1,621.7 209.0,621.4 209.8,621.1 210.7,620.8 211.6,620.5 212.4,620.2 213.3,620.0 214.1,619.8 215.0,619.6 215.9,619.4 216.7,619.3 217.6,619.2 218.4,619.1 219.3,619.1 220.2,619.1 221.0,619.1 221.9,619.3 222.7,619.5 223.6,619.8 224.5,620.3 225.3,620.8 226.2,621.4 227.0,622.1 227.9,622.9 228.7,623.7 229.6,624.7 230.5,625.7 231.3,626.8 232.2,628.0 233.0,629.2 233.9,630.5 234.8,631.9 235.6,633.3 236.5,634.7 237.3,636.2 238.2,637.7 239.1,639.2 239.9,640.6 240.8,642.0 241.6,643.4 242.5,644.7 243.4,645.8 244.2,646.9 245.1,647.8 245.9,648.5 246.8,649.1 247.7,649.5 248.5,649.7 249.4,649.7 250.2,649.6 251.1,649.3 251.9,649.0 252.8,648.6 253.7,648.0 254.5,647.4 255.4,646.8 256.2,646.1 257.1,645.3 258.0,644.5 258.8,643.8 259.7,643.0 260.5,642.2 261.4,641.4 262.3,640.6 263.1,639.9 264.0,639.2 264.8,638.6 265.7,638.0 266.6,637.4 267.4,636.9 268.3,636.4 269.1,636.0 270.0,635.6 270.9,635.2 271.7,634.9 272.6,634.6 273.4,634.3 274.3,634.0 275.2,633.8 276.0,633.6 276.9,633.4 277.7,633.2 278.6,633.1 279.4,632.9 280.3,632.8 281.2,632.7 282.0,632.7 282.9,632.6 283.7,632.6 284.6,632.6 285.5,632.6 286.3,632.7 287.2,632.7 288.0,632.8 288.9,632.8 289.8,632.9 290.6,633.0 291.5,633.0 292.3,633.1 293.2,633.1 294.1,633.2 294.9,633.2 295.8,633.2 296.6,633.2 297.5,633.3 298.4,633.3 299.2,633.3 300.1,633.3 300.9,633.3 301.8,633.3 302.7,633.3 303.5,633.3 304.4,633.3 305.2,633.3 306.1,633.3 306.9,633.3 307.8,633.3 308.7,633.3 309.5,633.3 310.4,633.3 311.2,633.3 312.1,633.3 313.0,633.3 313.8,633.3 314.7,633.3 315.5,633.3 316.4,633.2" fill="none" stroke="#111" stroke-width="0.8" stroke-linejoin="round"/>
<polyline points="187.5,631.6 188.4,631.5 189.2,631.3 190.1,631.2 190.9,631.0 191.8,630.8 192.7,630.6 193.5,630.4 194.4,630.2 195.2,630.0 196.1,629.8 197.0,629.6 197.8,629.4 198.7,629.1 199.5,628.9 200.4,628.7 201.2,628.4 202.1,628.2 203.0,628.0 203.8,627.7 204.7,627.5 205.5,627.2 206.4,627.0 207.3,626.8 208.1,626.6 209.0,626.4 209.8,626.2 210.7,626.0 211.6,625.8 212.4,625.6 213.3,625.5 214.1,625.4 215.0,625.2 215.9,625.1 216.7,625.1 217.6,625.0 218.4,625.0 219.3,624.9 220.2,624.9 221.0,625.0 221.9,625.0 222.7,625.2 223.6,625.4 224.5,625.6 225.3,626.0 226.2,626.3 227.0,626.7 227.9,627.2 228.7,627.7 229.6,628.3 230.5,628.9 231.3,629.6 232.2,630.3 233.0,631.1 233.9,631.9 234.8,632.7 235.6,633.6 236.5,634.5 237.3,635.4 238.2,636.4 239.1,637.3 239.9,638.2 240.8,639.1 241.6,640.0 242.5,640.8 243.4,641.5 244.2,642.2 245.1,642.8 245.9,643.2 246.8,643.6 247.7,643.9 248.5,644.0 249.4,644.0 250.2,643.9 251.1,643.7 251.9,643.5 252.8,643.2 253.7,642.9 254.5,642.5 255.4,642.1 256.2,641.6 257.1,641.1 258.0,640.6 258.8,640.1 259.7,639.6 260.5,639.0 261.4,638.5 262.3,638.0 263.1,637.6 264.0,637.1 264.8,636.7 265.7,636.3 266.6,635.9 267.4,635.6 268.3,635.3 269.1,635.0 270.0,634.8 270.9,634.5 271.7,634.3 272.6,634.1 273.4,633.9 274.3,633.8 275.2,633.6 276.0,633.5 276.9,633.4 277.7,633.2 278.6,633.1 279.4,633.1 280.3,633.0 281.2,632.9 282.0,632.9 282.9,632.9 283.7,632.8 284.6,632.8 285.5,632.9 286.3,632.9 287.2,632.9 288.0,632.9 288.9,633.0 289.8,633.0 290.6,633.1 291.5,633.1 292.3,633.1 293.2,633.2 294.1,633.2 294.9,633.2 295.8,633.2 296.6,633.2 297.5,633.3 298.4,633.3 299.2,633.3 300.1,633.3 300.9,633.3 301.8,633.3 302.7,633.3 303.5,633.3 304.4,633.3 305.2,633.3 306.1,633.3 306.9,633.3 307.8,633.3 308.7,633.3 309.5,633.3 310.4,633.3 311.2,633.3 312.1,633.3 313.0,633.3 313.8,633.3 314.7,633.3 315.5,633.3 316.4,633.2" fill="none" stroke="#111" stroke-width="0.8" stroke-linejoin="round"/>
<polyline points="187.5,632.5 188.4,632.4 189.2,632.4 190.1,632.3 190.9,632.2 191.8,632.1 192.7,632.0 193.5,631.9 194.4,631.9 195.2,631.8 196.1,631.7 197.0,631.6 197.8,631.5 198.7,631.4 199.5,631.2 200.4,631.1 201.2,631.0 202.1,630.9 203.0,630.8 203.8,630.7 204.7,630.6 205.5,630.5 206.4,630.4 207.3,630.3 208.1,630.2 209.0,630.1 209.8,630.0 210.7,629.9 211.6,629.8 212.4,629.7 213.3,629.7 214.1,629.6 215.0,629.6 215.9,629.5 216.7,629.5 217.6,629.4 218.4,629.4 219.3,629.4 220.2,629.4 221.0,629.4 221.9,629.5 222.7,629.6 223.6,629.7 224.5,629.8 225.3,629.9 226.2,630.1 227.0,630.3 227.9,630.6 228.7,630.8 229.6,631.1 230.5,631.5 231.3,631.8 232.2,632.2 233.0,632.6 233.9,633.1 234.8,633.5 235.6,634.0 236.5,634.5 237.3,635.1 238.2,635.6 239.1,636.1 239.9,636.7 240.8,637.2 241.6,637.7 242.5,638.2 243.4,638.6 244.2,639.0 245.1,639.4 245.9,639.6 246.8,639.8 247.7,640.0 248.5,640.1 249.4,640.0 250.2,640.0 251.1,639.9 251.9,639.7 252.8,639.5 253.7,639.3 254.5,639.1 255.4,638.8 256.2,638.5 257.1,638.2 258.0,637.9 258.8,637.5 259.7,637.2 260.5,636.9 261.4,636.6 262.3,636.3 263.1,636.0 264.0,635.7 264.8,635.4 265.7,635.2 266.6,634.9 267.4,634.7 268.3,634.5 269.1,634.4 270.0,634.2 270.9,634.0 271.7,633.9 272.6,633.8 273.4,633.7 274.3,633.6 275.2,633.5 276.0,633.4 276.9,633.3 277.7,633.2 278.6,633.2 279.4,633.1 280.3,633.1 281.2,633.0 282.0,633.0 282.9,633.0 283.7,633.0 284.6,633.0 285.5,633.0 286.3,633.0 287.2,633.0 288.0,633.1 288.9,633.1 289.8,633.1 290.6,633.1 291.5,633.2 292.3,633.2 293.2,633.2 294.1,633.2 294.9,633.2 295.8,633.2 296.6,633.2 297.5,633.3 298.4,633.3 299.2,633.3 300.1,633.3 300.9,633.3 301.8,633.3 302.7,633.3 303.5,633.3 304.4,633.3 305.2,633.3 306.1,633.3 306.9,633.3 307.8,633.3 308.7,633.3 309.5,633.3 310.4,633.3 311.2,633.3 312.1,633.3 313.0,633.3 313.8,633.3 314.7,633.3 315.5,633.3 316.4,633.2" fill="none" stroke="#111" stroke-width="0.8" stroke-linejoin="round"/>
<polyline points="187.5,632.9 188.4,632.8 189.2,632.8 190.1,632.8 190.9,632.7 191.8,632.7 192.7,632.6 193.5,632.6 194.4,632.6 195.2,632.5 196.1,632.5 197.0,632.4 197.8,632.4 198.7,632.3 199.5,632.2 200.4,632.2 201.2,632.1 202.1,632.1 203.0,632.0 203.8,632.0 204.7,631.9 205.5,631.9 206.4,631.8 207.3,631.8 208.1,631.7 209.0,631.7 209.8,631.6 210.7,631.6 211.6,631.5 212.4,631.5 213.3,631.5 214.1,631.4 215.0,631.4 215.9,631.4 216.7,631.4 217.6,631.3 218.4,631.3 219.3,631.3 220.2,631.3 221.0,631.3 221.9,631.4 222.7,631.4 223.6,631.5 224.5,631.5 225.3,631.6 226.2,631.7 227.0,631.8 227.9,631.9 228.7,632.1 229.6,632.2 230.5,632.4 231.3,632.6 232.2,632.8 233.0,633.1 233.9,633.3 234.8,633.6 235.6,633.8 236.5,634.1 237.3,634.4 238.2,634.7 239.1,635.0 239.9,635.3 240.8,635.6 241.6,635.9 242.5,636.1 243.4,636.4 244.2,636.6 245.1,636.8 245.9,637.0 246.8,637.1 247.7,637.2 248.5,637.2 249.4,637.2 250.2,637.1 251.1,637.1 251.9,637.0 252.8,636.9 253.7,636.7 254.5,636.6 255.4,636.4 256.2,636.3 257.1,636.1 258.0,635.9 258.8,635.7 259.7,635.5 260.5,635.4 261.4,635.2 262.3,635.0 263.1,634.8 264.0,634.7 264.8,634.5 265.7,634.4 266.6,634.2 267.4,634.1 268.3,634.0 269.1,633.9 270.0,633.8 270.9,633.7 271.7,633.6 272.6,633.6 273.4,633.5 274.3,633.4 275.2,633.4 276.0,633.3 276.9,633.3 277.7,633.2 278.6,633.2 279.4,633.2 280.3,633.2 281.2,633.1 282.0,633.1 282.9,633.1 283.7,633.1 284.6,633.1 285.5,633.1 286.3,633.1 287.2,633.1 288.0,633.1 288.9,633.2 289.8,633.2 290.6,633.2 291.5,633.2 292.3,633.2 293.2,633.2 294.1,633.2 294.9,633.2 295.8,633.2 296.6,633.2 297.5,633.3 298.4,633.3 299.2,633.3 300.1,633.3 300.9,633.3 301.8,633.3 302.7,633.3 303.5,633.3 304.4,633.3 305.2,633.3 306.1,633.3 306.9,633.3 307.8,633.3 308.7,633.3 309.5,633.3 310.4,633.3 311.2,633.3 312.1,633.3 313.0,633.3 313.8,633.3 314.7,633.3 315.5,633.3 316.4,633.2" fill="none" stroke="#111" stroke-width="0.8" stroke-linejoin="round"/>
<polyline points="187.5,633.2 188.4,633.2 189.2,633.2 190.1,633.2 190.9,633.2 191.8,633.2 192.7,633.2 193.5,633.2 194.4,633.1 195.2,633.1 196.1,633.1 197.0,633.1 197.8,633.1 198.7,633.1 199.5,633.1 200.4,633.1 201.2,633.1 202.1,633.1 203.0,633.1 203.8,633.1 204.7,633.1 205.5,633.0 206.4,633.0 207.3,633.0 208.1,633.0 209.0,633.0 209.8,633.0 210.7,633.0 211.6,633.0 212.4,633.0 213.3,633.0 214.1,633.0 215.0,633.0 215.9,633.0 216.7,633.0 217.6,633.0 218.4,633.0 219.3,633.0 220.2,633.0 221.0,633.0 221.9,633.0 222.7,633.0 223.6,633.0 224.5,633.0 225.3,633.0 226.2,633.0 227.0,633.0 227.9,633.1 228.7,633.1 229.6,633.1 230.5,633.1 231.3,633.2 232.2,633.2 233.0,633.2 233.9,633.3 234.8,633.3 235.6,633.3 236.5,633.4 237.3,633.4 238.2,633.5 239.1,633.5 239.9,633.5 240.8,633.6 241.6,633.6 242.5,633.7 243.4,633.7 244.2,633.7 245.1,633.8 245.9,633.8 246.8,633.8 247.7,633.8 248.5,633.8 249.4,633.8 250.2,633.8 251.1,633.8 251.9,633.8 252.8,633.8 253.7,633.8 254.5,633.7 255.4,633.7 256.2,633.7 257.1,633.7 258.0,633.6 258.8,633.6 259.7,633.6 260.5,633.6 261.4,633.5 262.3,633.5 263.1,633.5 264.0,633.5 264.8,633.4 265.7,633.4 266.6,633.4 267.4,633.4 268.3,633.4 269.1,633.3 270.0,633.3 270.9,633.3 271.7,633.3 272.6,633.3 273.4,633.3 274.3,633.3 275.2,633.3 276.0,633.3 276.9,633.3 277.7,633.2 278.6,633.2 279.4,633.2 280.3,633.2 281.2,633.2 282.0,633.2 282.9,633.2 283.7,633.2 284.6,633.2 285.5,633.2 286.3,633.2 287.2,633.2 288.0,633.2 288.9,633.2 289.8,633.2 290.6,633.2 291.5,633.2 292.3,633.2 293.2,633.2 294.1,633.2 294.9,633.2 295.8,633.2 296.6,633.2 297.5,633.3 298.4,633.3 299.2,633.3 300.1,633.3 300.9,633.3 301.8,633.3 302.7,633.3 303.5,633.3 304.4,633.3 305.2,633.3 306.1,633.3 306.9,633.3 307.8,633.3 308.7,633.3 309.5,633.3 310.4,633.3 311.2,633.3 312.1,633.3 313.0,633.3 313.8,633.3 314.7,633.3 315.5,633.3 316.4,633.2" fill="none" stroke="#111" stroke-width="0.8" stroke-linejoin="round"/>
<path d="M184.30 590.30H187.50" stroke="#000" stroke-width="1"/>
<text x="183.10" y="592.70" font-size="6.6" font-weight="normal" text-anchor="end">0.06</text>
<path d="M184.30 604.62H187.50" stroke="#000" stroke-width="1"/>
<text x="183.10" y="607.02" font-size="6.6" font-weight="normal" text-anchor="end">0.04</text>
<path d="M184.30 618.93H187.50" stroke="#000" stroke-width="1"/>
<text x="183.10" y="621.33" font-size="6.6" font-weight="normal" text-anchor="end">0.02</text>
<path d="M184.30 633.25H187.50" stroke="#000" stroke-width="1"/>
<text x="183.10" y="635.65" font-size="6.6" font-weight="normal" text-anchor="end">0.00</text>
<path d="M184.30 647.57H187.50" stroke="#000" stroke-width="1"/>
<text x="183.10" y="649.97" font-size="6.6" font-weight="normal" text-anchor="end">-0.02</text>
<path d="M184.30 661.88H187.50" stroke="#000" stroke-width="1"/>
<text x="183.10" y="664.28" font-size="6.6" font-weight="normal" text-anchor="end">-0.04</text>
<path d="M184.30 676.20H187.50" stroke="#000" stroke-width="1"/>
<text x="183.10" y="678.60" font-size="6.6" font-weight="normal" text-anchor="end">-0.06</text>
<path d="M187.50 676.20V679.40" stroke="#000" stroke-width="1"/>
<text x="187.50" y="686.70" font-size="6.6" font-weight="normal" text-anchor="middle">350</text>
<path d="M208.98 676.20V679.40" stroke="#000" stroke-width="1"/>
<text x="208.98" y="686.70" font-size="6.6" font-weight="normal" text-anchor="middle">375</text>
<path d="M230.47 676.20V679.40" stroke="#000" stroke-width="1"/>
<text x="230.47" y="686.70" font-size="6.6" font-weight="normal" text-anchor="middle">400</text>
<path d="M251.95 676.20V679.40" stroke="#000" stroke-width="1"/>
<text x="251.95" y="686.70" font-size="6.6" font-weight="normal" text-anchor="middle">425</text>
<path d="M273.43 676.20V679.40" stroke="#000" stroke-width="1"/>
<text x="273.43" y="686.70" font-size="6.6" font-weight="normal" text-anchor="middle">450</text>
<path d="M294.92 676.20V679.40" stroke="#000" stroke-width="1"/>
<text x="294.92" y="686.70" font-size="6.6" font-weight="normal" text-anchor="middle">475</text>
<path d="M316.40 676.20V679.40" stroke="#000" stroke-width="1"/>
<text x="316.40" y="686.70" font-size="6.6" font-weight="normal" text-anchor="middle">500</text>
<text x="251.95" y="698.30" font-size="7" font-weight="normal" text-anchor="middle">Wavelength (nm)</text>
<text transform="translate(164.46 633.25) rotate(-90)" font-size="7" text-anchor="middle">Absorbance</text>
<text x="356.00" y="523.30" font-size="24" font-weight="bold" text-anchor="start">F</text>
<path d="M418.20 534.90H425.20V705.40H680.20V712.40" fill="none" stroke="#000" stroke-width="1.7"/>
<path d="M418.20 705.40H425.20" stroke="#000" stroke-width="1.7"/>
<text x="416.30" y="710.15" font-size="13" font-weight="bold" text-anchor="end">0.00</text>
<path d="M418.20 648.57H425.20" stroke="#000" stroke-width="1.7"/>
<text x="416.30" y="653.32" font-size="13" font-weight="bold" text-anchor="end">0.04</text>
<path d="M418.20 591.73H425.20" stroke="#000" stroke-width="1.7"/>
<text x="416.30" y="596.48" font-size="13" font-weight="bold" text-anchor="end">0.08</text>
<path d="M418.20 534.90H425.20" stroke="#000" stroke-width="1.7"/>
<text x="416.30" y="539.65" font-size="13" font-weight="bold" text-anchor="end">0.12</text>
<path d="M420.70 676.98H425.20" stroke="#000" stroke-width="1.7"/>
<path d="M420.70 620.15H425.20" stroke="#000" stroke-width="1.7"/>
<path d="M420.70 563.32H425.20" stroke="#000" stroke-width="1.7"/>
<path d="M425.20 705.40V712.40" stroke="#000" stroke-width="1.7"/>
<text x="425.20" y="726.20" font-size="13" font-weight="bold" text-anchor="middle">0</text>
<path d="M510.20 705.40V712.40" stroke="#000" stroke-width="1.7"/>
<text x="510.20" y="726.20" font-size="13" font-weight="bold" text-anchor="middle">3</text>
<path d="M595.20 705.40V712.40" stroke="#000" stroke-width="1.7"/>
<text x="595.20" y="726.20" font-size="13" font-weight="bold" text-anchor="middle">6</text>
<path d="M680.20 705.40V712.40" stroke="#000" stroke-width="1.7"/>
<text x="680.20" y="726.20" font-size="13" font-weight="bold" text-anchor="middle">9</text>
<path d="M453.53 705.40V709.90" stroke="#000" stroke-width="1.7"/>
<path d="M481.87 705.40V709.90" stroke="#000" stroke-width="1.7"/>
<path d="M538.53 705.40V709.90" stroke="#000" stroke-width="1.7"/>
<path d="M566.87 705.40V709.90" stroke="#000" stroke-width="1.7"/>
<path d="M623.53 705.40V709.90" stroke="#000" stroke-width="1.7"/>
<path d="M651.87 705.40V709.90" stroke="#000" stroke-width="1.7"/>
<text transform="translate(383.40 619.35) rotate(-90)" font-size="14" font-weight="bold" text-anchor="middle"><tspan font-weight="normal">Δ</tspan> Absorbance</text>
<text x="552.70" y="748.40" font-size="14" font-weight="bold" text-anchor="middle">Oleic acid (<tspan font-weight="normal">μ</tspan>M)</text>
<polyline points="425.20,705.40 425.21,705.31 425.23,705.05 425.26,704.61 425.30,704.00 425.36,703.23 425.43,702.30 425.51,701.21 425.61,699.98 425.72,698.61 425.84,697.11 425.97,695.49 426.12,693.76 426.28,691.93 426.45,690.01 426.63,688.02 426.83,685.95 427.04,683.83 427.27,681.66 427.50,679.45 427.75,677.20 428.01,674.94 428.29,672.66 428.57,670.37 428.87,668.08 429.18,665.80 429.51,663.53 429.85,661.28 430.20,659.04 430.56,656.83 430.94,654.65 431.33,652.51 431.73,650.39 432.14,648.32 432.57,646.28 433.01,644.28 433.46,642.32 433.93,640.41 434.41,638.54 434.90,636.71 435.40,634.93 435.92,633.19 436.45,631.50 436.99,629.85 437.54,628.24 438.11,626.67 438.69,625.15 439.28,623.67 439.89,622.23 440.51,620.83 441.14,619.47 441.78,618.15 442.44,616.87 443.11,615.62 443.79,614.41 444.48,613.23 445.19,612.09 445.91,610.98 446.65,609.91 447.39,608.86 448.15,607.85 448.92,606.86 449.71,605.91 450.50,604.98 451.31,604.07 452.13,603.20 452.97,602.35 453.82,601.52 454.68,600.72 455.55,599.94 456.44,599.18 457.34,598.45 458.25,597.73 459.17,597.04 460.11,596.36 461.06,595.71 462.02,595.07 463.00,594.45 463.99,593.84 464.99,593.26 466.00,592.69 467.03,592.13 468.07,591.59 469.12,591.06 470.18,590.55 471.26,590.05 472.35,589.57 473.45,589.10 474.57,588.64 475.70,588.19 476.84,587.75 477.99,587.33 479.16,586.91 480.34,586.51 481.53,586.11 482.73,585.73 483.95,585.36 485.18,584.99 486.43,584.64 487.68,584.29 488.95,583.95 490.23,583.62 491.53,583.30 492.83,582.98 494.15,582.67 495.48,582.37 496.83,582.08 498.19,581.79 499.56,581.51 500.94,581.24 502.34,580.97 503.75,580.71 505.17,580.46 506.60,580.21 508.05,579.96 509.51,579.73 510.98,579.49 512.47,579.27 513.97,579.04 515.48,578.82 517.00,578.61 518.54,578.40 520.09,578.20 521.65,578.00 523.22,577.80 524.81,577.61 526.41,577.42 528.02,577.24 529.65,577.06 531.29,576.88 532.94,576.71 534.60,576.54 536.28,576.37 537.97,576.21 539.67,576.05 541.38,575.90 543.11,575.74 544.85,575.59 546.61,575.44 548.37,575.30 550.15,575.16 551.94,575.02 553.75,574.88 555.56,574.75 557.39,574.62 559.23,574.49 561.09,574.36 562.96,574.24 564.84,574.12 566.73,574.00 568.64,573.88 570.56,573.77 572.49,573.65 574.43,573.54 576.39,573.43 578.36,573.32 580.34,573.22 582.34,573.12 584.35,573.01 586.37,572.91 588.40,572.82 590.45,572.72 592.51,572.62 594.58,572.53 596.66,572.44 598.76,572.35 600.87,572.26 602.99,572.17 605.13,572.09 607.28,572.00 609.44,571.92 611.61,571.84 613.80,571.76 616.00,571.68 618.21,571.60 620.43,571.53 622.67,571.45 624.92,571.38 627.19,571.30 629.46,571.23 631.75,571.16 634.05,571.09 636.37,571.02 638.69,570.95 641.03,570.89 643.38,570.82 645.75,570.76 648.13,570.70 650.52,570.63 652.92,570.57 655.34,570.51 657.77,570.45 660.21,570.39 662.66,570.33 665.13,570.28 667.61,570.22 670.10,570.16 672.61,570.11 675.13,570.06 677.66,570.00 680.20,569.95" fill="none" stroke="#000" stroke-width="1.1"/>
<path d="M428.03 671.73V679.97M424.63 671.73H431.43M424.63 679.97H431.43" stroke="#000" stroke-width="1.1" fill="none"/>
<path d="M430.87 648.14V661.78M427.47 648.14H434.27M427.47 661.78H434.27" stroke="#000" stroke-width="1.1" fill="none"/>
<path d="M433.70 635.07V652.12M430.30 635.07H437.10M430.30 652.12H437.10" stroke="#000" stroke-width="1.1" fill="none"/>
<path d="M436.53 625.83V644.02M433.13 625.83H439.93M433.13 644.02H439.93" stroke="#000" stroke-width="1.1" fill="none"/>
<path d="M439.37 621.71V639.33M435.97 621.71H442.77M435.97 639.33H442.77" stroke="#000" stroke-width="1.1" fill="none"/>
<path d="M453.53 582.07V600.54M450.13 582.07H456.93M450.13 600.54H456.93" stroke="#000" stroke-width="1.1" fill="none"/>
<path d="M467.70 588.75V601.82M464.30 588.75H471.10M464.30 601.82H471.10" stroke="#000" stroke-width="1.1" fill="none"/>
<path d="M481.87 573.40V596.14M478.47 573.40H485.27M478.47 596.14H485.27" stroke="#000" stroke-width="1.1" fill="none"/>
<path d="M496.03 593.15V601.96M492.63 593.15H499.43M492.63 601.96H499.43" stroke="#000" stroke-width="1.1" fill="none"/>
<path d="M510.20 565.87V588.04M506.80 565.87H513.60M506.80 588.04H513.60" stroke="#000" stroke-width="1.1" fill="none"/>
<path d="M595.20 552.66V585.62M591.80 552.66H598.60M591.80 585.62H598.60" stroke="#000" stroke-width="1.1" fill="none"/>
<path d="M680.20 557.49V587.33M676.80 557.49H683.60M676.80 587.33H683.60" stroke="#000" stroke-width="1.1" fill="none"/>
<circle cx="425.20" cy="705.40" r="3.5"/>
<circle cx="428.03" cy="675.85" r="3.5"/>
<circle cx="430.87" cy="654.96" r="3.5"/>
<circle cx="433.70" cy="643.59" r="3.5"/>
<circle cx="436.53" cy="634.93" r="3.5"/>
<circle cx="439.37" cy="630.52" r="3.5"/>
<circle cx="453.53" cy="591.31" r="3.5"/>
<circle cx="467.70" cy="595.29" r="3.5"/>
<circle cx="481.87" cy="584.77" r="3.5"/>
<circle cx="496.03" cy="597.56" r="3.5"/>
<circle cx="510.20" cy="576.96" r="3.5"/>
<circle cx="595.20" cy="569.14" r="3.5"/>
<circle cx="680.20" cy="572.41" r="3.5"/>
<rect x="541.50" y="592.50" width="129.00" height="85.80" fill="#fff" stroke="#1a1a1a" stroke-width="1.2"/>
<path d="M541.50 637.88H670.50" stroke="#b0b0b0" stroke-width="0.9"/>
<polyline points="541.5,630.3 542.4,629.7 543.2,628.9 544.1,628.2 544.9,627.4 545.8,626.6 546.7,625.7 547.5,624.8 548.4,623.9 549.2,622.9 550.1,621.9 551.0,620.8 551.8,619.8 552.7,618.7 553.5,617.6 554.4,616.4 555.3,615.3 556.1,614.2 557.0,613.0 557.8,611.9 558.7,610.7 559.6,609.6 560.4,608.5 561.3,607.4 562.1,606.3 563.0,605.3 563.9,604.3 564.7,603.4 565.6,602.5 566.4,601.7 567.3,601.0 568.2,600.3 569.0,599.7 569.9,599.1 570.7,598.7 571.6,598.3 572.5,598.0 573.3,597.8 574.2,597.7 575.0,597.7 575.9,597.9 576.8,598.3 577.6,599.0 578.5,599.9 579.3,601.0 580.2,602.3 581.1,603.9 581.9,605.6 582.8,607.5 583.6,609.6 584.5,611.9 585.4,614.3 586.2,617.0 587.1,619.8 587.9,622.8 588.8,625.9 589.7,629.3 590.5,632.8 591.4,636.5 592.2,640.4 593.1,644.3 594.0,648.3 594.8,652.4 595.7,656.3 596.5,660.1 597.4,663.7 598.3,667.0 599.1,669.9 600.0,672.3 600.8,674.2 601.7,675.5 602.6,676.2 603.4,676.3 604.3,676.1 605.1,675.6 606.0,674.9 606.9,674.0 607.7,672.9 608.6,671.5 609.4,670.1 610.3,668.5 611.2,666.8 612.0,665.0 612.9,663.2 613.7,661.4 614.6,659.5 615.5,657.7 616.3,655.9 617.2,654.2 618.0,652.6 618.9,651.1 619.8,649.6 620.6,648.3 621.5,647.0 622.3,645.9 623.2,644.8 624.1,643.9 624.9,643.1 625.8,642.3 626.6,641.6 627.5,641.0 628.4,640.5 629.2,640.0 630.1,639.6 630.9,639.2 631.8,638.9 632.7,638.5 633.5,638.2 634.4,638.0 635.2,637.7 636.1,637.5 637.0,637.3 637.8,637.1 638.7,637.0 639.5,636.8 640.4,636.8 641.3,636.7 642.1,636.7 643.0,636.7 643.8,636.8 644.7,636.8 645.6,636.9 646.4,637.0 647.3,637.1 648.1,637.2 649.0,637.3 649.9,637.4 650.7,637.5 651.6,637.6 652.4,637.7 653.3,637.7 654.2,637.8 655.0,637.8 655.9,637.8 656.7,637.9 657.6,637.9 658.5,637.9 659.3,637.9 660.2,637.9 661.0,637.9 661.9,637.9 662.8,637.9 663.6,637.9 664.5,637.9 665.3,637.9 666.2,637.9 667.1,637.9 667.9,637.9 668.8,637.9 669.6,637.9 670.5,637.9" fill="none" stroke="#111" stroke-width="0.8" stroke-linejoin="round"/>
<polyline points="541.5,630.6 542.4,629.9 543.2,629.2 544.1,628.5 544.9,627.7 545.8,626.9 546.7,626.1 547.5,625.2 548.4,624.3 549.2,623.4 550.1,622.4 551.0,621.4 551.8,620.4 552.7,619.3 553.5,618.2 554.4,617.1 555.3,616.0 556.1,614.9 557.0,613.8 557.8,612.7 558.7,611.6 559.6,610.5 560.4,609.4 561.3,608.4 562.1,607.4 563.0,606.4 563.9,605.4 564.7,604.5 565.6,603.7 566.4,602.9 567.3,602.2 568.2,601.5 569.0,600.9 569.9,600.4 570.7,600.0 571.6,599.6 572.5,599.3 573.3,599.1 574.2,599.0 575.0,599.0 575.9,599.2 576.8,599.6 577.6,600.2 578.5,601.1 579.3,602.2 580.2,603.5 581.1,604.9 581.9,606.6 582.8,608.5 583.6,610.5 584.5,612.7 585.4,615.1 586.2,617.6 587.1,620.3 587.9,623.1 588.8,626.2 589.7,629.4 590.5,632.7 591.4,636.2 592.2,639.9 593.1,643.6 594.0,647.5 594.8,651.3 595.7,655.0 596.5,658.7 597.4,662.1 598.3,665.2 599.1,667.9 600.0,670.2 600.8,672.0 601.7,673.2 602.6,673.9 603.4,673.9 604.3,673.8 605.1,673.3 606.0,672.7 606.9,671.8 607.7,670.8 608.6,669.5 609.4,668.1 610.3,666.6 611.2,665.1 612.0,663.4 612.9,661.7 613.7,660.0 614.6,658.2 615.5,656.5 616.3,654.9 617.2,653.3 618.0,651.7 618.9,650.3 619.8,648.9 620.6,647.7 621.5,646.5 622.3,645.4 623.2,644.4 624.1,643.5 624.9,642.8 625.8,642.0 626.6,641.4 627.5,640.8 628.4,640.3 629.2,639.9 630.1,639.5 630.9,639.1 631.8,638.8 632.7,638.5 633.5,638.2 634.4,638.0 635.2,637.7 636.1,637.5 637.0,637.3 637.8,637.1 638.7,637.0 639.5,636.9 640.4,636.8 641.3,636.8 642.1,636.8 643.0,636.8 643.8,636.8 644.7,636.9 645.6,637.0 646.4,637.1 647.3,637.2 648.1,637.3 649.0,637.4 649.9,637.5 650.7,637.6 651.6,637.6 652.4,637.7 653.3,637.8 654.2,637.8 655.0,637.8 655.9,637.9 656.7,637.9 657.6,637.9 658.5,637.9 659.3,637.9 660.2,637.9 661.0,637.9 661.9,637.9 662.8,637.9 663.6,637.9 664.5,637.9 665.3,637.9 666.2,637.9 667.1,637.9 667.9,637.9 668.8,637.9 669.6,637.9 670.5,637.9" fill="none" stroke="#111" stroke-width="0.8" stroke-linejoin="round"/>
<polyline points="541.5,631.0 542.4,630.3 543.2,629.7 544.1,629.0 544.9,628.3 545.8,627.5 546.7,626.7 547.5,625.9 548.4,625.0 549.2,624.1 550.1,623.2 551.0,622.2 551.8,621.3 552.7,620.3 553.5,619.3 554.4,618.2 555.3,617.2 556.1,616.1 557.0,615.1 557.8,614.0 558.7,613.0 559.6,611.9 560.4,610.9 561.3,609.9 562.1,609.0 563.0,608.0 563.9,607.1 564.7,606.3 565.6,605.5 566.4,604.7 567.3,604.0 568.2,603.4 569.0,602.8 569.9,602.3 570.7,601.9 571.6,601.6 572.5,601.3 573.3,601.1 574.2,601.0 575.0,601.0 575.9,601.2 576.8,601.6 577.6,602.2 578.5,603.0 579.3,604.0 580.2,605.3 581.1,606.7 581.9,608.3 582.8,610.0 583.6,611.9 584.5,614.0 585.4,616.3 586.2,618.6 587.1,621.2 587.9,623.9 588.8,626.8 589.7,629.8 590.5,633.1 591.4,636.4 592.2,639.9 593.1,643.5 594.0,647.1 594.8,650.7 595.7,654.3 596.5,657.8 597.4,661.0 598.3,664.0 599.1,666.6 600.0,668.8 600.8,670.5 601.7,671.6 602.6,672.2 603.4,672.3 604.3,672.1 605.1,671.7 606.0,671.1 606.9,670.3 607.7,669.3 608.6,668.1 609.4,666.8 610.3,665.3 611.2,663.8 612.0,662.2 612.9,660.6 613.7,659.0 614.6,657.3 615.5,655.7 616.3,654.1 617.2,652.6 618.0,651.1 618.9,649.7 619.8,648.4 620.6,647.2 621.5,646.1 622.3,645.1 623.2,644.1 624.1,643.3 624.9,642.5 625.8,641.9 626.6,641.3 627.5,640.7 628.4,640.2 629.2,639.8 630.1,639.4 630.9,639.1 631.8,638.8 632.7,638.5 633.5,638.2 634.4,638.0 635.2,637.7 636.1,637.5 637.0,637.3 637.8,637.2 638.7,637.0 639.5,636.9 640.4,636.9 641.3,636.8 642.1,636.8 643.0,636.8 643.8,636.9 644.7,636.9 645.6,637.0 646.4,637.1 647.3,637.2 648.1,637.3 649.0,637.4 649.9,637.5 650.7,637.6 651.6,637.6 652.4,637.7 653.3,637.8 654.2,637.8 655.0,637.8 655.9,637.9 656.7,637.9 657.6,637.9 658.5,637.9 659.3,637.9 660.2,637.9 661.0,637.9 661.9,637.9 662.8,637.9 663.6,637.9 664.5,637.9 665.3,637.9 666.2,637.9 667.1,637.9 667.9,637.9 668.8,637.9 669.6,637.9 670.5,637.9" fill="none" stroke="#111" stroke-width="0.8" stroke-linejoin="round"/>
<polyline points="541.5,631.3 542.4,630.7 543.2,630.1 544.1,629.5 544.9,628.8 545.8,628.1 546.7,627.3 547.5,626.5 548.4,625.7 549.2,624.8 550.1,624.0 551.0,623.1 551.8,622.1 552.7,621.2 553.5,620.2 554.4,619.2 555.3,618.3 556.1,617.3 557.0,616.3 557.8,615.3 558.7,614.3 559.6,613.3 560.4,612.3 561.3,611.4 562.1,610.5 563.0,609.6 563.9,608.7 564.7,607.9 565.6,607.2 566.4,606.4 567.3,605.8 568.2,605.2 569.0,604.7 569.9,604.2 570.7,603.8 571.6,603.5 572.5,603.2 573.3,603.0 574.2,603.0 575.0,602.9 575.9,603.1 576.8,603.5 577.6,604.0 578.5,604.8 579.3,605.8 580.2,607.0 581.1,608.3 581.9,609.8 582.8,611.5 583.6,613.3 584.5,615.3 585.4,617.4 586.2,619.7 587.1,622.2 587.9,624.7 588.8,627.5 589.7,630.4 590.5,633.5 591.4,636.7 592.2,640.1 593.1,643.5 594.0,647.0 594.8,650.5 595.7,653.9 596.5,657.3 597.4,660.4 598.3,663.3 599.1,665.8 600.0,667.9 600.8,669.5 601.7,670.6 602.6,671.2 603.4,671.3 604.3,671.1 605.1,670.7 606.0,670.1 606.9,669.3 607.7,668.3 608.6,667.2 609.4,665.9 610.3,664.5 611.2,663.0 612.0,661.5 612.9,659.9 613.7,658.3 614.6,656.7 615.5,655.1 616.3,653.6 617.2,652.1 618.0,650.7 618.9,649.4 619.8,648.1 620.6,646.9 621.5,645.8 622.3,644.8 623.2,643.9 624.1,643.1 624.9,642.4 625.8,641.7 626.6,641.1 627.5,640.6 628.4,640.2 629.2,639.7 630.1,639.4 630.9,639.0 631.8,638.7 632.7,638.4 633.5,638.2 634.4,638.0 635.2,637.7 636.1,637.5 637.0,637.4 637.8,637.2 638.7,637.1 639.5,637.0 640.4,636.9 641.3,636.9 642.1,636.8 643.0,636.9 643.8,636.9 644.7,637.0 645.6,637.0 646.4,637.1 647.3,637.2 648.1,637.3 649.0,637.4 649.9,637.5 650.7,637.6 651.6,637.7 652.4,637.7 653.3,637.8 654.2,637.8 655.0,637.8 655.9,637.9 656.7,637.9 657.6,637.9 658.5,637.9 659.3,637.9 660.2,637.9 661.0,637.9 661.9,637.9 662.8,637.9 663.6,637.9 664.5,637.9 665.3,637.9 666.2,637.9 667.1,637.9 667.9,637.9 668.8,637.9 669.6,637.9 670.5,637.9" fill="none" stroke="#111" stroke-width="0.8" stroke-linejoin="round"/>
<polyline points="541.5,632.5 542.4,632.0 543.2,631.5 544.1,631.0 544.9,630.4 545.8,629.8 546.7,629.2 547.5,628.5 548.4,627.9 549.2,627.2 550.1,626.5 551.0,625.7 551.8,625.0 552.7,624.2 553.5,623.4 554.4,622.6 555.3,621.8 556.1,620.9 557.0,620.1 557.8,619.3 558.7,618.5 559.6,617.7 560.4,616.9 561.3,616.1 562.1,615.4 563.0,614.6 563.9,614.0 564.7,613.3 565.6,612.7 566.4,612.1 567.3,611.5 568.2,611.1 569.0,610.6 569.9,610.2 570.7,609.9 571.6,609.6 572.5,609.4 573.3,609.3 574.2,609.2 575.0,609.2 575.9,609.3 576.8,609.6 577.6,610.1 578.5,610.8 579.3,611.6 580.2,612.5 581.1,613.7 581.9,614.9 582.8,616.3 583.6,617.9 584.5,619.5 585.4,621.4 586.2,623.3 587.1,625.5 587.9,627.7 588.8,630.1 589.7,632.7 590.5,635.5 591.4,638.4 592.2,641.4 593.1,644.5 594.0,647.7 594.8,650.9 595.7,654.1 596.5,657.2 597.4,660.1 598.3,662.7 599.1,665.0 600.0,667.0 600.8,668.5 601.7,669.5 602.6,670.0 603.4,670.0 604.3,669.8 605.1,669.4 606.0,668.8 606.9,668.0 607.7,667.1 608.6,666.0 609.4,664.7 610.3,663.4 611.2,662.0 612.0,660.5 612.9,659.0 613.7,657.4 614.6,655.9 615.5,654.4 616.3,652.9 617.2,651.5 618.0,650.2 618.9,648.9 619.8,647.7 620.6,646.5 621.5,645.5 622.3,644.5 623.2,643.7 624.1,642.9 624.9,642.2 625.8,641.6 626.6,641.0 627.5,640.5 628.4,640.1 629.2,639.7 630.1,639.3 630.9,639.0 631.8,638.7 632.7,638.4 633.5,638.2 634.4,637.9 635.2,637.7 636.1,637.5 637.0,637.4 637.8,637.2 638.7,637.1 639.5,637.0 640.4,636.9 641.3,636.9 642.1,636.9 643.0,636.9 643.8,636.9 644.7,637.0 645.6,637.1 646.4,637.2 647.3,637.3 648.1,637.3 649.0,637.4 649.9,637.5 650.7,637.6 651.6,637.7 652.4,637.7 653.3,637.8 654.2,637.8 655.0,637.8 655.9,637.9 656.7,637.9 657.6,637.9 658.5,637.9 659.3,637.9 660.2,637.9 661.0,637.9 661.9,637.9 662.8,637.9 663.6,637.9 664.5,637.9 665.3,637.9 666.2,637.9 667.1,637.9 667.9,637.9 668.8,637.9 669.6,637.9 670.5,637.9" fill="none" stroke="#111" stroke-width="0.8" stroke-linejoin="round"/>
<polyline points="541.5,634.3 542.4,634.0 543.2,633.6 544.1,633.3 544.9,632.9 545.8,632.5 546.7,632.1 547.5,631.6 548.4,631.2 549.2,630.7 550.1,630.2 551.0,629.7 551.8,629.2 552.7,628.7 553.5,628.2 554.4,627.6 555.3,627.1 556.1,626.6 557.0,626.0 557.8,625.5 558.7,624.9 559.6,624.4 560.4,623.8 561.3,623.3 562.1,622.8 563.0,622.3 563.9,621.9 564.7,621.4 565.6,621.0 566.4,620.6 567.3,620.3 568.2,619.9 569.0,619.6 569.9,619.4 570.7,619.2 571.6,619.0 572.5,618.8 573.3,618.7 574.2,618.7 575.0,618.7 575.9,618.8 576.8,619.0 577.6,619.3 578.5,619.7 579.3,620.3 580.2,620.9 581.1,621.6 581.9,622.4 582.8,623.3 583.6,624.3 584.5,625.4 585.4,626.6 586.2,627.8 587.1,629.1 587.9,630.5 588.8,632.0 589.7,633.5 590.5,635.1 591.4,636.8 592.2,638.6 593.1,640.4 594.0,642.2 594.8,644.0 595.7,645.8 596.5,647.6 597.4,649.2 598.3,650.7 599.1,652.0 600.0,653.1 600.8,654.0 601.7,654.5 602.6,654.9 603.4,654.9 604.3,654.8 605.1,654.6 606.0,654.3 606.9,653.9 607.7,653.4 608.6,652.8 609.4,652.2 610.3,651.5 611.2,650.7 612.0,649.9 612.9,649.1 613.7,648.3 614.6,647.5 615.5,646.7 616.3,645.9 617.2,645.2 618.0,644.4 618.9,643.7 619.8,643.1 620.6,642.5 621.5,641.9 622.3,641.4 623.2,641.0 624.1,640.6 624.9,640.2 625.8,639.8 626.6,639.5 627.5,639.3 628.4,639.0 629.2,638.8 630.1,638.6 630.9,638.5 631.8,638.3 632.7,638.2 633.5,638.0 634.4,637.9 635.2,637.8 636.1,637.7 637.0,637.6 637.8,637.5 638.7,637.5 639.5,637.4 640.4,637.4 641.3,637.4 642.1,637.4 643.0,637.4 643.8,637.4 644.7,637.4 645.6,637.4 646.4,637.5 647.3,637.5 648.1,637.6 649.0,637.6 649.9,637.7 650.7,637.7 651.6,637.8 652.4,637.8 653.3,637.8 654.2,637.8 655.0,637.9 655.9,637.9 656.7,637.9 657.6,637.9 658.5,637.9 659.3,637.9 660.2,637.9 661.0,637.9 661.9,637.9 662.8,637.9 663.6,637.9 664.5,637.9 665.3,637.9 666.2,637.9 667.1,637.9 667.9,637.9 668.8,637.9 669.6,637.9 670.5,637.9" fill="none" stroke="#111" stroke-width="0.8" stroke-linejoin="round"/>
<polyline points="541.5,634.7 542.4,634.5 543.2,634.2 544.1,633.9 544.9,633.5 545.8,633.2 546.7,632.8 547.5,632.5 548.4,632.1 549.2,631.7 550.1,631.2 551.0,630.8 551.8,630.4 552.7,629.9 553.5,629.5 554.4,629.0 555.3,628.5 556.1,628.0 557.0,627.6 557.8,627.1 558.7,626.6 559.6,626.1 560.4,625.7 561.3,625.2 562.1,624.8 563.0,624.4 563.9,624.0 564.7,623.6 565.6,623.2 566.4,622.9 567.3,622.6 568.2,622.3 569.0,622.0 569.9,621.8 570.7,621.6 571.6,621.5 572.5,621.3 573.3,621.3 574.2,621.2 575.0,621.2 575.9,621.3 576.8,621.5 577.6,621.7 578.5,622.1 579.3,622.6 580.2,623.1 581.1,623.8 581.9,624.5 582.8,625.3 583.6,626.2 584.5,627.1 585.4,628.1 586.2,629.2 587.1,630.4 587.9,631.7 588.8,633.0 589.7,634.4 590.5,635.9 591.4,637.4 592.2,639.0 593.1,640.7 594.0,642.4 594.8,644.0 595.7,645.7 596.5,647.3 597.4,648.8 598.3,650.2 599.1,651.4 600.0,652.4 600.8,653.2 601.7,653.8 602.6,654.0 603.4,654.1 604.3,654.0 605.1,653.8 606.0,653.5 606.9,653.1 607.7,652.6 608.6,652.1 609.4,651.5 610.3,650.8 611.2,650.1 612.0,649.3 612.9,648.6 613.7,647.8 614.6,647.0 615.5,646.2 616.3,645.5 617.2,644.8 618.0,644.1 618.9,643.4 619.8,642.8 620.6,642.3 621.5,641.7 622.3,641.3 623.2,640.8 624.1,640.4 624.9,640.1 625.8,639.7 626.6,639.5 627.5,639.2 628.4,639.0 629.2,638.8 630.1,638.6 630.9,638.4 631.8,638.3 632.7,638.2 633.5,638.0 634.4,637.9 635.2,637.8 636.1,637.7 637.0,637.6 637.8,637.6 638.7,637.5 639.5,637.4 640.4,637.4 641.3,637.4 642.1,637.4 643.0,637.4 643.8,637.4 644.7,637.4 645.6,637.5 646.4,637.5 647.3,637.6 648.1,637.6 649.0,637.7 649.9,637.7 650.7,637.7 651.6,637.8 652.4,637.8 653.3,637.8 654.2,637.8 655.0,637.9 655.9,637.9 656.7,637.9 657.6,637.9 658.5,637.9 659.3,637.9 660.2,637.9 661.0,637.9 661.9,637.9 662.8,637.9 663.6,637.9 664.5,637.9 665.3,637.9 666.2,637.9 667.1,637.9 667.9,637.9 668.8,637.9 669.6,637.9 670.5,637.9" fill="none" stroke="#111" stroke-width="0.8" stroke-linejoin="round"/>
<polyline points="541.5,635.1 542.4,634.9 543.2,634.6 544.1,634.3 544.9,634.0 545.8,633.7 546.7,633.4 547.5,633.1 548.4,632.7 549.2,632.4 550.1,632.0 551.0,631.6 551.8,631.2 552.7,630.8 553.5,630.4 554.4,630.0 555.3,629.6 556.1,629.2 557.0,628.8 557.8,628.3 558.7,627.9 559.6,627.5 560.4,627.1 561.3,626.7 562.1,626.3 563.0,625.9 563.9,625.6 564.7,625.2 565.6,624.9 566.4,624.6 567.3,624.3 568.2,624.1 569.0,623.9 569.9,623.7 570.7,623.5 571.6,623.4 572.5,623.3 573.3,623.2 574.2,623.1 575.0,623.1 575.9,623.2 576.8,623.4 577.6,623.6 578.5,623.9 579.3,624.3 580.2,624.8 581.1,625.4 581.9,626.1 582.8,626.8 583.6,627.5 584.5,628.4 585.4,629.3 586.2,630.3 587.1,631.4 587.9,632.5 588.8,633.7 589.7,635.0 590.5,636.3 591.4,637.7 592.2,639.2 593.1,640.7 594.0,642.3 594.8,643.8 595.7,645.3 596.5,646.8 597.4,648.2 598.3,649.5 599.1,650.6 600.0,651.6 600.8,652.3 601.7,652.8 602.6,653.0 603.4,653.1 604.3,653.0 605.1,652.8 606.0,652.5 606.9,652.1 607.7,651.7 608.6,651.2 609.4,650.6 610.3,650.0 611.2,649.3 612.0,648.6 612.9,647.9 613.7,647.1 614.6,646.4 615.5,645.7 616.3,645.0 617.2,644.3 618.0,643.7 618.9,643.1 619.8,642.5 620.6,642.0 621.5,641.5 622.3,641.0 623.2,640.6 624.1,640.3 624.9,639.9 625.8,639.6 626.6,639.4 627.5,639.1 628.4,638.9 629.2,638.7 630.1,638.6 630.9,638.4 631.8,638.3 632.7,638.1 633.5,638.0 634.4,637.9 635.2,637.8 636.1,637.7 637.0,637.6 637.8,637.6 638.7,637.5 639.5,637.5 640.4,637.4 641.3,637.4 642.1,637.4 643.0,637.4 643.8,637.4 644.7,637.5 645.6,637.5 646.4,637.5 647.3,637.6 648.1,637.6 649.0,637.7 649.9,637.7 650.7,637.7 651.6,637.8 652.4,637.8 653.3,637.8 654.2,637.8 655.0,637.9 655.9,637.9 656.7,637.9 657.6,637.9 658.5,637.9 659.3,637.9 660.2,637.9 661.0,637.9 661.9,637.9 662.8,637.9 663.6,637.9 664.5,637.9 665.3,637.9 666.2,637.9 667.1,637.9 667.9,637.9 668.8,637.9 669.6,637.9 670.5,637.9" fill="none" stroke="#111" stroke-width="0.8" stroke-linejoin="round"/>
<polyline points="541.5,635.6 542.4,635.4 543.2,635.1 544.1,634.9 544.9,634.7 545.8,634.4 546.7,634.1 547.5,633.9 548.4,633.6 549.2,633.3 550.1,633.0 551.0,632.7 551.8,632.3 552.7,632.0 553.5,631.7 554.4,631.3 555.3,631.0 556.1,630.6 557.0,630.3 557.8,629.9 558.7,629.6 559.6,629.2 560.4,628.9 561.3,628.5 562.1,628.2 563.0,627.9 563.9,627.6 564.7,627.3 565.6,627.0 566.4,626.8 567.3,626.6 568.2,626.4 569.0,626.2 569.9,626.0 570.7,625.9 571.6,625.7 572.5,625.7 573.3,625.6 574.2,625.6 575.0,625.6 575.9,625.6 576.8,625.7 577.6,625.9 578.5,626.2 579.3,626.5 580.2,626.9 581.1,627.4 581.9,627.9 582.8,628.5 583.6,629.1 584.5,629.7 585.4,630.4 586.2,631.2 587.1,631.9 587.9,632.7 588.8,633.6 589.7,634.5 590.5,635.4 591.4,636.3 592.2,637.2 593.1,638.2 594.0,639.2 594.8,640.1 595.7,641.1 596.5,642.0 597.4,642.8 598.3,643.6 599.1,644.3 600.0,644.8 600.8,645.3 601.7,645.6 602.6,645.8 603.4,645.8 604.3,645.8 605.1,645.7 606.0,645.6 606.9,645.4 607.7,645.2 608.6,644.9 609.4,644.6 610.3,644.3 611.2,643.9 612.0,643.6 612.9,643.2 613.7,642.8 614.6,642.4 615.5,642.0 616.3,641.7 617.2,641.3 618.0,641.0 618.9,640.7 619.8,640.3 620.6,640.1 621.5,639.8 622.3,639.6 623.2,639.3 624.1,639.1 624.9,639.0 625.8,638.8 626.6,638.7 627.5,638.5 628.4,638.4 629.2,638.3 630.1,638.2 630.9,638.2 631.8,638.1 632.7,638.0 633.5,638.0 634.4,637.9 635.2,637.8 636.1,637.8 637.0,637.8 637.8,637.7 638.7,637.7 639.5,637.7 640.4,637.6 641.3,637.6 642.1,637.6 643.0,637.6 643.8,637.6 644.7,637.7 645.6,637.7 646.4,637.7 647.3,637.7 648.1,637.7 649.0,637.8 649.9,637.8 650.7,637.8 651.6,637.8 652.4,637.8 653.3,637.8 654.2,637.9 655.0,637.9 655.9,637.9 656.7,637.9 657.6,637.9 658.5,637.9 659.3,637.9 660.2,637.9 661.0,637.9 661.9,637.9 662.8,637.9 663.6,637.9 664.5,637.9 665.3,637.9 666.2,637.9 667.1,637.9 667.9,637.9 668.8,637.9 669.6,637.9 670.5,637.9" fill="none" stroke="#111" stroke-width="0.8" stroke-linejoin="round"/>
<polyline points="541.5,636.2 542.4,636.1 543.2,635.9 544.1,635.8 544.9,635.6 545.8,635.4 546.7,635.2 547.5,635.0 548.4,634.8 549.2,634.6 550.1,634.4 551.0,634.2 551.8,633.9 552.7,633.7 553.5,633.4 554.4,633.2 555.3,632.9 556.1,632.7 557.0,632.4 557.8,632.2 558.7,631.9 559.6,631.7 560.4,631.5 561.3,631.2 562.1,631.0 563.0,630.8 563.9,630.5 564.7,630.3 565.6,630.2 566.4,630.0 567.3,629.8 568.2,629.7 569.0,629.5 569.9,629.4 570.7,629.3 571.6,629.2 572.5,629.2 573.3,629.1 574.2,629.1 575.0,629.1 575.9,629.1 576.8,629.2 577.6,629.4 578.5,629.6 579.3,629.8 580.2,630.1 581.1,630.4 581.9,630.8 582.8,631.2 583.6,631.7 584.5,632.2 585.4,632.7 586.2,633.3 587.1,633.9 587.9,634.5 588.8,635.2 589.7,635.9 590.5,636.6 591.4,637.4 592.2,638.2 593.1,639.0 594.0,639.8 594.8,640.6 595.7,641.5 596.5,642.3 597.4,643.0 598.3,643.7 599.1,644.3 600.0,644.8 600.8,645.1 601.7,645.4 602.6,645.6 603.4,645.6 604.3,645.5 605.1,645.5 606.0,645.3 606.9,645.1 607.7,644.9 608.6,644.6 609.4,644.4 610.3,644.0 611.2,643.7 612.0,643.3 612.9,643.0 613.7,642.6 614.6,642.2 615.5,641.9 616.3,641.5 617.2,641.2 618.0,640.8 618.9,640.5 619.8,640.2 620.6,640.0 621.5,639.7 622.3,639.5 623.2,639.3 624.1,639.1 624.9,638.9 625.8,638.8 626.6,638.6 627.5,638.5 628.4,638.4 629.2,638.3 630.1,638.2 630.9,638.1 631.8,638.1 632.7,638.0 633.5,637.9 634.4,637.9 635.2,637.8 636.1,637.8 637.0,637.8 637.8,637.7 638.7,637.7 639.5,637.7 640.4,637.7 641.3,637.6 642.1,637.6 643.0,637.6 643.8,637.7 644.7,637.7 645.6,637.7 646.4,637.7 647.3,637.7 648.1,637.7 649.0,637.8 649.9,637.8 650.7,637.8 651.6,637.8 652.4,637.8 653.3,637.8 654.2,637.9 655.0,637.9 655.9,637.9 656.7,637.9 657.6,637.9 658.5,637.9 659.3,637.9 660.2,637.9 661.0,637.9 661.9,637.9 662.8,637.9 663.6,637.9 664.5,637.9 665.3,637.9 666.2,637.9 667.1,637.9 667.9,637.9 668.8,637.9 669.6,637.9 670.5,637.9" fill="none" stroke="#111" stroke-width="0.8" stroke-linejoin="round"/>
<polyline points="541.5,637.1 542.4,637.0 543.2,637.0 544.1,636.9 544.9,636.8 545.8,636.7 546.7,636.6 547.5,636.5 548.4,636.4 549.2,636.3 550.1,636.2 551.0,636.1 551.8,636.0 552.7,635.9 553.5,635.8 554.4,635.7 555.3,635.6 556.1,635.4 557.0,635.3 557.8,635.2 558.7,635.1 559.6,635.0 560.4,634.8 561.3,634.7 562.1,634.6 563.0,634.5 563.9,634.4 564.7,634.3 565.6,634.2 566.4,634.2 567.3,634.1 568.2,634.0 569.0,633.9 569.9,633.9 570.7,633.8 571.6,633.8 572.5,633.8 573.3,633.7 574.2,633.7 575.0,633.7 575.9,633.8 576.8,633.8 577.6,633.9 578.5,634.0 579.3,634.1 580.2,634.2 581.1,634.4 581.9,634.6 582.8,634.8 583.6,635.1 584.5,635.3 585.4,635.6 586.2,636.0 587.1,636.3 587.9,636.8 588.8,637.2 589.7,637.7 590.5,638.2 591.4,638.7 592.2,639.3 593.1,640.0 594.0,640.6 594.8,641.2 595.7,641.9 596.5,642.5 597.4,643.1 598.3,643.7 599.1,644.2 600.0,644.6 600.8,644.9 601.7,645.1 602.6,645.2 603.4,645.1 604.3,645.1 605.1,645.0 606.0,644.8 606.9,644.6 607.7,644.4 608.6,644.2 609.4,643.9 610.3,643.6 611.2,643.3 612.0,642.9 612.9,642.6 613.7,642.2 614.6,641.9 615.5,641.6 616.3,641.2 617.2,640.9 618.0,640.6 618.9,640.3 619.8,640.1 620.6,639.8 621.5,639.6 622.3,639.4 623.2,639.2 624.1,639.0 624.9,638.8 625.8,638.7 626.6,638.6 627.5,638.5 628.4,638.4 629.2,638.3 630.1,638.2 630.9,638.1 631.8,638.1 632.7,638.0 633.5,637.9 634.4,637.9 635.2,637.8 636.1,637.8 637.0,637.8 637.8,637.7 638.7,637.7 639.5,637.7 640.4,637.7 641.3,637.7 642.1,637.7 643.0,637.7 643.8,637.7 644.7,637.7 645.6,637.7 646.4,637.7 647.3,637.7 648.1,637.8 649.0,637.8 649.9,637.8 650.7,637.8 651.6,637.8 652.4,637.8 653.3,637.9 654.2,637.9 655.0,637.9 655.9,637.9 656.7,637.9 657.6,637.9 658.5,637.9 659.3,637.9 660.2,637.9 661.0,637.9 661.9,637.9 662.8,637.9 663.6,637.9 664.5,637.9 665.3,637.9 666.2,637.9 667.1,637.9 667.9,637.9 668.8,637.9 669.6,637.9 670.5,637.9" fill="none" stroke="#111" stroke-width="0.8" stroke-linejoin="round"/>
<path d="M538.30 597.45H541.50" stroke="#000" stroke-width="1"/>
<text x="537.10" y="599.85" font-size="6.6" font-weight="normal" text-anchor="end">0.04</text>
<path d="M538.30 617.66H541.50" stroke="#000" stroke-width="1"/>
<text x="537.10" y="620.06" font-size="6.6" font-weight="normal" text-anchor="end">0.02</text>
<path d="M538.30 637.88H541.50" stroke="#000" stroke-width="1"/>
<text x="537.10" y="640.28" font-size="6.6" font-weight="normal" text-anchor="end">0.00</text>
<path d="M538.30 658.09H541.50" stroke="#000" stroke-width="1"/>
<text x="537.10" y="660.49" font-size="6.6" font-weight="normal" text-anchor="end">-0.02</text>
<path d="M538.30 678.30H541.50" stroke="#000" stroke-width="1"/>
<text x="537.10" y="680.70" font-size="6.6" font-weight="normal" text-anchor="end">-0.04</text>
<path d="M541.50 678.30V681.50" stroke="#000" stroke-width="1"/>
<text x="541.50" y="688.80" font-size="6.6" font-weight="normal" text-anchor="middle">350</text>
<path d="M563.00 678.30V681.50" stroke="#000" stroke-width="1"/>
<text x="563.00" y="688.80" font-size="6.6" font-weight="normal" text-anchor="middle">375</text>
<path d="M584.50 678.30V681.50" stroke="#000" stroke-width="1"/>
<text x="584.50" y="688.80" font-size="6.6" font-weight="normal" text-anchor="middle">400</text>
<path d="M606.00 678.30V681.50" stroke="#000" stroke-width="1"/>
<text x="606.00" y="688.80" font-size="6.6" font-weight="normal" text-anchor="middle">425</text>
<path d="M627.50 678.30V681.50" stroke="#000" stroke-width="1"/>
<text x="627.50" y="688.80" font-size="6.6" font-weight="normal" text-anchor="middle">450</text>
<path d="M649.00 678.30V681.50" stroke="#000" stroke-width="1"/>
<text x="649.00" y="688.80" font-size="6.6" font-weight="normal" text-anchor="middle">475</text>
<path d="M670.50 678.30V681.50" stroke="#000" stroke-width="1"/>
<text x="670.50" y="688.80" font-size="6.6" font-weight="normal" text-anchor="middle">500</text>
<text x="606.00" y="700.40" font-size="7" font-weight="normal" text-anchor="middle">Wavelength (nm)</text>
<text transform="translate(518.46 635.40) rotate(-90)" font-size="7" text-anchor="middle">Absorbance</text>
<text x="162.60" y="787.60" font-size="24" font-weight="bold" text-anchor="start">G</text>
<path d="M232.00 799.90H239.00V970.50H494.90V977.50" fill="none" stroke="#000" stroke-width="1.7"/>
<path d="M232.00 970.50H239.00" stroke="#000" stroke-width="1.7"/>
<text x="230.10" y="975.25" font-size="13" font-weight="bold" text-anchor="end">0.000</text>
<path d="M232.00 913.63H239.00" stroke="#000" stroke-width="1.7"/>
<text x="230.10" y="918.38" font-size="13" font-weight="bold" text-anchor="end">0.025</text>
<path d="M232.00 856.77H239.00" stroke="#000" stroke-width="1.7"/>
<text x="230.10" y="861.52" font-size="13" font-weight="bold" text-anchor="end">0.050</text>
<path d="M232.00 799.90H239.00" stroke="#000" stroke-width="1.7"/>
<text x="230.10" y="804.65" font-size="13" font-weight="bold" text-anchor="end">0.075</text>
<path d="M239.00 970.50V977.50" stroke="#000" stroke-width="1.7"/>
<text x="239.00" y="991.30" font-size="13" font-weight="bold" text-anchor="middle">0</text>
<path d="M281.65 970.50V977.50" stroke="#000" stroke-width="1.7"/>
<text x="281.65" y="991.30" font-size="13" font-weight="bold" text-anchor="middle">5</text>
<path d="M324.30 970.50V977.50" stroke="#000" stroke-width="1.7"/>
<text x="324.30" y="991.30" font-size="13" font-weight="bold" text-anchor="middle">10</text>
<path d="M366.95 970.50V977.50" stroke="#000" stroke-width="1.7"/>
<text x="366.95" y="991.30" font-size="13" font-weight="bold" text-anchor="middle">15</text>
<path d="M409.60 970.50V977.50" stroke="#000" stroke-width="1.7"/>
<text x="409.60" y="991.30" font-size="13" font-weight="bold" text-anchor="middle">20</text>
<path d="M452.25 970.50V977.50" stroke="#000" stroke-width="1.7"/>
<text x="452.25" y="991.30" font-size="13" font-weight="bold" text-anchor="middle">25</text>
<path d="M494.90 970.50V977.50" stroke="#000" stroke-width="1.7"/>
<text x="494.90" y="991.30" font-size="13" font-weight="bold" text-anchor="middle">30</text>
<text transform="translate(189.97 884.40) rotate(-90)" font-size="14" font-weight="bold" text-anchor="middle"><tspan font-weight="normal">Δ</tspan> Absorbance</text>
<text x="366.95" y="1013.50" font-size="14" font-weight="bold" text-anchor="middle">Arachidonic acid (<tspan font-weight="normal">μ</tspan>M)</text>
<polyline points="239.00,970.50 239.01,970.40 239.02,970.09 239.06,969.58 239.10,968.87 239.15,967.96 239.22,966.88 239.30,965.62 239.40,964.20 239.50,962.62 239.62,960.91 239.75,959.07 239.89,957.11 240.05,955.06 240.21,952.92 240.39,950.71 240.58,948.43 240.79,946.11 241.00,943.75 241.23,941.37 241.47,938.97 241.73,936.57 241.99,934.16 242.27,931.77 242.56,929.40 242.87,927.05 243.18,924.73 243.51,922.44 243.85,920.19 244.20,917.98 244.57,915.81 244.94,913.69 245.33,911.62 245.73,909.60 246.15,907.63 246.58,905.71 247.01,903.84 247.47,902.03 247.93,900.26 248.41,898.55 248.89,896.88 249.40,895.27 249.91,893.71 250.43,892.19 250.97,890.72 251.52,889.30 252.09,887.92 252.66,886.59 253.25,885.30 253.85,884.05 254.46,882.84 255.09,881.67 255.72,880.54 256.37,879.45 257.03,878.39 257.71,877.36 258.39,876.37 259.09,875.41 259.80,874.48 260.53,873.58 261.26,872.71 262.01,871.87 262.77,871.05 263.55,870.26 264.33,869.50 265.13,868.76 265.94,868.04 266.76,867.34 267.60,866.67 268.44,866.02 269.30,865.38 270.17,864.77 271.06,864.17 271.96,863.60 272.86,863.04 273.79,862.49 274.72,861.97 275.67,861.46 276.62,860.96 277.60,860.48 278.58,860.01 279.57,859.56 280.58,859.11 281.60,858.68 282.64,858.27 283.68,857.86 284.74,857.47 285.81,857.09 286.89,856.71 287.99,856.35 289.09,856.00 290.21,855.65 291.34,855.32 292.49,855.00 293.64,854.68 294.81,854.37 295.99,854.07 297.19,853.78 298.39,853.49 299.61,853.21 300.84,852.94 302.09,852.68 303.34,852.42 304.61,852.17 305.89,851.93 307.18,851.69 308.49,851.45 309.80,851.23 311.13,851.01 312.48,850.79 313.83,850.58 315.20,850.37 316.58,850.17 317.97,849.97 319.37,849.78 320.79,849.59 322.22,849.41 323.66,849.23 325.11,849.05 326.58,848.88 328.05,848.71 329.54,848.55 331.05,848.39 332.56,848.23 334.09,848.08 335.63,847.93 337.18,847.78 338.75,847.64 340.32,847.49 341.91,847.36 343.51,847.22 345.13,847.09 346.75,846.96 348.39,846.83 350.04,846.71 351.71,846.59 353.38,846.47 355.07,846.35 356.77,846.23 358.49,846.12 360.21,846.01 361.95,845.90 363.70,845.80 365.46,845.69 367.24,845.59 369.02,845.49 370.82,845.39 372.64,845.30 374.46,845.20 376.30,845.11 378.15,845.02 380.01,844.93 381.88,844.84 383.77,844.75 385.67,844.67 387.58,844.59 389.50,844.51 391.44,844.43 393.38,844.35 395.34,844.27 397.32,844.19 399.30,844.12 401.30,844.05 403.31,843.97 405.33,843.90 407.37,843.83 409.41,843.76 411.47,843.70 413.54,843.63 415.63,843.57 417.72,843.50 419.83,843.44 421.95,843.38 424.09,843.32 426.23,843.26 428.39,843.20 430.56,843.14 432.75,843.08 434.94,843.03 437.15,842.97 439.37,842.92 441.60,842.86 443.85,842.81 446.10,842.76 448.37,842.71 450.66,842.66 452.95,842.61 455.26,842.56 457.58,842.51 459.91,842.46 462.25,842.42 464.61,842.37 466.98,842.32 469.36,842.28 471.75,842.24 474.16,842.19 476.57,842.15 479.00,842.11 481.45,842.07 483.90,842.03 486.37,841.99" fill="none" stroke="#000" stroke-width="1.1"/>
<path d="M241.13 940.16V949.25M237.73 940.16H244.53M237.73 949.25H244.53" stroke="#000" stroke-width="1.1" fill="none"/>
<path d="M243.26 919.32V925.23M239.86 919.32H246.66M239.86 925.23H246.66" stroke="#000" stroke-width="1.1" fill="none"/>
<path d="M245.40 906.13V910.68M242.00 906.13H248.80M242.00 910.68H248.80" stroke="#000" stroke-width="1.1" fill="none"/>
<path d="M247.53 894.98V902.26M244.13 894.98H250.93M244.13 902.26H250.93" stroke="#000" stroke-width="1.1" fill="none"/>
<path d="M251.79 884.97V894.07M248.39 884.97H255.19M248.39 894.07H255.19" stroke="#000" stroke-width="1.1" fill="none"/>
<path d="M256.06 879.29V889.29M252.66 879.29H259.46M252.66 889.29H259.46" stroke="#000" stroke-width="1.1" fill="none"/>
<path d="M273.12 865.64V875.65M269.72 865.64H276.52M269.72 875.65H276.52" stroke="#000" stroke-width="1.1" fill="none"/>
<path d="M290.18 857.45V864.27M286.78 857.45H293.58M286.78 864.27H293.58" stroke="#000" stroke-width="1.1" fill="none"/>
<path d="M298.71 856.31V866.32M295.31 856.31H302.11M295.31 866.32H302.11" stroke="#000" stroke-width="1.1" fill="none"/>
<path d="M315.77 847.90V856.08M312.37 847.90H319.17M312.37 856.08H319.17" stroke="#000" stroke-width="1.1" fill="none"/>
<path d="M358.42 837.66V846.30M355.02 837.66H361.82M355.02 846.30H361.82" stroke="#000" stroke-width="1.1" fill="none"/>
<path d="M401.07 835.38V843.57M397.67 835.38H404.47M397.67 843.57H404.47" stroke="#000" stroke-width="1.1" fill="none"/>
<path d="M486.37 832.43V840.62M482.97 832.43H489.77M482.97 840.62H489.77" stroke="#000" stroke-width="1.1" fill="none"/>
<circle cx="239.00" cy="970.50" r="3.5"/>
<circle cx="241.13" cy="944.71" r="3.5"/>
<circle cx="243.26" cy="922.28" r="3.5"/>
<circle cx="245.40" cy="908.40" r="3.5"/>
<circle cx="247.53" cy="898.62" r="3.5"/>
<circle cx="251.79" cy="889.52" r="3.5"/>
<circle cx="256.06" cy="884.29" r="3.5"/>
<circle cx="273.12" cy="870.64" r="3.5"/>
<circle cx="290.18" cy="860.86" r="3.5"/>
<circle cx="298.71" cy="861.32" r="3.5"/>
<circle cx="315.77" cy="851.99" r="3.5"/>
<circle cx="358.42" cy="841.98" r="3.5"/>
<circle cx="401.07" cy="839.48" r="3.5"/>
<circle cx="486.37" cy="836.52" r="3.5"/>
<rect x="355.50" y="856.20" width="130.00" height="86.00" fill="#fff" stroke="#1a1a1a" stroke-width="1.2"/>
<path d="M355.50 893.20H485.50" stroke="#b0b0b0" stroke-width="0.9"/>
<polyline points="355.5,884.8 356.4,884.0 357.2,884.4 358.1,883.4 359.0,884.4 359.8,879.2 360.7,881.0 361.6,881.6 362.4,880.4 363.3,879.2 364.2,879.7 365.0,878.4 365.9,876.3 366.8,877.0 367.6,875.2 368.5,874.7 369.4,875.4 370.2,871.0 371.1,871.1 372.0,870.4 372.8,871.8 373.7,869.4 374.6,869.5 375.4,869.0 376.3,867.5 377.2,866.5 378.0,865.9 378.9,865.6 379.8,863.7 380.6,863.6 381.5,863.1 382.4,863.3 383.2,862.4 384.1,862.4 385.0,862.5 385.8,860.5 386.7,861.6 387.6,861.7 388.4,861.7 389.3,861.5 390.2,861.6 391.0,862.4 391.9,863.5 392.8,864.7 393.6,866.0 394.5,867.4 395.4,869.0 396.2,870.5 397.1,872.5 398.0,874.6 398.8,877.9 399.7,879.5 400.6,882.6 401.4,886.0 402.3,888.9 403.2,892.3 404.0,896.6 404.9,899.5 405.8,902.8 406.6,905.7 407.5,908.8 408.4,912.8 409.2,916.6 410.1,919.6 411.0,922.1 411.8,925.0 412.7,927.1 413.6,929.1 414.4,929.8 415.3,932.1 416.2,932.3 417.0,932.6 417.9,932.5 418.8,931.7 419.6,931.0 420.5,930.5 421.4,929.3 422.2,928.2 423.1,926.4 424.0,924.9 424.8,923.4 425.7,921.7 426.6,920.8 427.4,919.0 428.3,917.1 429.2,915.8 430.0,913.8 430.9,911.8 431.8,911.0 432.6,909.5 433.5,907.7 434.4,906.5 435.2,905.4 436.1,904.1 437.0,902.7 437.8,902.2 438.7,901.8 439.6,900.0 440.4,899.5 441.3,898.4 442.2,898.0 443.0,897.9 443.9,897.3 444.8,896.7 445.6,896.5 446.5,896.1 447.4,895.8 448.2,895.5 449.1,895.4 450.0,894.9 450.8,895.0 451.7,894.9 452.6,894.7 453.4,894.2 454.3,894.0 455.2,894.0 456.0,894.1 456.9,894.2 457.8,894.1 458.6,893.8 459.5,893.6 460.4,893.7 461.2,894.3 462.1,893.7 463.0,893.9 463.8,893.6 464.7,893.7 465.6,893.4 466.4,893.9 467.3,893.3 468.2,893.3 469.0,893.3 469.9,893.5 470.8,893.3 471.6,893.6 472.5,893.5 473.4,893.8 474.2,893.4 475.1,892.8 476.0,893.3 476.8,893.5 477.7,893.4 478.6,893.1 479.4,893.5 480.3,893.4 481.2,894.0 482.0,893.0 482.9,893.2 483.8,893.6 484.6,893.3 485.5,893.0" fill="none" stroke="#111" stroke-width="0.8" stroke-linejoin="round"/>
<polyline points="355.5,880.4 356.4,883.2 357.2,883.1 358.1,883.4 359.0,885.5 359.8,883.7 360.7,882.1 361.6,882.7 362.4,880.1 363.3,878.6 364.2,880.3 365.0,878.2 365.9,877.1 366.8,878.3 367.6,876.1 368.5,874.3 369.4,874.8 370.2,872.5 371.1,871.0 372.0,870.5 372.8,871.3 373.7,870.9 374.6,868.3 375.4,867.2 376.3,867.7 377.2,866.1 378.0,866.0 378.9,866.7 379.8,865.0 380.6,864.1 381.5,863.8 382.4,863.7 383.2,862.6 384.1,863.8 385.0,863.5 385.8,862.8 386.7,862.9 387.6,862.7 388.4,862.2 389.3,863.4 390.2,863.2 391.0,863.5 391.9,864.7 392.8,865.3 393.6,866.1 394.5,868.1 395.4,869.0 396.2,871.6 397.1,873.3 398.0,875.1 398.8,877.7 399.7,880.5 400.6,883.4 401.4,886.0 402.3,890.2 403.2,892.6 404.0,895.9 404.9,898.3 405.8,902.5 406.6,905.9 407.5,909.0 408.4,912.4 409.2,915.4 410.1,918.8 411.0,921.7 411.8,924.0 412.7,926.7 413.6,927.9 414.4,930.0 415.3,931.3 416.2,932.1 417.0,931.8 417.9,931.5 418.8,930.5 419.6,930.9 420.5,930.1 421.4,928.1 422.2,927.2 423.1,925.6 424.0,925.4 424.8,923.4 425.7,921.8 426.6,919.9 427.4,918.5 428.3,917.5 429.2,915.3 430.0,913.9 430.9,911.9 431.8,910.1 432.6,908.8 433.5,908.1 434.4,905.9 435.2,904.8 436.1,903.5 437.0,903.1 437.8,902.4 438.7,900.9 439.6,900.1 440.4,899.3 441.3,898.9 442.2,898.3 443.0,897.7 443.9,897.1 444.8,896.3 445.6,896.0 446.5,895.8 447.4,895.7 448.2,894.9 449.1,895.4 450.0,894.6 450.8,894.5 451.7,894.0 452.6,895.1 453.4,894.4 454.3,894.4 455.2,894.6 456.0,894.6 456.9,893.6 457.8,894.0 458.6,894.0 459.5,894.0 460.4,893.6 461.2,894.4 462.1,893.8 463.0,893.6 463.8,893.5 464.7,893.4 465.6,893.5 466.4,894.1 467.3,893.6 468.2,893.4 469.0,893.4 469.9,893.4 470.8,893.3 471.6,894.1 472.5,893.3 473.4,893.3 474.2,893.2 475.1,893.8 476.0,893.6 476.8,893.3 477.7,893.2 478.6,893.0 479.4,893.2 480.3,893.3 481.2,893.3 482.0,893.1 482.9,893.1 483.8,893.0 484.6,893.0 485.5,893.6" fill="none" stroke="#111" stroke-width="0.8" stroke-linejoin="round"/>
<polyline points="355.5,885.2 356.4,885.2 357.2,886.1 358.1,882.4 359.0,882.3 359.8,883.7 360.7,882.1 361.6,880.6 362.4,881.4 363.3,882.0 364.2,879.2 365.0,879.9 365.9,877.0 366.8,877.4 367.6,876.2 368.5,875.0 369.4,875.1 370.2,873.2 371.1,872.7 372.0,873.9 372.8,871.8 373.7,870.8 374.6,870.1 375.4,870.9 376.3,869.1 377.2,868.4 378.0,867.3 378.9,866.8 379.8,866.6 380.6,865.3 381.5,866.7 382.4,863.3 383.2,864.5 384.1,863.7 385.0,864.7 385.8,864.2 386.7,862.7 387.6,863.8 388.4,863.3 389.3,863.7 390.2,864.6 391.0,864.7 391.9,865.0 392.8,867.1 393.6,866.6 394.5,868.7 395.4,870.3 396.2,871.1 397.1,873.2 398.0,876.5 398.8,878.0 399.7,881.7 400.6,883.9 401.4,886.5 402.3,889.3 403.2,891.8 404.0,896.0 404.9,898.7 405.8,902.0 406.6,905.3 407.5,909.0 408.4,912.4 409.2,915.7 410.1,918.6 411.0,920.7 411.8,923.6 412.7,925.5 413.6,928.0 414.4,929.2 415.3,929.7 416.2,931.1 417.0,930.4 417.9,930.7 418.8,930.1 419.6,928.9 420.5,929.1 421.4,927.7 422.2,926.8 423.1,925.3 424.0,923.4 424.8,923.0 425.7,920.9 426.6,919.2 427.4,917.9 428.3,916.4 429.2,914.9 430.0,913.4 430.9,911.6 431.8,910.4 432.6,908.9 433.5,907.5 434.4,905.1 435.2,904.8 436.1,903.6 437.0,902.9 437.8,901.8 438.7,901.1 439.6,899.9 440.4,899.2 441.3,898.0 442.2,897.8 443.0,897.3 443.9,897.2 444.8,896.4 445.6,895.6 446.5,895.7 447.4,895.8 448.2,895.7 449.1,895.1 450.0,895.1 450.8,894.6 451.7,895.3 452.6,894.3 453.4,894.1 454.3,894.1 455.2,894.4 456.0,894.1 456.9,893.9 457.8,894.0 458.6,893.8 459.5,893.9 460.4,894.0 461.2,893.5 462.1,893.4 463.0,893.5 463.8,893.2 464.7,893.7 465.6,893.7 466.4,893.8 467.3,893.9 468.2,894.0 469.0,893.6 469.9,893.3 470.8,893.7 471.6,892.9 472.5,893.7 473.4,893.5 474.2,893.1 475.1,893.6 476.0,893.5 476.8,893.0 477.7,893.7 478.6,893.2 479.4,893.5 480.3,892.9 481.2,892.7 482.0,893.3 482.9,893.3 483.8,892.8 484.6,893.5 485.5,893.1" fill="none" stroke="#111" stroke-width="0.8" stroke-linejoin="round"/>
<polyline points="355.5,887.3 356.4,883.8 357.2,882.3 358.1,889.0 359.0,883.0 359.8,880.9 360.7,880.8 361.6,883.3 362.4,881.9 363.3,882.2 364.2,878.0 365.0,879.6 365.9,878.6 366.8,878.3 367.6,877.9 368.5,876.9 369.4,875.0 370.2,875.0 371.1,873.0 372.0,873.1 372.8,872.7 373.7,872.3 374.6,871.0 375.4,871.9 376.3,869.6 377.2,869.2 378.0,869.5 378.9,868.4 379.8,867.9 380.6,866.1 381.5,866.8 382.4,865.5 383.2,866.3 384.1,865.7 385.0,866.0 385.8,865.7 386.7,864.8 387.6,865.8 388.4,864.9 389.3,865.5 390.2,865.5 391.0,865.9 391.9,867.3 392.8,867.6 393.6,869.3 394.5,870.0 395.4,871.7 396.2,873.2 397.1,874.4 398.0,877.1 398.8,878.6 399.7,881.7 400.6,884.8 401.4,886.5 402.3,890.5 403.2,892.8 404.0,895.1 404.9,898.5 405.8,902.3 406.6,905.6 407.5,908.5 408.4,912.1 409.2,915.0 410.1,916.9 411.0,920.6 411.8,923.1 412.7,925.9 413.6,926.5 414.4,928.1 415.3,929.1 416.2,929.6 417.0,929.5 417.9,929.6 418.8,930.0 419.6,928.5 420.5,927.1 421.4,926.3 422.2,925.7 423.1,924.3 424.0,922.6 424.8,921.2 425.7,920.3 426.6,918.5 427.4,917.8 428.3,915.2 429.2,914.3 430.0,912.4 430.9,911.5 431.8,909.3 432.6,907.9 433.5,906.7 434.4,905.4 435.2,904.5 436.1,903.3 437.0,902.3 437.8,901.5 438.7,900.5 439.6,899.7 440.4,898.6 441.3,898.6 442.2,897.8 443.0,897.7 443.9,896.9 444.8,896.6 445.6,896.5 446.5,895.4 447.4,895.6 448.2,895.6 449.1,895.0 450.0,894.9 450.8,894.7 451.7,894.3 452.6,894.7 453.4,893.9 454.3,894.3 455.2,894.4 456.0,893.9 456.9,894.3 457.8,894.2 458.6,894.1 459.5,894.2 460.4,893.7 461.2,893.8 462.1,893.2 463.0,893.3 463.8,893.6 464.7,893.2 465.6,893.9 466.4,893.4 467.3,893.4 468.2,893.7 469.0,893.1 469.9,893.7 470.8,893.1 471.6,893.9 472.5,893.2 473.4,893.5 474.2,893.1 475.1,893.4 476.0,893.2 476.8,893.1 477.7,892.8 478.6,893.6 479.4,893.4 480.3,893.6 481.2,892.9 482.0,893.4 482.9,893.3 483.8,893.1 484.6,893.1 485.5,893.6" fill="none" stroke="#111" stroke-width="0.8" stroke-linejoin="round"/>
<polyline points="355.5,885.5 356.4,886.9 357.2,886.0 358.1,888.8 359.0,884.9 359.8,883.3 360.7,883.3 361.6,882.3 362.4,881.9 363.3,882.2 364.2,880.1 365.0,879.5 365.9,878.5 366.8,879.0 367.6,878.5 368.5,877.5 369.4,877.3 370.2,877.9 371.1,875.3 372.0,874.9 372.8,874.2 373.7,873.5 374.6,873.9 375.4,872.7 376.3,871.6 377.2,871.3 378.0,871.3 378.9,869.5 379.8,869.1 380.6,869.4 381.5,869.1 382.4,869.5 383.2,869.1 384.1,867.5 385.0,866.6 385.8,867.3 386.7,868.0 387.6,866.4 388.4,867.2 389.3,867.3 390.2,867.9 391.0,867.5 391.9,868.3 392.8,869.6 393.6,870.9 394.5,870.7 395.4,873.3 396.2,874.1 397.1,877.2 398.0,877.9 398.8,880.9 399.7,882.7 400.6,885.3 401.4,888.1 402.3,890.6 403.2,893.2 404.0,896.0 404.9,899.6 405.8,903.3 406.6,905.4 407.5,908.5 408.4,911.1 409.2,914.6 410.1,917.6 411.0,920.4 411.8,922.0 412.7,925.0 413.6,926.2 414.4,928.2 415.3,929.2 416.2,929.6 417.0,929.2 417.9,929.4 418.8,928.7 419.6,927.7 420.5,927.3 421.4,926.6 422.2,924.9 423.1,924.1 424.0,922.8 424.8,921.1 425.7,919.8 426.6,917.9 427.4,916.9 428.3,915.6 429.2,913.5 430.0,912.2 430.9,911.1 431.8,910.0 432.6,908.0 433.5,906.2 434.4,905.4 435.2,904.1 436.1,902.7 437.0,902.1 437.8,901.5 438.7,900.8 439.6,899.9 440.4,898.3 441.3,898.2 442.2,897.7 443.0,896.6 443.9,896.6 444.8,896.2 445.6,896.3 446.5,895.9 447.4,895.3 448.2,895.5 449.1,895.1 450.0,894.9 450.8,894.7 451.7,894.2 452.6,894.4 453.4,894.5 454.3,894.0 455.2,894.5 456.0,894.5 456.9,894.2 457.8,893.8 458.6,894.0 459.5,893.7 460.4,894.0 461.2,893.5 462.1,894.0 463.0,893.6 463.8,893.7 464.7,893.4 465.6,893.8 466.4,893.7 467.3,893.5 468.2,893.4 469.0,893.5 469.9,893.1 470.8,893.3 471.6,893.8 472.5,893.8 473.4,893.4 474.2,893.4 475.1,893.6 476.0,893.8 476.8,893.6 477.7,893.6 478.6,892.7 479.4,893.4 480.3,893.0 481.2,892.8 482.0,892.7 482.9,894.1 483.8,893.4 484.6,893.0 485.5,893.4" fill="none" stroke="#111" stroke-width="0.8" stroke-linejoin="round"/>
<polyline points="355.5,884.8 356.4,886.2 357.2,888.5 358.1,885.7 359.0,883.3 359.8,885.0 360.7,884.2 361.6,881.6 362.4,883.6 363.3,883.0 364.2,880.7 365.0,881.5 365.9,880.6 366.8,879.3 367.6,879.0 368.5,878.2 369.4,878.7 370.2,877.6 371.1,877.4 372.0,875.1 372.8,875.8 373.7,874.8 374.6,874.7 375.4,874.0 376.3,873.3 377.2,871.7 378.0,871.8 378.9,872.2 379.8,871.1 380.6,871.3 381.5,870.6 382.4,869.2 383.2,870.1 384.1,869.3 385.0,869.1 385.8,868.4 386.7,869.2 387.6,868.6 388.4,869.0 389.3,869.1 390.2,869.6 391.0,869.5 391.9,870.0 392.8,870.7 393.6,872.6 394.5,873.3 395.4,874.6 396.2,875.7 397.1,876.9 398.0,878.7 398.8,880.5 399.7,882.3 400.6,884.5 401.4,886.5 402.3,888.7 403.2,891.9 404.0,893.4 404.9,896.3 405.8,897.9 406.6,901.3 407.5,903.4 408.4,905.1 409.2,907.9 410.1,910.3 411.0,912.5 411.8,914.5 412.7,915.6 413.6,917.4 414.4,918.9 415.3,919.1 416.2,919.5 417.0,918.7 417.9,919.5 418.8,919.2 419.6,918.0 420.5,918.7 421.4,917.1 422.2,916.9 423.1,915.6 424.0,914.8 424.8,913.5 425.7,913.0 426.6,911.7 427.4,910.6 428.3,909.7 429.2,908.5 430.0,907.5 430.9,905.7 431.8,904.8 432.6,903.9 433.5,903.1 434.4,902.1 435.2,901.6 436.1,901.3 437.0,899.6 437.8,899.9 438.7,899.0 439.6,897.6 440.4,897.3 441.3,897.2 442.2,896.7 443.0,895.7 443.9,896.3 444.8,895.8 445.6,895.0 446.5,894.9 447.4,895.1 448.2,895.1 449.1,894.6 450.0,894.3 450.8,894.5 451.7,894.4 452.6,893.3 453.4,894.3 454.3,894.4 455.2,894.0 456.0,893.8 456.9,893.8 457.8,893.2 458.6,893.4 459.5,893.7 460.4,893.1 461.2,893.5 462.1,894.2 463.0,893.2 463.8,893.4 464.7,893.3 465.6,893.6 466.4,893.4 467.3,893.6 468.2,893.3 469.0,893.4 469.9,893.4 470.8,893.4 471.6,893.1 472.5,892.8 473.4,893.8 474.2,893.3 475.1,893.2 476.0,893.1 476.8,893.0 477.7,893.3 478.6,893.8 479.4,893.6 480.3,893.8 481.2,893.1 482.0,893.3 482.9,893.9 483.8,893.1 484.6,892.9 485.5,892.9" fill="none" stroke="#111" stroke-width="0.8" stroke-linejoin="round"/>
<polyline points="355.5,888.3 356.4,886.3 357.2,886.6 358.1,887.3 359.0,888.9 359.8,886.3 360.7,884.6 361.6,883.1 362.4,882.5 363.3,883.0 364.2,882.2 365.0,884.6 365.9,881.0 366.8,878.8 367.6,881.4 368.5,880.0 369.4,877.9 370.2,878.4 371.1,876.4 372.0,876.1 372.8,876.0 373.7,876.1 374.6,876.1 375.4,874.8 376.3,875.0 377.2,873.2 378.0,873.4 378.9,872.1 379.8,872.2 380.6,871.1 381.5,871.1 382.4,870.9 383.2,871.7 384.1,870.5 385.0,870.2 385.8,870.1 386.7,871.1 387.6,870.2 388.4,870.6 389.3,870.3 390.2,871.5 391.0,870.3 391.9,870.9 392.8,871.4 393.6,873.1 394.5,874.0 395.4,875.3 396.2,876.5 397.1,879.2 398.0,879.6 398.8,881.1 399.7,883.0 400.6,885.3 401.4,887.5 402.3,889.3 403.2,891.8 404.0,893.5 404.9,895.7 405.8,897.8 406.6,900.9 407.5,903.8 408.4,905.5 409.2,908.1 410.1,909.8 411.0,911.1 411.8,913.1 412.7,914.6 413.6,915.4 414.4,917.0 415.3,917.1 416.2,918.4 417.0,918.3 417.9,917.6 418.8,917.8 419.6,918.0 420.5,917.1 421.4,916.5 422.2,915.3 423.1,915.1 424.0,913.5 424.8,912.4 425.7,911.9 426.6,910.5 427.4,909.4 428.3,909.1 429.2,907.5 430.0,906.9 430.9,905.2 431.8,904.7 432.6,903.7 433.5,902.9 434.4,901.5 435.2,901.2 436.1,900.5 437.0,899.6 437.8,898.2 438.7,898.9 439.6,897.8 440.4,897.2 441.3,897.4 442.2,896.3 443.0,896.2 443.9,895.7 444.8,895.0 445.6,895.5 446.5,894.6 447.4,894.7 448.2,894.9 449.1,894.4 450.0,894.9 450.8,894.7 451.7,894.9 452.6,894.3 453.4,894.1 454.3,894.2 455.2,894.2 456.0,893.9 456.9,893.9 457.8,892.9 458.6,893.6 459.5,893.4 460.4,894.0 461.2,894.1 462.1,893.7 463.0,893.7 463.8,892.8 464.7,892.7 465.6,893.3 466.4,893.2 467.3,893.5 468.2,893.4 469.0,893.0 469.9,893.4 470.8,893.5 471.6,893.5 472.5,892.9 473.4,893.3 474.2,893.4 475.1,893.3 476.0,893.7 476.8,893.4 477.7,893.0 478.6,893.6 479.4,893.2 480.3,893.8 481.2,893.4 482.0,893.3 482.9,893.2 483.8,893.8 484.6,893.2 485.5,893.4" fill="none" stroke="#111" stroke-width="0.8" stroke-linejoin="round"/>
<polyline points="355.5,892.1 356.4,887.6 357.2,891.2 358.1,887.0 359.0,889.3 359.8,887.7 360.7,888.3 361.6,885.2 362.4,888.3 363.3,888.1 364.2,885.9 365.0,887.0 365.9,885.4 366.8,883.4 367.6,882.9 368.5,884.5 369.4,883.2 370.2,882.3 371.1,881.9 372.0,880.9 372.8,881.3 373.7,881.9 374.6,880.7 375.4,880.4 376.3,880.9 377.2,879.0 378.0,879.7 378.9,878.8 379.8,878.5 380.6,878.3 381.5,878.2 382.4,878.2 383.2,877.9 384.1,877.4 385.0,877.5 385.8,877.2 386.7,876.5 387.6,876.4 388.4,876.1 389.3,877.2 390.2,877.2 391.0,877.6 391.9,878.1 392.8,877.9 393.6,879.6 394.5,880.1 395.4,880.7 396.2,881.7 397.1,883.5 398.0,883.3 398.8,885.2 399.7,887.2 400.6,888.2 401.4,889.6 402.3,891.1 403.2,893.2 404.0,895.3 404.9,896.6 405.8,899.1 406.6,901.0 407.5,902.9 408.4,904.0 409.2,906.3 410.1,908.5 411.0,909.6 411.8,911.1 412.7,912.2 413.6,912.9 414.4,914.7 415.3,914.4 416.2,915.5 417.0,915.4 417.9,914.4 418.8,915.1 419.6,914.7 420.5,914.2 421.4,913.6 422.2,913.1 423.1,911.8 424.0,911.4 424.8,910.2 425.7,909.1 426.6,908.5 427.4,907.4 428.3,906.6 429.2,905.4 430.0,904.4 430.9,903.6 431.8,903.1 432.6,902.1 433.5,901.5 434.4,900.7 435.2,899.4 436.1,899.5 437.0,898.2 437.8,898.2 438.7,897.7 439.6,897.3 440.4,896.2 441.3,896.3 442.2,896.4 443.0,895.6 443.9,895.4 444.8,895.3 445.6,894.8 446.5,895.0 447.4,894.6 448.2,894.7 449.1,894.7 450.0,894.3 450.8,894.0 451.7,894.3 452.6,893.5 453.4,894.3 454.3,894.1 455.2,893.3 456.0,894.2 456.9,893.9 457.8,893.4 458.6,894.2 459.5,893.5 460.4,893.6 461.2,893.8 462.1,893.6 463.0,893.7 463.8,893.6 464.7,893.9 465.6,893.7 466.4,893.5 467.3,893.6 468.2,893.2 469.0,893.6 469.9,893.2 470.8,894.2 471.6,893.4 472.5,893.2 473.4,893.7 474.2,892.8 475.1,893.1 476.0,893.5 476.8,893.5 477.7,893.2 478.6,893.3 479.4,893.3 480.3,893.8 481.2,893.2 482.0,893.5 482.9,893.1 483.8,892.8 484.6,892.8 485.5,893.7" fill="none" stroke="#111" stroke-width="0.8" stroke-linejoin="round"/>
<polyline points="355.5,886.0 356.4,888.5 357.2,889.6 358.1,889.7 359.0,884.2 359.8,890.2 360.7,890.9 361.6,888.2 362.4,887.4 363.3,884.3 364.2,887.2 365.0,885.0 365.9,885.3 366.8,885.0 367.6,884.9 368.5,883.0 369.4,884.5 370.2,883.8 371.1,883.3 372.0,884.6 372.8,882.5 373.7,882.1 374.6,881.7 375.4,882.0 376.3,881.9 377.2,879.2 378.0,880.2 378.9,880.0 379.8,879.7 380.6,880.3 381.5,878.9 382.4,878.3 383.2,878.9 384.1,877.8 385.0,879.1 385.8,878.8 386.7,878.9 387.6,878.5 388.4,878.9 389.3,878.3 390.2,879.2 391.0,878.5 391.9,879.7 392.8,880.7 393.6,880.5 394.5,881.1 395.4,881.9 396.2,882.7 397.1,883.9 398.0,884.5 398.8,885.8 399.7,887.6 400.6,888.9 401.4,890.6 402.3,892.1 403.2,894.0 404.0,894.0 404.9,896.9 405.8,899.0 406.6,900.2 407.5,901.2 408.4,903.3 409.2,904.7 410.1,906.8 411.0,908.0 411.8,909.7 412.7,910.6 413.6,911.9 414.4,912.1 415.3,912.8 416.2,913.7 417.0,913.2 417.9,912.9 418.8,913.3 419.6,912.5 420.5,911.9 421.4,911.4 422.2,910.8 423.1,909.8 424.0,909.8 424.8,908.5 425.7,908.2 426.6,906.6 427.4,906.0 428.3,905.1 429.2,904.4 430.0,903.1 430.9,903.1 431.8,901.7 432.6,901.4 433.5,900.4 434.4,899.7 435.2,899.7 436.1,898.5 437.0,898.2 437.8,897.9 438.7,897.3 439.6,896.5 440.4,896.4 441.3,896.0 442.2,895.8 443.0,895.5 443.9,894.8 444.8,895.5 445.6,894.4 446.5,894.4 447.4,894.6 448.2,894.7 449.1,894.1 450.0,893.7 450.8,893.8 451.7,894.3 452.6,894.0 453.4,893.6 454.3,893.7 455.2,894.2 456.0,893.6 456.9,893.0 457.8,893.8 458.6,893.5 459.5,894.4 460.4,893.1 461.2,894.0 462.1,892.8 463.0,893.4 463.8,893.2 464.7,893.6 465.6,894.1 466.4,893.5 467.3,893.4 468.2,893.0 469.0,893.6 469.9,893.5 470.8,893.1 471.6,892.8 472.5,893.1 473.4,893.4 474.2,893.2 475.1,893.7 476.0,893.1 476.8,893.6 477.7,892.7 478.6,892.9 479.4,894.0 480.3,893.4 481.2,893.2 482.0,892.8 482.9,893.6 483.8,893.4 484.6,893.0 485.5,893.3" fill="none" stroke="#111" stroke-width="0.8" stroke-linejoin="round"/>
<polyline points="355.5,890.6 356.4,891.0 357.2,889.9 358.1,890.9 359.0,892.0 359.8,887.7 360.7,888.8 361.6,889.2 362.4,887.9 363.3,887.3 364.2,887.3 365.0,888.4 365.9,887.1 366.8,884.0 367.6,886.3 368.5,884.8 369.4,885.0 370.2,884.4 371.1,884.7 372.0,885.4 372.8,883.9 373.7,883.7 374.6,884.2 375.4,883.2 376.3,883.8 377.2,883.3 378.0,882.6 378.9,882.4 379.8,881.4 380.6,881.8 381.5,881.6 382.4,880.3 383.2,880.6 384.1,881.3 385.0,882.2 385.8,881.8 386.7,880.8 387.6,881.0 388.4,881.8 389.3,881.1 390.2,880.2 391.0,881.9 391.9,881.7 392.8,882.1 393.6,882.5 394.5,883.5 395.4,884.0 396.2,884.7 397.1,884.8 398.0,886.8 398.8,887.0 399.7,888.0 400.6,889.5 401.4,890.3 402.3,891.3 403.2,892.5 404.0,893.9 404.9,896.0 405.8,897.3 406.6,898.1 407.5,899.7 408.4,901.2 409.2,903.7 410.1,903.9 411.0,905.0 411.8,906.4 412.7,907.1 413.6,907.3 414.4,908.3 415.3,909.3 416.2,909.0 417.0,909.1 417.9,908.9 418.8,909.4 419.6,908.9 420.5,908.6 421.4,907.5 422.2,907.3 423.1,906.6 424.0,906.5 424.8,905.1 425.7,904.7 426.6,903.9 427.4,903.5 428.3,902.6 429.2,902.3 430.0,901.7 430.9,901.5 431.8,900.1 432.6,899.7 433.5,898.2 434.4,897.7 435.2,897.2 436.1,897.8 437.0,897.7 437.8,896.7 438.7,896.5 439.6,896.2 440.4,895.4 441.3,895.7 442.2,894.9 443.0,895.1 443.9,895.1 444.8,894.3 445.6,894.6 446.5,894.1 447.4,894.6 448.2,894.1 449.1,893.9 450.0,893.7 450.8,893.8 451.7,893.9 452.6,893.4 453.4,893.7 454.3,894.0 455.2,893.1 456.0,894.2 456.9,893.6 457.8,893.3 458.6,892.7 459.5,893.7 460.4,893.9 461.2,893.5 462.1,893.5 463.0,893.7 463.8,893.5 464.7,893.5 465.6,893.3 466.4,893.4 467.3,893.0 468.2,893.3 469.0,893.7 469.9,892.6 470.8,893.7 471.6,893.1 472.5,893.0 473.4,893.3 474.2,893.5 475.1,893.5 476.0,893.6 476.8,893.6 477.7,893.4 478.6,893.1 479.4,893.2 480.3,893.4 481.2,893.6 482.0,893.1 482.9,893.3 483.8,893.2 484.6,893.8 485.5,893.4" fill="none" stroke="#111" stroke-width="0.8" stroke-linejoin="round"/>
<polyline points="355.5,891.0 356.4,890.8 357.2,891.8 358.1,889.8 359.0,889.1 359.8,889.8 360.7,886.9 361.6,887.1 362.4,889.2 363.3,890.8 364.2,890.4 365.0,888.3 365.9,888.5 366.8,889.3 367.6,888.2 368.5,888.4 369.4,887.0 370.2,886.7 371.1,885.9 372.0,886.8 372.8,886.1 373.7,886.8 374.6,886.1 375.4,885.6 376.3,885.2 377.2,884.7 378.0,884.3 378.9,884.9 379.8,883.6 380.6,884.6 381.5,883.0 382.4,883.1 383.2,883.2 384.1,884.2 385.0,883.7 385.8,882.4 386.7,883.5 387.6,883.3 388.4,883.7 389.3,883.8 390.2,883.7 391.0,884.1 391.9,884.7 392.8,884.1 393.6,885.3 394.5,885.8 395.4,885.6 396.2,886.5 397.1,887.7 398.0,887.1 398.8,888.3 399.7,889.1 400.6,889.5 401.4,891.1 402.3,892.1 403.2,892.3 404.0,893.3 404.9,895.2 405.8,896.4 406.6,897.2 407.5,897.9 408.4,899.5 409.2,900.2 410.1,902.0 411.0,901.7 411.8,902.5 412.7,903.9 413.6,904.1 414.4,904.2 415.3,905.0 416.2,906.1 417.0,905.4 417.9,905.0 418.8,905.2 419.6,905.1 420.5,904.5 421.4,904.3 422.2,903.8 423.1,903.8 424.0,903.6 424.8,902.6 425.7,902.0 426.6,901.9 427.4,901.2 428.3,900.4 429.2,900.4 430.0,899.3 430.9,899.0 431.8,898.9 432.6,897.6 433.5,898.0 434.4,896.9 435.2,896.9 436.1,896.6 437.0,895.8 437.8,895.5 438.7,895.3 439.6,894.7 440.4,895.2 441.3,895.0 442.2,894.9 443.0,894.6 443.9,894.0 444.8,894.3 445.6,894.1 446.5,893.9 447.4,894.1 448.2,893.9 449.1,894.1 450.0,893.5 450.8,893.8 451.7,893.7 452.6,893.7 453.4,894.2 454.3,893.9 455.2,894.1 456.0,893.3 456.9,893.5 457.8,894.0 458.6,892.8 459.5,893.6 460.4,893.5 461.2,893.4 462.1,892.9 463.0,893.9 463.8,893.3 464.7,893.2 465.6,893.2 466.4,893.2 467.3,892.8 468.2,893.6 469.0,893.2 469.9,893.8 470.8,893.6 471.6,893.2 472.5,894.3 473.4,893.9 474.2,893.2 475.1,893.8 476.0,893.1 476.8,893.5 477.7,893.0 478.6,893.3 479.4,893.2 480.3,893.4 481.2,892.9 482.0,892.9 482.9,893.5 483.8,893.5 484.6,893.1 485.5,893.9" fill="none" stroke="#111" stroke-width="0.8" stroke-linejoin="round"/>
<polyline points="355.5,892.4 356.4,891.8 357.2,892.6 358.1,889.3 359.0,890.1 359.8,891.1 360.7,889.5 361.6,888.5 362.4,890.7 363.3,889.0 364.2,888.6 365.0,889.0 365.9,888.3 366.8,890.8 367.6,889.3 368.5,887.6 369.4,889.4 370.2,889.1 371.1,888.5 372.0,889.8 372.8,887.4 373.7,888.3 374.6,888.6 375.4,887.9 376.3,886.9 377.2,886.6 378.0,886.0 378.9,886.0 379.8,886.6 380.6,886.5 381.5,887.0 382.4,886.8 383.2,885.6 384.1,885.6 385.0,887.2 385.8,885.7 386.7,886.5 387.6,885.8 388.4,886.4 389.3,886.6 390.2,886.3 391.0,886.2 391.9,886.3 392.8,887.0 393.6,887.2 394.5,887.1 395.4,888.0 396.2,888.5 397.1,888.8 398.0,889.2 398.8,889.3 399.7,890.0 400.6,890.4 401.4,891.3 402.3,891.8 403.2,892.0 404.0,893.1 404.9,893.8 405.8,894.8 406.6,895.3 407.5,895.8 408.4,896.1 409.2,897.4 410.1,898.3 411.0,898.4 411.8,899.6 412.7,900.2 413.6,899.8 414.4,900.2 415.3,901.1 416.2,899.9 417.0,901.2 417.9,900.2 418.8,900.4 419.6,900.6 420.5,900.2 421.4,900.2 422.2,899.5 423.1,899.2 424.0,899.0 424.8,899.4 425.7,898.6 426.6,897.9 427.4,897.5 428.3,898.1 429.2,897.8 430.0,896.9 430.9,897.2 431.8,896.7 432.6,896.2 433.5,896.3 434.4,895.6 435.2,895.2 436.1,895.5 437.0,894.4 437.8,894.4 438.7,894.4 439.6,894.1 440.4,894.2 441.3,894.2 442.2,894.3 443.0,894.1 443.9,894.0 444.8,894.3 445.6,893.6 446.5,893.8 447.4,893.8 448.2,893.3 449.1,893.6 450.0,893.4 450.8,893.3 451.7,893.6 452.6,893.3 453.4,893.1 454.3,893.6 455.2,893.6 456.0,893.0 456.9,893.5 457.8,893.4 458.6,892.7 459.5,892.9 460.4,893.2 461.2,893.2 462.1,893.0 463.0,892.8 463.8,893.4 464.7,893.0 465.6,893.7 466.4,893.9 467.3,893.2 468.2,893.0 469.0,893.4 469.9,893.1 470.8,893.4 471.6,893.1 472.5,893.2 473.4,893.4 474.2,893.3 475.1,892.6 476.0,893.0 476.8,893.7 477.7,893.2 478.6,893.9 479.4,893.3 480.3,893.8 481.2,893.1 482.0,893.0 482.9,893.8 483.8,893.1 484.6,893.1 485.5,893.4" fill="none" stroke="#111" stroke-width="0.8" stroke-linejoin="round"/>
<polyline points="355.5,896.0 356.4,893.1 357.2,893.3 358.1,892.1 359.0,893.9 359.8,889.5 360.7,891.3 361.6,894.7 362.4,894.9 363.3,890.6 364.2,892.8 365.0,890.2 365.9,890.2 366.8,890.8 367.6,890.7 368.5,891.1 369.4,891.8 370.2,889.7 371.1,890.4 372.0,891.3 372.8,890.8 373.7,888.8 374.6,890.6 375.4,888.8 376.3,888.5 377.2,889.6 378.0,889.2 378.9,889.9 379.8,889.1 380.6,889.6 381.5,890.7 382.4,889.6 383.2,889.6 384.1,890.0 385.0,889.5 385.8,888.7 386.7,889.9 387.6,888.5 388.4,889.0 389.3,889.1 390.2,889.9 391.0,888.7 391.9,888.2 392.8,888.9 393.6,890.0 394.5,889.8 395.4,889.5 396.2,890.0 397.1,890.3 398.0,890.2 398.8,891.0 399.7,891.7 400.6,891.7 401.4,892.2 402.3,892.1 403.2,892.8 404.0,893.4 404.9,893.9 405.8,894.2 406.6,894.3 407.5,894.7 408.4,894.4 409.2,895.1 410.1,896.1 411.0,896.1 411.8,896.5 412.7,897.6 413.6,897.7 414.4,897.3 415.3,897.6 416.2,897.0 417.0,897.6 417.9,897.6 418.8,897.4 419.6,897.3 420.5,896.7 421.4,898.0 422.2,897.8 423.1,896.9 424.0,896.7 424.8,896.7 425.7,896.7 426.6,896.2 427.4,896.1 428.3,895.8 429.2,896.0 430.0,895.8 430.9,895.1 431.8,894.7 432.6,895.0 433.5,894.5 434.4,894.8 435.2,894.6 436.1,894.3 437.0,894.1 437.8,893.9 438.7,894.0 439.6,893.5 440.4,894.0 441.3,894.3 442.2,893.3 443.0,893.5 443.9,893.8 444.8,894.0 445.6,893.3 446.5,893.5 447.4,893.5 448.2,893.4 449.1,893.3 450.0,893.6 450.8,893.1 451.7,893.0 452.6,893.0 453.4,893.3 454.3,893.3 455.2,893.2 456.0,893.4 456.9,893.1 457.8,893.8 458.6,893.6 459.5,893.3 460.4,893.2 461.2,892.9 462.1,892.8 463.0,893.4 463.8,893.5 464.7,893.3 465.6,893.2 466.4,893.5 467.3,893.2 468.2,893.4 469.0,892.9 469.9,893.3 470.8,892.9 471.6,893.8 472.5,893.3 473.4,893.1 474.2,892.6 475.1,893.1 476.0,893.1 476.8,893.4 477.7,892.9 478.6,893.4 479.4,893.4 480.3,892.7 481.2,893.4 482.0,893.6 482.9,893.3 483.8,893.8 484.6,893.1 485.5,893.3" fill="none" stroke="#111" stroke-width="0.8" stroke-linejoin="round"/>
<polyline points="355.5,894.5 356.4,891.8 357.2,895.6 358.1,891.8 359.0,890.0 359.8,892.0 360.7,894.5 361.6,894.3 362.4,892.8 363.3,892.2 364.2,891.5 365.0,892.1 365.9,893.8 366.8,892.3 367.6,890.5 368.5,892.5 369.4,891.8 370.2,891.3 371.1,891.2 372.0,891.1 372.8,891.8 373.7,891.7 374.6,892.5 375.4,891.4 376.3,890.8 377.2,891.8 378.0,891.0 378.9,892.1 379.8,890.6 380.6,890.5 381.5,890.6 382.4,890.9 383.2,890.3 384.1,891.4 385.0,891.2 385.8,891.1 386.7,891.6 387.6,891.5 388.4,890.8 389.3,891.2 390.2,890.3 391.0,890.0 391.9,890.4 392.8,890.5 393.6,890.5 394.5,891.8 395.4,891.6 396.2,891.6 397.1,892.1 398.0,892.0 398.8,891.6 399.7,892.3 400.6,891.8 401.4,892.5 402.3,893.6 403.2,892.7 404.0,893.4 404.9,892.4 405.8,893.1 406.6,894.1 407.5,893.7 408.4,893.9 409.2,894.7 410.1,894.1 411.0,894.6 411.8,894.9 412.7,895.1 413.6,894.4 414.4,895.0 415.3,895.2 416.2,894.9 417.0,895.6 417.9,894.4 418.8,895.1 419.6,895.4 420.5,895.3 421.4,894.6 422.2,894.7 423.1,894.6 424.0,894.2 424.8,894.5 425.7,894.5 426.6,894.3 427.4,895.0 428.3,893.9 429.2,894.4 430.0,894.3 430.9,894.1 431.8,894.6 432.6,894.3 433.5,893.9 434.4,893.8 435.2,894.4 436.1,893.4 437.0,893.2 437.8,894.0 438.7,893.6 439.6,893.9 440.4,893.6 441.3,892.9 442.2,893.6 443.0,893.0 443.9,893.1 444.8,893.5 445.6,892.9 446.5,893.7 447.4,892.9 448.2,893.4 449.1,893.4 450.0,893.1 450.8,893.5 451.7,893.7 452.6,893.0 453.4,893.1 454.3,893.0 455.2,893.3 456.0,893.3 456.9,893.2 457.8,893.5 458.6,893.6 459.5,892.9 460.4,893.6 461.2,892.9 462.1,893.5 463.0,893.4 463.8,893.6 464.7,893.2 465.6,893.6 466.4,893.9 467.3,893.3 468.2,893.7 469.0,893.3 469.9,893.4 470.8,892.9 471.6,892.8 472.5,892.7 473.4,893.4 474.2,892.9 475.1,893.4 476.0,893.2 476.8,893.4 477.7,893.4 478.6,893.2 479.4,892.7 480.3,893.3 481.2,893.2 482.0,893.2 482.9,892.9 483.8,893.3 484.6,893.0 485.5,892.8" fill="none" stroke="#111" stroke-width="0.8" stroke-linejoin="round"/>
<polyline points="355.5,894.4 356.4,889.2 357.2,892.0 358.1,894.7 359.0,892.9 359.8,892.9 360.7,893.8 361.6,892.4 362.4,892.9 363.3,894.2 364.2,891.3 365.0,892.7 365.9,894.7 366.8,894.9 367.6,892.7 368.5,893.0 369.4,892.7 370.2,892.2 371.1,892.3 372.0,891.8 372.8,892.9 373.7,892.3 374.6,892.9 375.4,893.0 376.3,892.7 377.2,892.8 378.0,893.0 378.9,893.6 379.8,893.2 380.6,892.2 381.5,893.3 382.4,893.3 383.2,892.5 384.1,893.1 385.0,892.5 385.8,893.2 386.7,893.0 387.6,892.8 388.4,892.7 389.3,893.2 390.2,892.5 391.0,893.0 391.9,893.6 392.8,892.3 393.6,892.6 394.5,892.9 395.4,892.3 396.2,892.9 397.1,892.9 398.0,892.3 398.8,893.6 399.7,892.7 400.6,893.6 401.4,892.6 402.3,893.0 403.2,892.8 404.0,892.5 404.9,893.1 405.8,893.0 406.6,893.5 407.5,892.8 408.4,893.4 409.2,893.0 410.1,893.4 411.0,893.1 411.8,893.4 412.7,892.8 413.6,893.4 414.4,893.3 415.3,893.2 416.2,893.6 417.0,893.0 417.9,893.0 418.8,893.4 419.6,893.6 420.5,893.6 421.4,893.2 422.2,894.0 423.1,893.5 424.0,893.1 424.8,893.0 425.7,893.4 426.6,893.6 427.4,893.7 428.3,893.0 429.2,893.2 430.0,893.7 430.9,893.4 431.8,893.5 432.6,893.4 433.5,893.5 434.4,893.5 435.2,892.8 436.1,893.3 437.0,892.8 437.8,893.3 438.7,894.0 439.6,893.1 440.4,893.2 441.3,893.0 442.2,893.5 443.0,893.2 443.9,893.4 444.8,892.8 445.6,893.3 446.5,893.5 447.4,893.1 448.2,892.8 449.1,892.9 450.0,893.2 450.8,893.1 451.7,893.5 452.6,892.2 453.4,892.7 454.3,892.8 455.2,894.0 456.0,893.3 456.9,893.6 457.8,893.1 458.6,893.2 459.5,893.3 460.4,893.9 461.2,893.6 462.1,892.9 463.0,893.1 463.8,893.5 464.7,892.7 465.6,893.2 466.4,892.7 467.3,893.4 468.2,893.3 469.0,893.0 469.9,893.0 470.8,893.6 471.6,892.9 472.5,893.3 473.4,893.6 474.2,893.0 475.1,893.4 476.0,893.4 476.8,893.5 477.7,893.1 478.6,893.0 479.4,893.0 480.3,893.2 481.2,893.5 482.0,893.1 482.9,893.1 483.8,893.2 484.6,892.6 485.5,893.2" fill="none" stroke="#111" stroke-width="0.8" stroke-linejoin="round"/>
<path d="M352.30 868.70H355.50" stroke="#000" stroke-width="1"/>
<text x="351.10" y="871.10" font-size="6.6" font-weight="normal" text-anchor="end">0.02</text>
<path d="M352.30 893.20H355.50" stroke="#000" stroke-width="1"/>
<text x="351.10" y="895.60" font-size="6.6" font-weight="normal" text-anchor="end">0.00</text>
<path d="M352.30 917.70H355.50" stroke="#000" stroke-width="1"/>
<text x="351.10" y="920.10" font-size="6.6" font-weight="normal" text-anchor="end">-0.02</text>
<path d="M352.30 942.20H355.50" stroke="#000" stroke-width="1"/>
<text x="351.10" y="944.60" font-size="6.6" font-weight="normal" text-anchor="end">-0.04</text>
<path d="M355.50 942.20V945.40" stroke="#000" stroke-width="1"/>
<text x="355.50" y="952.70" font-size="6.6" font-weight="normal" text-anchor="middle">350</text>
<path d="M377.17 942.20V945.40" stroke="#000" stroke-width="1"/>
<text x="377.17" y="952.70" font-size="6.6" font-weight="normal" text-anchor="middle">375</text>
<path d="M398.83 942.20V945.40" stroke="#000" stroke-width="1"/>
<text x="398.83" y="952.70" font-size="6.6" font-weight="normal" text-anchor="middle">400</text>
<path d="M420.50 942.20V945.40" stroke="#000" stroke-width="1"/>
<text x="420.50" y="952.70" font-size="6.6" font-weight="normal" text-anchor="middle">425</text>
<path d="M442.17 942.20V945.40" stroke="#000" stroke-width="1"/>
<text x="442.17" y="952.70" font-size="6.6" font-weight="normal" text-anchor="middle">450</text>
<path d="M463.83 942.20V945.40" stroke="#000" stroke-width="1"/>
<text x="463.83" y="952.70" font-size="6.6" font-weight="normal" text-anchor="middle">475</text>
<path d="M485.50 942.20V945.40" stroke="#000" stroke-width="1"/>
<text x="485.50" y="952.70" font-size="6.6" font-weight="normal" text-anchor="middle">500</text>
<text x="420.50" y="964.30" font-size="7" font-weight="normal" text-anchor="middle">Wavelength (nm)</text>
<text transform="translate(332.45 899.20) rotate(-90)" font-size="7" text-anchor="middle">Absorbance</text>
</svg></body></html>
